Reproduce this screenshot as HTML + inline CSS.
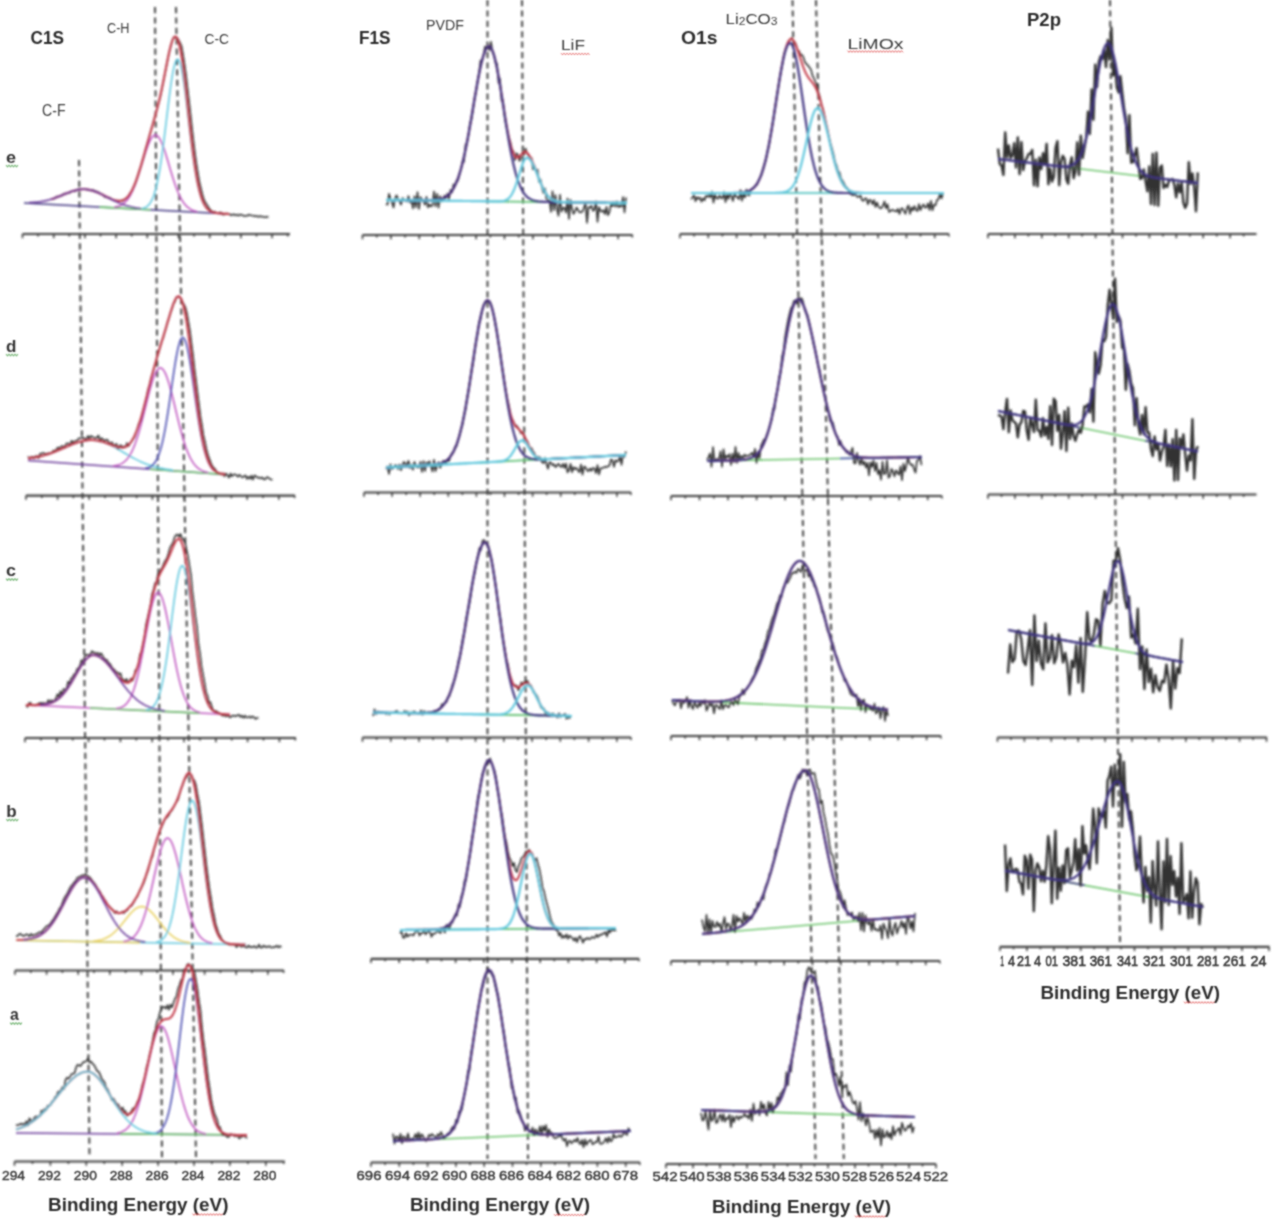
<!DOCTYPE html>
<html><head><meta charset="utf-8"><style>
html,body{margin:0;padding:0;background:#fff;}
body{width:1280px;height:1225px;overflow:hidden;font-family:"Liberation Sans",sans-serif;}
svg{display:block;}
</style></head><body>
<svg width="1280" height="1225" viewBox="0 0 1280 1225" font-family="Liberation Sans, sans-serif">
<rect width="1280" height="1225" fill="#fff"/>
<defs><filter id="bl" x="-5%" y="-5%" width="110%" height="110%"><feGaussianBlur stdDeviation="0.8"/></filter><filter id="bt" x="-5%" y="-5%" width="110%" height="110%"><feConvolveMatrix order="3" kernelMatrix="1 2 1 2 6 2 1 2 1" preserveAlpha="false"/></filter></defs>
<g filter="url(#bl)">
<line x1="79.0" y1="160.0" x2="89.5" y2="1158.0" stroke="#454545" stroke-width="2.0" stroke-dasharray="6.2 4.2"/>
<line x1="155.0" y1="7.0" x2="162.0" y2="1160.0" stroke="#454545" stroke-width="2.0" stroke-dasharray="6.2 4.2"/>
<line x1="176.0" y1="7.0" x2="196.0" y2="1158.0" stroke="#454545" stroke-width="2.0" stroke-dasharray="6.2 4.2"/>
<line x1="487.5" y1="0.0" x2="487.5" y2="1159.0" stroke="#454545" stroke-width="2.0" stroke-dasharray="6.2 4.2"/>
<line x1="522.0" y1="0.0" x2="528.0" y2="1159.0" stroke="#454545" stroke-width="2.0" stroke-dasharray="6.2 4.2"/>
<line x1="792.5" y1="0.0" x2="815.5" y2="1159.0" stroke="#454545" stroke-width="2.0" stroke-dasharray="6.2 4.2"/>
<line x1="816.0" y1="0.0" x2="843.8" y2="1159.0" stroke="#454545" stroke-width="2.0" stroke-dasharray="6.2 4.2"/>
<line x1="1110.0" y1="0.0" x2="1120.0" y2="942.0" stroke="#454545" stroke-width="2.0" stroke-dasharray="6.2 4.2"/>
<line x1="22.5" y1="234.0" x2="290.0" y2="234.0" stroke="#3e3e3e" stroke-width="2.2" />
<line x1="22.5" y1="234.0" x2="22.5" y2="238.2" stroke="#3e3e3e" stroke-width="1.6" />
<line x1="38.1" y1="234.0" x2="38.1" y2="236.5" stroke="#3e3e3e" stroke-width="1.6" />
<line x1="53.7" y1="234.0" x2="53.7" y2="238.2" stroke="#3e3e3e" stroke-width="1.6" />
<line x1="69.3" y1="234.0" x2="69.3" y2="236.5" stroke="#3e3e3e" stroke-width="1.6" />
<line x1="84.9" y1="234.0" x2="84.9" y2="238.2" stroke="#3e3e3e" stroke-width="1.6" />
<line x1="100.5" y1="234.0" x2="100.5" y2="236.5" stroke="#3e3e3e" stroke-width="1.6" />
<line x1="116.1" y1="234.0" x2="116.1" y2="238.2" stroke="#3e3e3e" stroke-width="1.6" />
<line x1="131.7" y1="234.0" x2="131.7" y2="236.5" stroke="#3e3e3e" stroke-width="1.6" />
<line x1="147.3" y1="234.0" x2="147.3" y2="238.2" stroke="#3e3e3e" stroke-width="1.6" />
<line x1="162.9" y1="234.0" x2="162.9" y2="236.5" stroke="#3e3e3e" stroke-width="1.6" />
<line x1="178.5" y1="234.0" x2="178.5" y2="238.2" stroke="#3e3e3e" stroke-width="1.6" />
<line x1="194.1" y1="234.0" x2="194.1" y2="236.5" stroke="#3e3e3e" stroke-width="1.6" />
<line x1="209.7" y1="234.0" x2="209.7" y2="238.2" stroke="#3e3e3e" stroke-width="1.6" />
<line x1="225.3" y1="234.0" x2="225.3" y2="236.5" stroke="#3e3e3e" stroke-width="1.6" />
<line x1="240.9" y1="234.0" x2="240.9" y2="238.2" stroke="#3e3e3e" stroke-width="1.6" />
<line x1="256.5" y1="234.0" x2="256.5" y2="236.5" stroke="#3e3e3e" stroke-width="1.6" />
<line x1="272.1" y1="234.0" x2="272.1" y2="238.2" stroke="#3e3e3e" stroke-width="1.6" />
<line x1="287.7" y1="234.0" x2="287.7" y2="236.5" stroke="#3e3e3e" stroke-width="1.6" />
<line x1="26.0" y1="495.6" x2="295.0" y2="495.6" stroke="#3e3e3e" stroke-width="2.2" />
<line x1="26.0" y1="495.6" x2="26.0" y2="499.8" stroke="#3e3e3e" stroke-width="1.6" />
<line x1="41.8" y1="495.6" x2="41.8" y2="498.1" stroke="#3e3e3e" stroke-width="1.6" />
<line x1="57.6" y1="495.6" x2="57.6" y2="499.8" stroke="#3e3e3e" stroke-width="1.6" />
<line x1="73.4" y1="495.6" x2="73.4" y2="498.1" stroke="#3e3e3e" stroke-width="1.6" />
<line x1="89.2" y1="495.6" x2="89.2" y2="499.8" stroke="#3e3e3e" stroke-width="1.6" />
<line x1="105.0" y1="495.6" x2="105.0" y2="498.1" stroke="#3e3e3e" stroke-width="1.6" />
<line x1="120.8" y1="495.6" x2="120.8" y2="499.8" stroke="#3e3e3e" stroke-width="1.6" />
<line x1="136.6" y1="495.6" x2="136.6" y2="498.1" stroke="#3e3e3e" stroke-width="1.6" />
<line x1="152.4" y1="495.6" x2="152.4" y2="499.8" stroke="#3e3e3e" stroke-width="1.6" />
<line x1="168.2" y1="495.6" x2="168.2" y2="498.1" stroke="#3e3e3e" stroke-width="1.6" />
<line x1="184.0" y1="495.6" x2="184.0" y2="499.8" stroke="#3e3e3e" stroke-width="1.6" />
<line x1="199.8" y1="495.6" x2="199.8" y2="498.1" stroke="#3e3e3e" stroke-width="1.6" />
<line x1="215.6" y1="495.6" x2="215.6" y2="499.8" stroke="#3e3e3e" stroke-width="1.6" />
<line x1="231.4" y1="495.6" x2="231.4" y2="498.1" stroke="#3e3e3e" stroke-width="1.6" />
<line x1="247.2" y1="495.6" x2="247.2" y2="499.8" stroke="#3e3e3e" stroke-width="1.6" />
<line x1="263.0" y1="495.6" x2="263.0" y2="498.1" stroke="#3e3e3e" stroke-width="1.6" />
<line x1="278.8" y1="495.6" x2="278.8" y2="499.8" stroke="#3e3e3e" stroke-width="1.6" />
<line x1="294.6" y1="495.6" x2="294.6" y2="498.1" stroke="#3e3e3e" stroke-width="1.6" />
<line x1="25.0" y1="738.0" x2="296.0" y2="738.0" stroke="#3e3e3e" stroke-width="2.2" />
<line x1="25.0" y1="738.0" x2="25.0" y2="742.2" stroke="#3e3e3e" stroke-width="1.6" />
<line x1="40.9" y1="738.0" x2="40.9" y2="740.5" stroke="#3e3e3e" stroke-width="1.6" />
<line x1="56.8" y1="738.0" x2="56.8" y2="742.2" stroke="#3e3e3e" stroke-width="1.6" />
<line x1="72.7" y1="738.0" x2="72.7" y2="740.5" stroke="#3e3e3e" stroke-width="1.6" />
<line x1="88.6" y1="738.0" x2="88.6" y2="742.2" stroke="#3e3e3e" stroke-width="1.6" />
<line x1="104.5" y1="738.0" x2="104.5" y2="740.5" stroke="#3e3e3e" stroke-width="1.6" />
<line x1="120.4" y1="738.0" x2="120.4" y2="742.2" stroke="#3e3e3e" stroke-width="1.6" />
<line x1="136.3" y1="738.0" x2="136.3" y2="740.5" stroke="#3e3e3e" stroke-width="1.6" />
<line x1="152.2" y1="738.0" x2="152.2" y2="742.2" stroke="#3e3e3e" stroke-width="1.6" />
<line x1="168.1" y1="738.0" x2="168.1" y2="740.5" stroke="#3e3e3e" stroke-width="1.6" />
<line x1="184.0" y1="738.0" x2="184.0" y2="742.2" stroke="#3e3e3e" stroke-width="1.6" />
<line x1="199.9" y1="738.0" x2="199.9" y2="740.5" stroke="#3e3e3e" stroke-width="1.6" />
<line x1="215.8" y1="738.0" x2="215.8" y2="742.2" stroke="#3e3e3e" stroke-width="1.6" />
<line x1="231.7" y1="738.0" x2="231.7" y2="740.5" stroke="#3e3e3e" stroke-width="1.6" />
<line x1="247.6" y1="738.0" x2="247.6" y2="742.2" stroke="#3e3e3e" stroke-width="1.6" />
<line x1="263.5" y1="738.0" x2="263.5" y2="740.5" stroke="#3e3e3e" stroke-width="1.6" />
<line x1="279.4" y1="738.0" x2="279.4" y2="742.2" stroke="#3e3e3e" stroke-width="1.6" />
<line x1="295.3" y1="738.0" x2="295.3" y2="740.5" stroke="#3e3e3e" stroke-width="1.6" />
<line x1="15.0" y1="970.5" x2="284.0" y2="970.5" stroke="#3e3e3e" stroke-width="2.2" />
<line x1="15.0" y1="970.5" x2="15.0" y2="974.7" stroke="#3e3e3e" stroke-width="1.6" />
<line x1="30.8" y1="970.5" x2="30.8" y2="973.0" stroke="#3e3e3e" stroke-width="1.6" />
<line x1="46.6" y1="970.5" x2="46.6" y2="974.7" stroke="#3e3e3e" stroke-width="1.6" />
<line x1="62.4" y1="970.5" x2="62.4" y2="973.0" stroke="#3e3e3e" stroke-width="1.6" />
<line x1="78.2" y1="970.5" x2="78.2" y2="974.7" stroke="#3e3e3e" stroke-width="1.6" />
<line x1="94.0" y1="970.5" x2="94.0" y2="973.0" stroke="#3e3e3e" stroke-width="1.6" />
<line x1="109.8" y1="970.5" x2="109.8" y2="974.7" stroke="#3e3e3e" stroke-width="1.6" />
<line x1="125.6" y1="970.5" x2="125.6" y2="973.0" stroke="#3e3e3e" stroke-width="1.6" />
<line x1="141.4" y1="970.5" x2="141.4" y2="974.7" stroke="#3e3e3e" stroke-width="1.6" />
<line x1="157.2" y1="970.5" x2="157.2" y2="973.0" stroke="#3e3e3e" stroke-width="1.6" />
<line x1="173.0" y1="970.5" x2="173.0" y2="974.7" stroke="#3e3e3e" stroke-width="1.6" />
<line x1="188.8" y1="970.5" x2="188.8" y2="973.0" stroke="#3e3e3e" stroke-width="1.6" />
<line x1="204.6" y1="970.5" x2="204.6" y2="974.7" stroke="#3e3e3e" stroke-width="1.6" />
<line x1="220.4" y1="970.5" x2="220.4" y2="973.0" stroke="#3e3e3e" stroke-width="1.6" />
<line x1="236.2" y1="970.5" x2="236.2" y2="974.7" stroke="#3e3e3e" stroke-width="1.6" />
<line x1="252.0" y1="970.5" x2="252.0" y2="973.0" stroke="#3e3e3e" stroke-width="1.6" />
<line x1="267.8" y1="970.5" x2="267.8" y2="974.7" stroke="#3e3e3e" stroke-width="1.6" />
<line x1="283.6" y1="970.5" x2="283.6" y2="973.0" stroke="#3e3e3e" stroke-width="1.6" />
<line x1="362.5" y1="235.0" x2="632.5" y2="235.0" stroke="#3e3e3e" stroke-width="2.2" />
<line x1="362.5" y1="235.0" x2="362.5" y2="239.2" stroke="#3e3e3e" stroke-width="1.6" />
<line x1="376.7" y1="235.0" x2="376.7" y2="237.5" stroke="#3e3e3e" stroke-width="1.6" />
<line x1="390.9" y1="235.0" x2="390.9" y2="239.2" stroke="#3e3e3e" stroke-width="1.6" />
<line x1="405.1" y1="235.0" x2="405.1" y2="237.5" stroke="#3e3e3e" stroke-width="1.6" />
<line x1="419.3" y1="235.0" x2="419.3" y2="239.2" stroke="#3e3e3e" stroke-width="1.6" />
<line x1="433.5" y1="235.0" x2="433.5" y2="237.5" stroke="#3e3e3e" stroke-width="1.6" />
<line x1="447.7" y1="235.0" x2="447.7" y2="239.2" stroke="#3e3e3e" stroke-width="1.6" />
<line x1="461.9" y1="235.0" x2="461.9" y2="237.5" stroke="#3e3e3e" stroke-width="1.6" />
<line x1="476.1" y1="235.0" x2="476.1" y2="239.2" stroke="#3e3e3e" stroke-width="1.6" />
<line x1="490.3" y1="235.0" x2="490.3" y2="237.5" stroke="#3e3e3e" stroke-width="1.6" />
<line x1="504.5" y1="235.0" x2="504.5" y2="239.2" stroke="#3e3e3e" stroke-width="1.6" />
<line x1="518.7" y1="235.0" x2="518.7" y2="237.5" stroke="#3e3e3e" stroke-width="1.6" />
<line x1="532.9" y1="235.0" x2="532.9" y2="239.2" stroke="#3e3e3e" stroke-width="1.6" />
<line x1="547.1" y1="235.0" x2="547.1" y2="237.5" stroke="#3e3e3e" stroke-width="1.6" />
<line x1="561.3" y1="235.0" x2="561.3" y2="239.2" stroke="#3e3e3e" stroke-width="1.6" />
<line x1="575.5" y1="235.0" x2="575.5" y2="237.5" stroke="#3e3e3e" stroke-width="1.6" />
<line x1="589.7" y1="235.0" x2="589.7" y2="239.2" stroke="#3e3e3e" stroke-width="1.6" />
<line x1="603.9" y1="235.0" x2="603.9" y2="237.5" stroke="#3e3e3e" stroke-width="1.6" />
<line x1="618.1" y1="235.0" x2="618.1" y2="239.2" stroke="#3e3e3e" stroke-width="1.6" />
<line x1="632.3" y1="235.0" x2="632.3" y2="237.5" stroke="#3e3e3e" stroke-width="1.6" />
<line x1="364.0" y1="492.5" x2="631.0" y2="492.5" stroke="#3e3e3e" stroke-width="2.2" />
<line x1="364.0" y1="492.5" x2="364.0" y2="496.7" stroke="#3e3e3e" stroke-width="1.6" />
<line x1="378.1" y1="492.5" x2="378.1" y2="495.0" stroke="#3e3e3e" stroke-width="1.6" />
<line x1="392.1" y1="492.5" x2="392.1" y2="496.7" stroke="#3e3e3e" stroke-width="1.6" />
<line x1="406.2" y1="492.5" x2="406.2" y2="495.0" stroke="#3e3e3e" stroke-width="1.6" />
<line x1="420.2" y1="492.5" x2="420.2" y2="496.7" stroke="#3e3e3e" stroke-width="1.6" />
<line x1="434.3" y1="492.5" x2="434.3" y2="495.0" stroke="#3e3e3e" stroke-width="1.6" />
<line x1="448.3" y1="492.5" x2="448.3" y2="496.7" stroke="#3e3e3e" stroke-width="1.6" />
<line x1="462.4" y1="492.5" x2="462.4" y2="495.0" stroke="#3e3e3e" stroke-width="1.6" />
<line x1="476.4" y1="492.5" x2="476.4" y2="496.7" stroke="#3e3e3e" stroke-width="1.6" />
<line x1="490.5" y1="492.5" x2="490.5" y2="495.0" stroke="#3e3e3e" stroke-width="1.6" />
<line x1="504.5" y1="492.5" x2="504.5" y2="496.7" stroke="#3e3e3e" stroke-width="1.6" />
<line x1="518.6" y1="492.5" x2="518.6" y2="495.0" stroke="#3e3e3e" stroke-width="1.6" />
<line x1="532.6" y1="492.5" x2="532.6" y2="496.7" stroke="#3e3e3e" stroke-width="1.6" />
<line x1="546.6" y1="492.5" x2="546.6" y2="495.0" stroke="#3e3e3e" stroke-width="1.6" />
<line x1="560.7" y1="492.5" x2="560.7" y2="496.7" stroke="#3e3e3e" stroke-width="1.6" />
<line x1="574.7" y1="492.5" x2="574.7" y2="495.0" stroke="#3e3e3e" stroke-width="1.6" />
<line x1="588.8" y1="492.5" x2="588.8" y2="496.7" stroke="#3e3e3e" stroke-width="1.6" />
<line x1="602.8" y1="492.5" x2="602.8" y2="495.0" stroke="#3e3e3e" stroke-width="1.6" />
<line x1="616.9" y1="492.5" x2="616.9" y2="496.7" stroke="#3e3e3e" stroke-width="1.6" />
<line x1="630.9" y1="492.5" x2="630.9" y2="495.0" stroke="#3e3e3e" stroke-width="1.6" />
<line x1="362.5" y1="737.5" x2="631.0" y2="737.5" stroke="#3e3e3e" stroke-width="2.2" />
<line x1="362.5" y1="737.5" x2="362.5" y2="741.7" stroke="#3e3e3e" stroke-width="1.6" />
<line x1="376.6" y1="737.5" x2="376.6" y2="740.0" stroke="#3e3e3e" stroke-width="1.6" />
<line x1="390.8" y1="737.5" x2="390.8" y2="741.7" stroke="#3e3e3e" stroke-width="1.6" />
<line x1="404.9" y1="737.5" x2="404.9" y2="740.0" stroke="#3e3e3e" stroke-width="1.6" />
<line x1="419.0" y1="737.5" x2="419.0" y2="741.7" stroke="#3e3e3e" stroke-width="1.6" />
<line x1="433.1" y1="737.5" x2="433.1" y2="740.0" stroke="#3e3e3e" stroke-width="1.6" />
<line x1="447.3" y1="737.5" x2="447.3" y2="741.7" stroke="#3e3e3e" stroke-width="1.6" />
<line x1="461.4" y1="737.5" x2="461.4" y2="740.0" stroke="#3e3e3e" stroke-width="1.6" />
<line x1="475.5" y1="737.5" x2="475.5" y2="741.7" stroke="#3e3e3e" stroke-width="1.6" />
<line x1="489.7" y1="737.5" x2="489.7" y2="740.0" stroke="#3e3e3e" stroke-width="1.6" />
<line x1="503.8" y1="737.5" x2="503.8" y2="741.7" stroke="#3e3e3e" stroke-width="1.6" />
<line x1="517.9" y1="737.5" x2="517.9" y2="740.0" stroke="#3e3e3e" stroke-width="1.6" />
<line x1="532.1" y1="737.5" x2="532.1" y2="741.7" stroke="#3e3e3e" stroke-width="1.6" />
<line x1="546.2" y1="737.5" x2="546.2" y2="740.0" stroke="#3e3e3e" stroke-width="1.6" />
<line x1="560.3" y1="737.5" x2="560.3" y2="741.7" stroke="#3e3e3e" stroke-width="1.6" />
<line x1="574.4" y1="737.5" x2="574.4" y2="740.0" stroke="#3e3e3e" stroke-width="1.6" />
<line x1="588.6" y1="737.5" x2="588.6" y2="741.7" stroke="#3e3e3e" stroke-width="1.6" />
<line x1="602.7" y1="737.5" x2="602.7" y2="740.0" stroke="#3e3e3e" stroke-width="1.6" />
<line x1="616.8" y1="737.5" x2="616.8" y2="741.7" stroke="#3e3e3e" stroke-width="1.6" />
<line x1="631.0" y1="737.5" x2="631.0" y2="740.0" stroke="#3e3e3e" stroke-width="1.6" />
<line x1="371.0" y1="958.8" x2="639.0" y2="958.8" stroke="#3e3e3e" stroke-width="2.2" />
<line x1="371.0" y1="958.8" x2="371.0" y2="963.0" stroke="#3e3e3e" stroke-width="1.6" />
<line x1="385.1" y1="958.8" x2="385.1" y2="961.3" stroke="#3e3e3e" stroke-width="1.6" />
<line x1="399.2" y1="958.8" x2="399.2" y2="963.0" stroke="#3e3e3e" stroke-width="1.6" />
<line x1="413.3" y1="958.8" x2="413.3" y2="961.3" stroke="#3e3e3e" stroke-width="1.6" />
<line x1="427.4" y1="958.8" x2="427.4" y2="963.0" stroke="#3e3e3e" stroke-width="1.6" />
<line x1="441.5" y1="958.8" x2="441.5" y2="961.3" stroke="#3e3e3e" stroke-width="1.6" />
<line x1="455.6" y1="958.8" x2="455.6" y2="963.0" stroke="#3e3e3e" stroke-width="1.6" />
<line x1="469.7" y1="958.8" x2="469.7" y2="961.3" stroke="#3e3e3e" stroke-width="1.6" />
<line x1="483.8" y1="958.8" x2="483.8" y2="963.0" stroke="#3e3e3e" stroke-width="1.6" />
<line x1="497.9" y1="958.8" x2="497.9" y2="961.3" stroke="#3e3e3e" stroke-width="1.6" />
<line x1="512.0" y1="958.8" x2="512.0" y2="963.0" stroke="#3e3e3e" stroke-width="1.6" />
<line x1="526.1" y1="958.8" x2="526.1" y2="961.3" stroke="#3e3e3e" stroke-width="1.6" />
<line x1="540.2" y1="958.8" x2="540.2" y2="963.0" stroke="#3e3e3e" stroke-width="1.6" />
<line x1="554.3" y1="958.8" x2="554.3" y2="961.3" stroke="#3e3e3e" stroke-width="1.6" />
<line x1="568.4" y1="958.8" x2="568.4" y2="963.0" stroke="#3e3e3e" stroke-width="1.6" />
<line x1="582.5" y1="958.8" x2="582.5" y2="961.3" stroke="#3e3e3e" stroke-width="1.6" />
<line x1="596.6" y1="958.8" x2="596.6" y2="963.0" stroke="#3e3e3e" stroke-width="1.6" />
<line x1="610.7" y1="958.8" x2="610.7" y2="961.3" stroke="#3e3e3e" stroke-width="1.6" />
<line x1="624.8" y1="958.8" x2="624.8" y2="963.0" stroke="#3e3e3e" stroke-width="1.6" />
<line x1="638.9" y1="958.8" x2="638.9" y2="961.3" stroke="#3e3e3e" stroke-width="1.6" />
<line x1="680.0" y1="234.0" x2="949.0" y2="234.0" stroke="#3e3e3e" stroke-width="2.2" />
<line x1="680.0" y1="234.0" x2="680.0" y2="238.2" stroke="#3e3e3e" stroke-width="1.6" />
<line x1="694.1" y1="234.0" x2="694.1" y2="236.5" stroke="#3e3e3e" stroke-width="1.6" />
<line x1="708.3" y1="234.0" x2="708.3" y2="238.2" stroke="#3e3e3e" stroke-width="1.6" />
<line x1="722.4" y1="234.0" x2="722.4" y2="236.5" stroke="#3e3e3e" stroke-width="1.6" />
<line x1="736.6" y1="234.0" x2="736.6" y2="238.2" stroke="#3e3e3e" stroke-width="1.6" />
<line x1="750.7" y1="234.0" x2="750.7" y2="236.5" stroke="#3e3e3e" stroke-width="1.6" />
<line x1="764.9" y1="234.0" x2="764.9" y2="238.2" stroke="#3e3e3e" stroke-width="1.6" />
<line x1="779.0" y1="234.0" x2="779.0" y2="236.5" stroke="#3e3e3e" stroke-width="1.6" />
<line x1="793.2" y1="234.0" x2="793.2" y2="238.2" stroke="#3e3e3e" stroke-width="1.6" />
<line x1="807.3" y1="234.0" x2="807.3" y2="236.5" stroke="#3e3e3e" stroke-width="1.6" />
<line x1="821.5" y1="234.0" x2="821.5" y2="238.2" stroke="#3e3e3e" stroke-width="1.6" />
<line x1="835.6" y1="234.0" x2="835.6" y2="236.5" stroke="#3e3e3e" stroke-width="1.6" />
<line x1="849.8" y1="234.0" x2="849.8" y2="238.2" stroke="#3e3e3e" stroke-width="1.6" />
<line x1="863.9" y1="234.0" x2="863.9" y2="236.5" stroke="#3e3e3e" stroke-width="1.6" />
<line x1="878.1" y1="234.0" x2="878.1" y2="238.2" stroke="#3e3e3e" stroke-width="1.6" />
<line x1="892.2" y1="234.0" x2="892.2" y2="236.5" stroke="#3e3e3e" stroke-width="1.6" />
<line x1="906.4" y1="234.0" x2="906.4" y2="238.2" stroke="#3e3e3e" stroke-width="1.6" />
<line x1="920.5" y1="234.0" x2="920.5" y2="236.5" stroke="#3e3e3e" stroke-width="1.6" />
<line x1="934.7" y1="234.0" x2="934.7" y2="238.2" stroke="#3e3e3e" stroke-width="1.6" />
<line x1="948.8" y1="234.0" x2="948.8" y2="236.5" stroke="#3e3e3e" stroke-width="1.6" />
<line x1="671.0" y1="496.0" x2="942.0" y2="496.0" stroke="#3e3e3e" stroke-width="2.2" />
<line x1="671.0" y1="496.0" x2="671.0" y2="500.2" stroke="#3e3e3e" stroke-width="1.6" />
<line x1="685.3" y1="496.0" x2="685.3" y2="498.5" stroke="#3e3e3e" stroke-width="1.6" />
<line x1="699.5" y1="496.0" x2="699.5" y2="500.2" stroke="#3e3e3e" stroke-width="1.6" />
<line x1="713.8" y1="496.0" x2="713.8" y2="498.5" stroke="#3e3e3e" stroke-width="1.6" />
<line x1="728.0" y1="496.0" x2="728.0" y2="500.2" stroke="#3e3e3e" stroke-width="1.6" />
<line x1="742.3" y1="496.0" x2="742.3" y2="498.5" stroke="#3e3e3e" stroke-width="1.6" />
<line x1="756.6" y1="496.0" x2="756.6" y2="500.2" stroke="#3e3e3e" stroke-width="1.6" />
<line x1="770.8" y1="496.0" x2="770.8" y2="498.5" stroke="#3e3e3e" stroke-width="1.6" />
<line x1="785.1" y1="496.0" x2="785.1" y2="500.2" stroke="#3e3e3e" stroke-width="1.6" />
<line x1="799.3" y1="496.0" x2="799.3" y2="498.5" stroke="#3e3e3e" stroke-width="1.6" />
<line x1="813.6" y1="496.0" x2="813.6" y2="500.2" stroke="#3e3e3e" stroke-width="1.6" />
<line x1="827.9" y1="496.0" x2="827.9" y2="498.5" stroke="#3e3e3e" stroke-width="1.6" />
<line x1="842.1" y1="496.0" x2="842.1" y2="500.2" stroke="#3e3e3e" stroke-width="1.6" />
<line x1="856.4" y1="496.0" x2="856.4" y2="498.5" stroke="#3e3e3e" stroke-width="1.6" />
<line x1="870.6" y1="496.0" x2="870.6" y2="500.2" stroke="#3e3e3e" stroke-width="1.6" />
<line x1="884.9" y1="496.0" x2="884.9" y2="498.5" stroke="#3e3e3e" stroke-width="1.6" />
<line x1="899.2" y1="496.0" x2="899.2" y2="500.2" stroke="#3e3e3e" stroke-width="1.6" />
<line x1="913.4" y1="496.0" x2="913.4" y2="498.5" stroke="#3e3e3e" stroke-width="1.6" />
<line x1="927.7" y1="496.0" x2="927.7" y2="500.2" stroke="#3e3e3e" stroke-width="1.6" />
<line x1="941.9" y1="496.0" x2="941.9" y2="498.5" stroke="#3e3e3e" stroke-width="1.6" />
<line x1="671.0" y1="736.0" x2="941.0" y2="736.0" stroke="#3e3e3e" stroke-width="2.2" />
<line x1="671.0" y1="736.0" x2="671.0" y2="740.2" stroke="#3e3e3e" stroke-width="1.6" />
<line x1="685.2" y1="736.0" x2="685.2" y2="738.5" stroke="#3e3e3e" stroke-width="1.6" />
<line x1="699.4" y1="736.0" x2="699.4" y2="740.2" stroke="#3e3e3e" stroke-width="1.6" />
<line x1="713.6" y1="736.0" x2="713.6" y2="738.5" stroke="#3e3e3e" stroke-width="1.6" />
<line x1="727.8" y1="736.0" x2="727.8" y2="740.2" stroke="#3e3e3e" stroke-width="1.6" />
<line x1="742.0" y1="736.0" x2="742.0" y2="738.5" stroke="#3e3e3e" stroke-width="1.6" />
<line x1="756.2" y1="736.0" x2="756.2" y2="740.2" stroke="#3e3e3e" stroke-width="1.6" />
<line x1="770.4" y1="736.0" x2="770.4" y2="738.5" stroke="#3e3e3e" stroke-width="1.6" />
<line x1="784.6" y1="736.0" x2="784.6" y2="740.2" stroke="#3e3e3e" stroke-width="1.6" />
<line x1="798.8" y1="736.0" x2="798.8" y2="738.5" stroke="#3e3e3e" stroke-width="1.6" />
<line x1="813.0" y1="736.0" x2="813.0" y2="740.2" stroke="#3e3e3e" stroke-width="1.6" />
<line x1="827.2" y1="736.0" x2="827.2" y2="738.5" stroke="#3e3e3e" stroke-width="1.6" />
<line x1="841.4" y1="736.0" x2="841.4" y2="740.2" stroke="#3e3e3e" stroke-width="1.6" />
<line x1="855.6" y1="736.0" x2="855.6" y2="738.5" stroke="#3e3e3e" stroke-width="1.6" />
<line x1="869.8" y1="736.0" x2="869.8" y2="740.2" stroke="#3e3e3e" stroke-width="1.6" />
<line x1="884.0" y1="736.0" x2="884.0" y2="738.5" stroke="#3e3e3e" stroke-width="1.6" />
<line x1="898.2" y1="736.0" x2="898.2" y2="740.2" stroke="#3e3e3e" stroke-width="1.6" />
<line x1="912.4" y1="736.0" x2="912.4" y2="738.5" stroke="#3e3e3e" stroke-width="1.6" />
<line x1="926.6" y1="736.0" x2="926.6" y2="740.2" stroke="#3e3e3e" stroke-width="1.6" />
<line x1="940.8" y1="736.0" x2="940.8" y2="738.5" stroke="#3e3e3e" stroke-width="1.6" />
<line x1="671.0" y1="961.0" x2="940.0" y2="961.0" stroke="#3e3e3e" stroke-width="2.2" />
<line x1="671.0" y1="961.0" x2="671.0" y2="965.2" stroke="#3e3e3e" stroke-width="1.6" />
<line x1="685.1" y1="961.0" x2="685.1" y2="963.5" stroke="#3e3e3e" stroke-width="1.6" />
<line x1="699.3" y1="961.0" x2="699.3" y2="965.2" stroke="#3e3e3e" stroke-width="1.6" />
<line x1="713.4" y1="961.0" x2="713.4" y2="963.5" stroke="#3e3e3e" stroke-width="1.6" />
<line x1="727.6" y1="961.0" x2="727.6" y2="965.2" stroke="#3e3e3e" stroke-width="1.6" />
<line x1="741.7" y1="961.0" x2="741.7" y2="963.5" stroke="#3e3e3e" stroke-width="1.6" />
<line x1="755.9" y1="961.0" x2="755.9" y2="965.2" stroke="#3e3e3e" stroke-width="1.6" />
<line x1="770.0" y1="961.0" x2="770.0" y2="963.5" stroke="#3e3e3e" stroke-width="1.6" />
<line x1="784.2" y1="961.0" x2="784.2" y2="965.2" stroke="#3e3e3e" stroke-width="1.6" />
<line x1="798.3" y1="961.0" x2="798.3" y2="963.5" stroke="#3e3e3e" stroke-width="1.6" />
<line x1="812.5" y1="961.0" x2="812.5" y2="965.2" stroke="#3e3e3e" stroke-width="1.6" />
<line x1="826.6" y1="961.0" x2="826.6" y2="963.5" stroke="#3e3e3e" stroke-width="1.6" />
<line x1="840.8" y1="961.0" x2="840.8" y2="965.2" stroke="#3e3e3e" stroke-width="1.6" />
<line x1="854.9" y1="961.0" x2="854.9" y2="963.5" stroke="#3e3e3e" stroke-width="1.6" />
<line x1="869.1" y1="961.0" x2="869.1" y2="965.2" stroke="#3e3e3e" stroke-width="1.6" />
<line x1="883.2" y1="961.0" x2="883.2" y2="963.5" stroke="#3e3e3e" stroke-width="1.6" />
<line x1="897.4" y1="961.0" x2="897.4" y2="965.2" stroke="#3e3e3e" stroke-width="1.6" />
<line x1="911.5" y1="961.0" x2="911.5" y2="963.5" stroke="#3e3e3e" stroke-width="1.6" />
<line x1="925.7" y1="961.0" x2="925.7" y2="965.2" stroke="#3e3e3e" stroke-width="1.6" />
<line x1="939.8" y1="961.0" x2="939.8" y2="963.5" stroke="#3e3e3e" stroke-width="1.6" />
<line x1="988.0" y1="234.0" x2="1256.5" y2="234.0" stroke="#3e3e3e" stroke-width="2.2" />
<line x1="988.0" y1="234.0" x2="988.0" y2="238.2" stroke="#3e3e3e" stroke-width="1.6" />
<line x1="1001.5" y1="234.0" x2="1001.5" y2="236.5" stroke="#3e3e3e" stroke-width="1.6" />
<line x1="1014.9" y1="234.0" x2="1014.9" y2="238.2" stroke="#3e3e3e" stroke-width="1.6" />
<line x1="1028.4" y1="234.0" x2="1028.4" y2="236.5" stroke="#3e3e3e" stroke-width="1.6" />
<line x1="1041.8" y1="234.0" x2="1041.8" y2="238.2" stroke="#3e3e3e" stroke-width="1.6" />
<line x1="1055.3" y1="234.0" x2="1055.3" y2="236.5" stroke="#3e3e3e" stroke-width="1.6" />
<line x1="1068.7" y1="234.0" x2="1068.7" y2="238.2" stroke="#3e3e3e" stroke-width="1.6" />
<line x1="1082.2" y1="234.0" x2="1082.2" y2="236.5" stroke="#3e3e3e" stroke-width="1.6" />
<line x1="1095.6" y1="234.0" x2="1095.6" y2="238.2" stroke="#3e3e3e" stroke-width="1.6" />
<line x1="1109.1" y1="234.0" x2="1109.1" y2="236.5" stroke="#3e3e3e" stroke-width="1.6" />
<line x1="1122.5" y1="234.0" x2="1122.5" y2="238.2" stroke="#3e3e3e" stroke-width="1.6" />
<line x1="1136.0" y1="234.0" x2="1136.0" y2="236.5" stroke="#3e3e3e" stroke-width="1.6" />
<line x1="1149.4" y1="234.0" x2="1149.4" y2="238.2" stroke="#3e3e3e" stroke-width="1.6" />
<line x1="1162.9" y1="234.0" x2="1162.9" y2="236.5" stroke="#3e3e3e" stroke-width="1.6" />
<line x1="1176.3" y1="234.0" x2="1176.3" y2="238.2" stroke="#3e3e3e" stroke-width="1.6" />
<line x1="1189.8" y1="234.0" x2="1189.8" y2="236.5" stroke="#3e3e3e" stroke-width="1.6" />
<line x1="1203.2" y1="234.0" x2="1203.2" y2="238.2" stroke="#3e3e3e" stroke-width="1.6" />
<line x1="1216.7" y1="234.0" x2="1216.7" y2="236.5" stroke="#3e3e3e" stroke-width="1.6" />
<line x1="1230.1" y1="234.0" x2="1230.1" y2="238.2" stroke="#3e3e3e" stroke-width="1.6" />
<line x1="1243.6" y1="234.0" x2="1243.6" y2="236.5" stroke="#3e3e3e" stroke-width="1.6" />
<line x1="988.0" y1="494.5" x2="1256.5" y2="494.5" stroke="#3e3e3e" stroke-width="2.2" />
<line x1="988.0" y1="494.5" x2="988.0" y2="498.7" stroke="#3e3e3e" stroke-width="1.6" />
<line x1="1001.5" y1="494.5" x2="1001.5" y2="497.0" stroke="#3e3e3e" stroke-width="1.6" />
<line x1="1014.9" y1="494.5" x2="1014.9" y2="498.7" stroke="#3e3e3e" stroke-width="1.6" />
<line x1="1028.4" y1="494.5" x2="1028.4" y2="497.0" stroke="#3e3e3e" stroke-width="1.6" />
<line x1="1041.8" y1="494.5" x2="1041.8" y2="498.7" stroke="#3e3e3e" stroke-width="1.6" />
<line x1="1055.3" y1="494.5" x2="1055.3" y2="497.0" stroke="#3e3e3e" stroke-width="1.6" />
<line x1="1068.7" y1="494.5" x2="1068.7" y2="498.7" stroke="#3e3e3e" stroke-width="1.6" />
<line x1="1082.2" y1="494.5" x2="1082.2" y2="497.0" stroke="#3e3e3e" stroke-width="1.6" />
<line x1="1095.6" y1="494.5" x2="1095.6" y2="498.7" stroke="#3e3e3e" stroke-width="1.6" />
<line x1="1109.1" y1="494.5" x2="1109.1" y2="497.0" stroke="#3e3e3e" stroke-width="1.6" />
<line x1="1122.5" y1="494.5" x2="1122.5" y2="498.7" stroke="#3e3e3e" stroke-width="1.6" />
<line x1="1136.0" y1="494.5" x2="1136.0" y2="497.0" stroke="#3e3e3e" stroke-width="1.6" />
<line x1="1149.4" y1="494.5" x2="1149.4" y2="498.7" stroke="#3e3e3e" stroke-width="1.6" />
<line x1="1162.9" y1="494.5" x2="1162.9" y2="497.0" stroke="#3e3e3e" stroke-width="1.6" />
<line x1="1176.3" y1="494.5" x2="1176.3" y2="498.7" stroke="#3e3e3e" stroke-width="1.6" />
<line x1="1189.8" y1="494.5" x2="1189.8" y2="497.0" stroke="#3e3e3e" stroke-width="1.6" />
<line x1="1203.2" y1="494.5" x2="1203.2" y2="498.7" stroke="#3e3e3e" stroke-width="1.6" />
<line x1="1216.7" y1="494.5" x2="1216.7" y2="497.0" stroke="#3e3e3e" stroke-width="1.6" />
<line x1="1230.1" y1="494.5" x2="1230.1" y2="498.7" stroke="#3e3e3e" stroke-width="1.6" />
<line x1="1243.6" y1="494.5" x2="1243.6" y2="497.0" stroke="#3e3e3e" stroke-width="1.6" />
<line x1="997.5" y1="737.5" x2="1267.0" y2="737.5" stroke="#3e3e3e" stroke-width="2.2" />
<line x1="997.5" y1="737.5" x2="997.5" y2="741.7" stroke="#3e3e3e" stroke-width="1.6" />
<line x1="1011.0" y1="737.5" x2="1011.0" y2="740.0" stroke="#3e3e3e" stroke-width="1.6" />
<line x1="1024.4" y1="737.5" x2="1024.4" y2="741.7" stroke="#3e3e3e" stroke-width="1.6" />
<line x1="1037.9" y1="737.5" x2="1037.9" y2="740.0" stroke="#3e3e3e" stroke-width="1.6" />
<line x1="1051.3" y1="737.5" x2="1051.3" y2="741.7" stroke="#3e3e3e" stroke-width="1.6" />
<line x1="1064.8" y1="737.5" x2="1064.8" y2="740.0" stroke="#3e3e3e" stroke-width="1.6" />
<line x1="1078.2" y1="737.5" x2="1078.2" y2="741.7" stroke="#3e3e3e" stroke-width="1.6" />
<line x1="1091.7" y1="737.5" x2="1091.7" y2="740.0" stroke="#3e3e3e" stroke-width="1.6" />
<line x1="1105.1" y1="737.5" x2="1105.1" y2="741.7" stroke="#3e3e3e" stroke-width="1.6" />
<line x1="1118.6" y1="737.5" x2="1118.6" y2="740.0" stroke="#3e3e3e" stroke-width="1.6" />
<line x1="1132.0" y1="737.5" x2="1132.0" y2="741.7" stroke="#3e3e3e" stroke-width="1.6" />
<line x1="1145.5" y1="737.5" x2="1145.5" y2="740.0" stroke="#3e3e3e" stroke-width="1.6" />
<line x1="1158.9" y1="737.5" x2="1158.9" y2="741.7" stroke="#3e3e3e" stroke-width="1.6" />
<line x1="1172.4" y1="737.5" x2="1172.4" y2="740.0" stroke="#3e3e3e" stroke-width="1.6" />
<line x1="1185.8" y1="737.5" x2="1185.8" y2="741.7" stroke="#3e3e3e" stroke-width="1.6" />
<line x1="1199.3" y1="737.5" x2="1199.3" y2="740.0" stroke="#3e3e3e" stroke-width="1.6" />
<line x1="1212.7" y1="737.5" x2="1212.7" y2="741.7" stroke="#3e3e3e" stroke-width="1.6" />
<line x1="1226.2" y1="737.5" x2="1226.2" y2="740.0" stroke="#3e3e3e" stroke-width="1.6" />
<line x1="1239.6" y1="737.5" x2="1239.6" y2="741.7" stroke="#3e3e3e" stroke-width="1.6" />
<line x1="1253.1" y1="737.5" x2="1253.1" y2="740.0" stroke="#3e3e3e" stroke-width="1.6" />
<line x1="1266.5" y1="737.5" x2="1266.5" y2="741.7" stroke="#3e3e3e" stroke-width="1.6" />
<line x1="1000.0" y1="946.8" x2="1269.5" y2="946.8" stroke="#3e3e3e" stroke-width="2.2" />
<line x1="1000.0" y1="946.8" x2="1000.0" y2="951.0" stroke="#3e3e3e" stroke-width="1.6" />
<line x1="1013.5" y1="946.8" x2="1013.5" y2="949.3" stroke="#3e3e3e" stroke-width="1.6" />
<line x1="1026.9" y1="946.8" x2="1026.9" y2="951.0" stroke="#3e3e3e" stroke-width="1.6" />
<line x1="1040.4" y1="946.8" x2="1040.4" y2="949.3" stroke="#3e3e3e" stroke-width="1.6" />
<line x1="1053.8" y1="946.8" x2="1053.8" y2="951.0" stroke="#3e3e3e" stroke-width="1.6" />
<line x1="1067.3" y1="946.8" x2="1067.3" y2="949.3" stroke="#3e3e3e" stroke-width="1.6" />
<line x1="1080.7" y1="946.8" x2="1080.7" y2="951.0" stroke="#3e3e3e" stroke-width="1.6" />
<line x1="1094.2" y1="946.8" x2="1094.2" y2="949.3" stroke="#3e3e3e" stroke-width="1.6" />
<line x1="1107.6" y1="946.8" x2="1107.6" y2="951.0" stroke="#3e3e3e" stroke-width="1.6" />
<line x1="1121.1" y1="946.8" x2="1121.1" y2="949.3" stroke="#3e3e3e" stroke-width="1.6" />
<line x1="1134.5" y1="946.8" x2="1134.5" y2="951.0" stroke="#3e3e3e" stroke-width="1.6" />
<line x1="1148.0" y1="946.8" x2="1148.0" y2="949.3" stroke="#3e3e3e" stroke-width="1.6" />
<line x1="1161.4" y1="946.8" x2="1161.4" y2="951.0" stroke="#3e3e3e" stroke-width="1.6" />
<line x1="1174.9" y1="946.8" x2="1174.9" y2="949.3" stroke="#3e3e3e" stroke-width="1.6" />
<line x1="1188.3" y1="946.8" x2="1188.3" y2="951.0" stroke="#3e3e3e" stroke-width="1.6" />
<line x1="1201.8" y1="946.8" x2="1201.8" y2="949.3" stroke="#3e3e3e" stroke-width="1.6" />
<line x1="1215.2" y1="946.8" x2="1215.2" y2="951.0" stroke="#3e3e3e" stroke-width="1.6" />
<line x1="1228.7" y1="946.8" x2="1228.7" y2="949.3" stroke="#3e3e3e" stroke-width="1.6" />
<line x1="1242.1" y1="946.8" x2="1242.1" y2="951.0" stroke="#3e3e3e" stroke-width="1.6" />
<line x1="1255.6" y1="946.8" x2="1255.6" y2="949.3" stroke="#3e3e3e" stroke-width="1.6" />
<line x1="1269.0" y1="946.8" x2="1269.0" y2="951.0" stroke="#3e3e3e" stroke-width="1.6" />
<line x1="14.5" y1="1161.5" x2="284.7" y2="1161.5" stroke="#3e3e3e" stroke-width="2.2" />
<line x1="14.5" y1="1161.5" x2="14.5" y2="1165.7" stroke="#3e3e3e" stroke-width="1.6" />
<line x1="32.5" y1="1161.5" x2="32.5" y2="1164.0" stroke="#3e3e3e" stroke-width="1.6" />
<line x1="50.4" y1="1161.5" x2="50.4" y2="1165.7" stroke="#3e3e3e" stroke-width="1.6" />
<line x1="68.4" y1="1161.5" x2="68.4" y2="1164.0" stroke="#3e3e3e" stroke-width="1.6" />
<line x1="86.3" y1="1161.5" x2="86.3" y2="1165.7" stroke="#3e3e3e" stroke-width="1.6" />
<line x1="104.3" y1="1161.5" x2="104.3" y2="1164.0" stroke="#3e3e3e" stroke-width="1.6" />
<line x1="122.2" y1="1161.5" x2="122.2" y2="1165.7" stroke="#3e3e3e" stroke-width="1.6" />
<line x1="140.2" y1="1161.5" x2="140.2" y2="1164.0" stroke="#3e3e3e" stroke-width="1.6" />
<line x1="158.1" y1="1161.5" x2="158.1" y2="1165.7" stroke="#3e3e3e" stroke-width="1.6" />
<line x1="176.0" y1="1161.5" x2="176.0" y2="1164.0" stroke="#3e3e3e" stroke-width="1.6" />
<line x1="194.0" y1="1161.5" x2="194.0" y2="1165.7" stroke="#3e3e3e" stroke-width="1.6" />
<line x1="211.9" y1="1161.5" x2="211.9" y2="1164.0" stroke="#3e3e3e" stroke-width="1.6" />
<line x1="229.9" y1="1161.5" x2="229.9" y2="1165.7" stroke="#3e3e3e" stroke-width="1.6" />
<line x1="247.8" y1="1161.5" x2="247.8" y2="1164.0" stroke="#3e3e3e" stroke-width="1.6" />
<line x1="265.8" y1="1161.5" x2="265.8" y2="1165.7" stroke="#3e3e3e" stroke-width="1.6" />
<line x1="283.7" y1="1161.5" x2="283.7" y2="1164.0" stroke="#3e3e3e" stroke-width="1.6" />
<line x1="371.0" y1="1162.5" x2="640.0" y2="1162.5" stroke="#3e3e3e" stroke-width="2.2" />
<line x1="371.0" y1="1162.5" x2="371.0" y2="1166.7" stroke="#3e3e3e" stroke-width="1.6" />
<line x1="385.1" y1="1162.5" x2="385.1" y2="1165.0" stroke="#3e3e3e" stroke-width="1.6" />
<line x1="399.3" y1="1162.5" x2="399.3" y2="1166.7" stroke="#3e3e3e" stroke-width="1.6" />
<line x1="413.4" y1="1162.5" x2="413.4" y2="1165.0" stroke="#3e3e3e" stroke-width="1.6" />
<line x1="427.6" y1="1162.5" x2="427.6" y2="1166.7" stroke="#3e3e3e" stroke-width="1.6" />
<line x1="441.7" y1="1162.5" x2="441.7" y2="1165.0" stroke="#3e3e3e" stroke-width="1.6" />
<line x1="455.9" y1="1162.5" x2="455.9" y2="1166.7" stroke="#3e3e3e" stroke-width="1.6" />
<line x1="470.0" y1="1162.5" x2="470.0" y2="1165.0" stroke="#3e3e3e" stroke-width="1.6" />
<line x1="484.2" y1="1162.5" x2="484.2" y2="1166.7" stroke="#3e3e3e" stroke-width="1.6" />
<line x1="498.3" y1="1162.5" x2="498.3" y2="1165.0" stroke="#3e3e3e" stroke-width="1.6" />
<line x1="512.5" y1="1162.5" x2="512.5" y2="1166.7" stroke="#3e3e3e" stroke-width="1.6" />
<line x1="526.6" y1="1162.5" x2="526.6" y2="1165.0" stroke="#3e3e3e" stroke-width="1.6" />
<line x1="540.8" y1="1162.5" x2="540.8" y2="1166.7" stroke="#3e3e3e" stroke-width="1.6" />
<line x1="554.9" y1="1162.5" x2="554.9" y2="1165.0" stroke="#3e3e3e" stroke-width="1.6" />
<line x1="569.1" y1="1162.5" x2="569.1" y2="1166.7" stroke="#3e3e3e" stroke-width="1.6" />
<line x1="583.2" y1="1162.5" x2="583.2" y2="1165.0" stroke="#3e3e3e" stroke-width="1.6" />
<line x1="597.4" y1="1162.5" x2="597.4" y2="1166.7" stroke="#3e3e3e" stroke-width="1.6" />
<line x1="611.5" y1="1162.5" x2="611.5" y2="1165.0" stroke="#3e3e3e" stroke-width="1.6" />
<line x1="625.7" y1="1162.5" x2="625.7" y2="1166.7" stroke="#3e3e3e" stroke-width="1.6" />
<line x1="639.8" y1="1162.5" x2="639.8" y2="1165.0" stroke="#3e3e3e" stroke-width="1.6" />
<line x1="666.0" y1="1164.0" x2="936.0" y2="1164.0" stroke="#3e3e3e" stroke-width="2.2" />
<line x1="666.0" y1="1164.0" x2="666.0" y2="1168.2" stroke="#3e3e3e" stroke-width="1.6" />
<line x1="679.5" y1="1164.0" x2="679.5" y2="1166.5" stroke="#3e3e3e" stroke-width="1.6" />
<line x1="693.0" y1="1164.0" x2="693.0" y2="1168.2" stroke="#3e3e3e" stroke-width="1.6" />
<line x1="706.5" y1="1164.0" x2="706.5" y2="1166.5" stroke="#3e3e3e" stroke-width="1.6" />
<line x1="720.0" y1="1164.0" x2="720.0" y2="1168.2" stroke="#3e3e3e" stroke-width="1.6" />
<line x1="733.5" y1="1164.0" x2="733.5" y2="1166.5" stroke="#3e3e3e" stroke-width="1.6" />
<line x1="747.0" y1="1164.0" x2="747.0" y2="1168.2" stroke="#3e3e3e" stroke-width="1.6" />
<line x1="760.5" y1="1164.0" x2="760.5" y2="1166.5" stroke="#3e3e3e" stroke-width="1.6" />
<line x1="774.0" y1="1164.0" x2="774.0" y2="1168.2" stroke="#3e3e3e" stroke-width="1.6" />
<line x1="787.5" y1="1164.0" x2="787.5" y2="1166.5" stroke="#3e3e3e" stroke-width="1.6" />
<line x1="801.0" y1="1164.0" x2="801.0" y2="1168.2" stroke="#3e3e3e" stroke-width="1.6" />
<line x1="814.5" y1="1164.0" x2="814.5" y2="1166.5" stroke="#3e3e3e" stroke-width="1.6" />
<line x1="828.0" y1="1164.0" x2="828.0" y2="1168.2" stroke="#3e3e3e" stroke-width="1.6" />
<line x1="841.5" y1="1164.0" x2="841.5" y2="1166.5" stroke="#3e3e3e" stroke-width="1.6" />
<line x1="855.0" y1="1164.0" x2="855.0" y2="1168.2" stroke="#3e3e3e" stroke-width="1.6" />
<line x1="868.5" y1="1164.0" x2="868.5" y2="1166.5" stroke="#3e3e3e" stroke-width="1.6" />
<line x1="882.0" y1="1164.0" x2="882.0" y2="1168.2" stroke="#3e3e3e" stroke-width="1.6" />
<line x1="895.5" y1="1164.0" x2="895.5" y2="1166.5" stroke="#3e3e3e" stroke-width="1.6" />
<line x1="909.0" y1="1164.0" x2="909.0" y2="1168.2" stroke="#3e3e3e" stroke-width="1.6" />
<line x1="922.5" y1="1164.0" x2="922.5" y2="1166.5" stroke="#3e3e3e" stroke-width="1.6" />
<line x1="936.0" y1="1164.0" x2="936.0" y2="1168.2" stroke="#3e3e3e" stroke-width="1.6" />
<path d="M24.0 203.0 L229.0 214.0" fill="none" stroke="#403480" stroke-width="1.6" stroke-linejoin="round" opacity="1.0" />
<path d="M100.0 207.1 L150.0 209.8" fill="none" stroke="#6cc46c" stroke-width="1.6" stroke-linejoin="round" opacity="1.0" />
<path d="M114.0 207.1 L115.0 207.0 L116.0 206.8 L117.0 206.6 L118.0 206.4 L119.0 206.1 L120.0 205.7 L121.0 205.2 L122.0 204.6 L123.0 204.0 L124.0 203.2 L125.0 202.4 L126.0 201.3 L127.0 200.2 L128.0 198.9 L129.0 197.4 L130.0 195.8 L131.0 193.9 L132.0 191.9 L133.0 189.8 L134.0 187.4 L135.0 184.9 L136.0 182.2 L137.0 179.3 L138.0 176.3 L139.0 173.2 L140.0 170.0 L141.0 166.8 L142.0 163.5 L143.0 160.2 L144.0 157.0 L145.0 153.8 L146.0 150.8 L147.0 147.9 L148.0 145.2 L149.0 142.8 L150.0 140.6 L151.0 138.8 L152.0 137.3 L153.0 136.2 L154.0 135.4 L155.0 135.1 L156.0 135.1 L157.0 135.6 L158.0 136.4 L159.0 137.7 L160.0 139.3 L161.0 141.2 L162.0 143.5 L163.0 146.0 L164.0 148.8 L165.0 151.8 L166.0 154.9 L167.0 158.2 L168.0 161.6 L169.0 165.0 L170.0 168.4 L171.0 171.7 L172.0 175.0 L173.0 178.2 L174.0 181.3 L175.0 184.3 L176.0 187.1 L177.0 189.7 L178.0 192.2 L179.0 194.5 L180.0 196.6 L181.0 198.5 L182.0 200.2 L183.0 201.8 L184.0 203.2 L185.0 204.5 L186.0 205.6 L187.0 206.6 L188.0 207.5 L189.0 208.2 L190.0 208.9 L191.0 209.5 L192.0 210.0 L193.0 210.4 L194.0 210.8 L195.0 211.1 L196.0 211.3 L197.0 211.6" fill="none" stroke="#c058c0" stroke-width="1.6" stroke-linejoin="round" opacity="1.0" />
<path d="M142.0 208.5 L143.0 208.3 L144.0 208.0 L145.0 207.6 L146.0 207.1 L147.0 206.4 L148.0 205.6 L149.0 204.5 L150.0 203.2 L151.0 201.6 L152.0 199.7 L153.0 197.5 L154.0 194.8 L155.0 191.6 L156.0 188.0 L157.0 183.8 L158.0 179.1 L159.0 173.9 L160.0 168.0 L161.0 161.7 L162.0 154.8 L163.0 147.5 L164.0 139.7 L165.0 131.7 L166.0 123.5 L167.0 115.1 L168.0 106.9 L169.0 98.8 L170.0 91.1 L171.0 83.9 L172.0 77.4 L173.0 71.7 L174.0 67.0 L175.0 63.3 L176.0 60.8 L177.0 59.4 L178.0 59.4 L179.0 60.5 L180.0 62.9 L181.0 66.5 L182.0 71.2 L183.0 76.8 L184.0 83.3 L185.0 90.4 L186.0 98.1 L187.0 106.2 L188.0 114.6 L189.0 123.0 L190.0 131.4 L191.0 139.6 L192.0 147.5 L193.0 155.0 L194.0 162.1 L195.0 168.7 L196.0 174.7 L197.0 180.2 L198.0 185.1 L199.0 189.5 L200.0 193.3 L201.0 196.7 L202.0 199.6 L203.0 202.0 L204.0 204.1 L205.0 205.9 L206.0 207.3 L207.0 208.5 L208.0 209.5 L209.0 210.3 L210.0 211.0 L211.0 211.5 L212.0 211.9 L213.0 212.3 L214.0 212.6" fill="none" stroke="#62c8de" stroke-width="1.6" stroke-linejoin="round" opacity="1.0" />
<path d="M51.0 198.7 L52.5 199.0 L54.0 198.8 L55.5 197.5 L57.0 196.5 L58.5 196.6 L60.0 196.3 L61.5 196.0 L63.0 194.2 L64.5 193.5 L66.0 193.9 L67.5 193.2 L69.0 193.1 L70.5 192.3 L72.0 191.2 L73.5 190.7 L75.0 191.5 L76.5 189.9 L78.0 189.3 L79.5 188.9 L81.0 189.4 L82.5 189.3 L84.0 189.1 L85.5 189.3 L87.0 189.6 L88.5 190.0 L90.0 190.5 L91.5 190.5 L93.0 189.9 L94.5 191.6 L96.0 191.1 L97.5 192.4 L99.0 192.4 L100.5 193.8 L102.0 194.2 L103.5 195.4 L105.0 197.1 L106.5 196.7 L108.0 197.9 L109.5 197.5 L111.0 198.7 L112.5 199.8 L114.0 199.9 L115.5 200.6 L117.0 200.8 L118.5 200.4 L120.0 201.2 L121.5 200.2 L123.0 201.1 L124.5 199.2 L126.0 198.7 L127.5 196.9 L129.0 195.6 L130.5 192.5 L132.0 190.7 L133.5 187.0 L135.0 184.1 L136.5 179.8 L138.0 175.2 L139.5 170.1 L141.0 165.9 L142.5 160.6 L144.0 155.9 L145.5 149.6 L147.0 144.7 L148.5 139.4 L150.0 134.0 L151.5 128.8 L153.0 123.7 L154.5 118.0 L156.0 112.4 L157.5 107.1 L159.0 101.5 L160.5 95.5 L162.0 88.3 L163.5 81.1 L165.0 73.3 L166.5 65.5 L168.0 57.8 L169.5 51.1 L171.0 45.6 L172.5 40.0 L174.0 36.9 L175.5 37.4 L177.0 37.5 L178.5 39.9 L180.0 42.9 L181.5 46.0 L183.0 54.7 L184.5 64.3 L186.0 75.0 L187.5 88.0 L189.0 101.2 L190.5 114.4 L192.0 128.3 L193.5 141.5 L195.0 153.9 L196.5 164.6 L198.0 173.8 L199.5 182.8 L201.0 188.7 L202.5 195.1 L204.0 199.9 L205.5 202.8 L207.0 204.9 L208.5 207.5 L210.0 209.6 L211.5 210.9 L213.0 212.3 L214.5 211.6 L216.0 212.6 L217.5 213.3 L219.0 213.1 L220.5 212.3 L222.0 213.9 L223.5 214.8 L225.0 214.3 L226.5 213.4 L228.0 213.7 L229.5 214.1 L231.0 215.3 L232.5 214.6 L234.0 214.4 L235.5 215.3 L237.0 214.6 L238.5 215.7 L240.0 214.5 L241.5 214.7 L243.0 215.5 L244.5 215.9 L246.0 215.7 L247.5 215.6 L249.0 214.7 L250.5 215.3 L252.0 215.5 L253.5 215.7 L255.0 216.3 L256.5 216.0 L258.0 216.7 L259.5 216.4 L261.0 216.4 L262.5 216.7 L264.0 217.0 L265.5 217.3 L267.0 216.8 L268.5 217.0" fill="none" stroke="#303030" stroke-width="1.6" stroke-linejoin="round" opacity="1.0" />
<path d="M51.0 199.3 L52.0 199.0 L53.0 198.7 L54.0 198.3 L55.0 198.0 L56.0 197.6 L57.0 197.2 L58.0 196.8 L59.0 196.4 L60.0 196.0 L61.0 195.6 L62.0 195.2 L63.0 194.8 L64.0 194.4 L65.0 194.0 L66.0 193.5 L67.0 193.1 L68.0 192.7 L69.0 192.4 L70.0 192.0 L71.0 191.6 L72.0 191.3 L73.0 191.0 L74.0 190.7 L75.0 190.4 L76.0 190.2 L77.0 189.9 L78.0 189.7 L79.0 189.6 L80.0 189.4 L81.0 189.3 L82.0 189.3 L83.0 189.2 L84.0 189.2 L85.0 189.3 L86.0 189.3 L87.0 189.5 L88.0 189.6 L89.0 189.8 L90.0 190.0 L91.0 190.2 L92.0 190.5 L93.0 190.8 L94.0 191.1 L95.0 191.5 L96.0 191.9 L97.0 192.3 L98.0 192.7 L99.0 193.1 L100.0 193.6 L101.0 194.1 L102.0 194.5 L103.0 195.0 L104.0 195.5 L105.0 196.0 L106.0 196.5 L107.0 197.0 L108.0 197.5 L109.0 198.0 L110.0 198.4 L111.0 198.9 L112.0 199.3 L113.0 199.6 L114.0 200.0 L115.0 200.3 L116.0 200.5 L117.0 200.7 L118.0 200.8 L119.0 200.9 L120.0 200.9 L121.0 200.7 L122.0 200.5 L123.0 200.2 L124.0 199.7 L125.0 199.1 L126.0 198.3 L127.0 197.4 L128.0 196.3 L129.0 195.1 L130.0 193.6 L131.0 192.0 L132.0 190.2 L133.0 188.1 L134.0 185.9 L135.0 183.5 L136.0 180.9 L137.0 178.1 L138.0 175.2 L139.0 172.1 L140.0 168.9 L141.0 165.5 L142.0 162.1 L143.0 158.6 L144.0 155.1 L145.0 151.5 L146.0 148.0 L147.0 144.4 L148.0 140.9 L149.0 137.4 L150.0 133.9 L151.0 130.5 L152.0 127.0 L153.0 123.6 L154.0 120.1 L155.0 116.6 L156.0 112.9 L157.0 109.2 L158.0 105.3 L159.0 101.2 L160.0 97.0 L161.0 92.5 L162.0 87.9 L163.0 83.0 L164.0 78.0 L165.0 72.9 L166.0 67.8 L167.0 62.7 L168.0 57.7 L169.0 53.0 L170.0 48.6 L171.0 44.7 L172.0 41.5 L173.0 38.9 L174.0 37.2 L175.0 36.5 L176.0 36.7 L177.0 37.9 L178.0 40.3 L179.0 43.7 L180.0 48.1 L181.0 53.6 L182.0 59.9 L183.0 67.1 L184.0 74.9 L185.0 83.3 L186.0 92.1 L187.0 101.1 L188.0 110.3 L189.0 119.4 L190.0 128.4 L191.0 137.1 L192.0 145.4 L193.0 153.3 L194.0 160.7 L195.0 167.6 L196.0 173.8 L197.0 179.5 L198.0 184.5 L199.0 189.0 L200.0 193.0 L201.0 196.4 L202.0 199.4 L203.0 201.9 L204.0 204.0 L205.0 205.8 L206.0 207.3 L207.0 208.5 L208.0 209.5 L209.0 210.3 L210.0 211.0 L211.0 211.5 L212.0 211.9 L213.0 212.3 L214.0 212.6 L215.0 212.8 L216.0 213.0 L217.0 213.1 L218.0 213.2 L219.0 213.3 L220.0 213.4 L221.0 213.5 L222.0 213.6 L223.0 213.6 L224.0 213.7 L225.0 213.8 L226.0 213.8 L227.0 213.9 L228.0 213.9 L229.0 214.0" fill="none" stroke="#c43a4a" stroke-width="2.0" stroke-linejoin="round" opacity="1.0" />
<path d="M29.0 202.6 L30.0 202.6 L31.0 202.5 L32.0 202.5 L33.0 202.4 L34.0 202.4 L35.0 202.3 L36.0 202.2 L37.0 202.1 L38.0 202.0 L39.0 201.9 L40.0 201.8 L41.0 201.6 L42.0 201.4 L43.0 201.3 L44.0 201.1 L45.0 200.9 L46.0 200.6 L47.0 200.4 L48.0 200.2 L49.0 199.9 L50.0 199.6 L51.0 199.3 L52.0 199.0 L53.0 198.7 L54.0 198.3 L55.0 198.0 L56.0 197.6 L57.0 197.2 L58.0 196.8 L59.0 196.4 L60.0 196.0 L61.0 195.6 L62.0 195.2 L63.0 194.8 L64.0 194.4 L65.0 194.0 L66.0 193.5 L67.0 193.1 L68.0 192.7 L69.0 192.4 L70.0 192.0 L71.0 191.6 L72.0 191.3 L73.0 191.0 L74.0 190.7 L75.0 190.4 L76.0 190.2 L77.0 189.9 L78.0 189.7 L79.0 189.6 L80.0 189.4 L81.0 189.3 L82.0 189.3 L83.0 189.2 L84.0 189.2 L85.0 189.3 L86.0 189.3 L87.0 189.5 L88.0 189.6 L89.0 189.8 L90.0 190.0 L91.0 190.2 L92.0 190.5 L93.0 190.8 L94.0 191.1 L95.0 191.5 L96.0 191.9 L97.0 192.3 L98.0 192.7 L99.0 193.1 L100.0 193.6 L101.0 194.1 L102.0 194.6 L103.0 195.1 L104.0 195.6 L105.0 196.1 L106.0 196.6 L107.0 197.1 L108.0 197.7 L109.0 198.2 L110.0 198.7 L111.0 199.2 L112.0 199.7 L113.0 200.2 L114.0 200.7 L115.0 201.2 L116.0 201.6 L117.0 202.1 L118.0 202.5 L119.0 202.9 L120.0 203.4 L121.0 203.7 L122.0 204.1 L123.0 204.5 L124.0 204.8 L125.0 205.2 L126.0 205.5 L127.0 205.8 L128.0 206.1 L129.0 206.3 L130.0 206.6 L131.0 206.8 L132.0 207.1 L133.0 207.3 L134.0 207.5 L135.0 207.7 L136.0 207.9 L137.0 208.0 L138.0 208.2 L139.0 208.3 L140.0 208.5 L141.0 208.6" fill="none" stroke="#6a3a9a" stroke-width="1.6" stroke-linejoin="round" opacity="1.0" />
<path d="M28.0 460.5 L225.0 474.5" fill="none" stroke="#6a3a9a" stroke-width="1.6" stroke-linejoin="round" opacity="1.0" />
<path d="M150.0 469.2 L225.0 474.5" fill="none" stroke="#6cc46c" stroke-width="1.6" stroke-linejoin="round" opacity="1.0" />
<path d="M28.0 458.3 L29.0 458.2 L30.0 458.1 L31.0 458.0 L32.0 457.8 L33.0 457.7 L34.0 457.5 L35.0 457.4 L36.0 457.2 L37.0 457.0 L38.0 456.8 L39.0 456.6 L40.0 456.4 L41.0 456.2 L42.0 455.9 L43.0 455.7 L44.0 455.4 L45.0 455.1 L46.0 454.8 L47.0 454.5 L48.0 454.2 L49.0 453.9 L50.0 453.5 L51.0 453.2 L52.0 452.8 L53.0 452.5 L54.0 452.1 L55.0 451.7 L56.0 451.3 L57.0 450.9 L58.0 450.5 L59.0 450.0 L60.0 449.6 L61.0 449.2 L62.0 448.8 L63.0 448.3 L64.0 447.9 L65.0 447.5 L66.0 447.0 L67.0 446.6 L68.0 446.2 L69.0 445.7 L70.0 445.3 L71.0 444.9 L72.0 444.5 L73.0 444.1 L74.0 443.8 L75.0 443.4 L76.0 443.0 L77.0 442.7 L78.0 442.4 L79.0 442.1 L80.0 441.8 L81.0 441.5 L82.0 441.3 L83.0 441.0 L84.0 440.8 L85.0 440.7 L86.0 440.5 L87.0 440.4 L88.0 440.3 L89.0 440.2 L90.0 440.1 L91.0 440.1 L92.0 440.1 L93.0 440.1 L94.0 440.2 L95.0 440.3 L96.0 440.4 L97.0 440.5 L98.0 440.7 L99.0 440.9 L100.0 441.1 L101.0 441.4 L102.0 441.7 L103.0 442.0 L104.0 442.3 L105.0 442.7 L106.0 443.1 L107.0 443.5 L108.0 443.9 L109.0 444.4 L110.0 444.9 L111.0 445.3 L112.0 445.8 L113.0 446.4 L114.0 446.9 L115.0 447.4 L116.0 448.0 L117.0 448.6 L118.0 449.1 L119.0 449.7 L120.0 450.3 L121.0 450.9 L122.0 451.5 L123.0 452.1 L124.0 452.7 L125.0 453.3 L126.0 453.9 L127.0 454.5 L128.0 455.0 L129.0 455.6 L130.0 456.2 L131.0 456.7 L132.0 457.3 L133.0 457.8 L134.0 458.4 L135.0 458.9 L136.0 459.4 L137.0 459.9 L138.0 460.4 L139.0 460.9 L140.0 461.4 L141.0 461.8 L142.0 462.2 L143.0 462.7 L144.0 463.1 L145.0 463.5 L146.0 463.9 L147.0 464.3 L148.0 464.6 L149.0 465.0 L150.0 465.3 L151.0 465.6 L152.0 465.9 L153.0 466.2 L154.0 466.5 L155.0 466.8 L156.0 467.1 L157.0 467.3 L158.0 467.5 L159.0 467.8 L160.0 468.0 L161.0 468.2 L162.0 468.4 L163.0 468.6 L164.0 468.8 L165.0 469.0 L166.0 469.2 L167.0 469.3 L168.0 469.5 L169.0 469.6 L170.0 469.8 L171.0 469.9 L172.0 470.1 L173.0 470.2" fill="none" stroke="#62c8de" stroke-width="1.6" stroke-linejoin="round" opacity="1.0" />
<path d="M113.0 465.9 L114.0 465.8 L115.0 465.7 L116.0 465.5 L117.0 465.3 L118.0 465.1 L119.0 464.7 L120.0 464.4 L121.0 463.9 L122.0 463.4 L123.0 462.8 L124.0 462.0 L125.0 461.2 L126.0 460.2 L127.0 459.1 L128.0 457.9 L129.0 456.4 L130.0 454.8 L131.0 453.1 L132.0 451.1 L133.0 449.0 L134.0 446.6 L135.0 444.1 L136.0 441.3 L137.0 438.3 L138.0 435.2 L139.0 431.9 L140.0 428.4 L141.0 424.7 L142.0 420.9 L143.0 417.0 L144.0 413.0 L145.0 409.0 L146.0 405.0 L147.0 400.9 L148.0 396.9 L149.0 393.1 L150.0 389.3 L151.0 385.8 L152.0 382.4 L153.0 379.4 L154.0 376.6 L155.0 374.2 L156.0 372.1 L157.0 370.4 L158.0 369.1 L159.0 368.3 L160.0 367.9 L161.0 368.0 L162.0 368.5 L163.0 369.5 L164.0 370.9 L165.0 372.7 L166.0 374.9 L167.0 377.5 L168.0 380.4 L169.0 383.6 L170.0 387.1 L171.0 390.8 L172.0 394.7 L173.0 398.7 L174.0 402.8 L175.0 407.0 L176.0 411.2 L177.0 415.4 L178.0 419.5 L179.0 423.6 L180.0 427.5 L181.0 431.3 L182.0 434.9 L183.0 438.4 L184.0 441.7 L185.0 444.8 L186.0 447.7 L187.0 450.4 L188.0 452.9 L189.0 455.2 L190.0 457.3 L191.0 459.2 L192.0 460.9 L193.0 462.5 L194.0 463.9 L195.0 465.1 L196.0 466.2 L197.0 467.2 L198.0 468.1 L199.0 468.9 L200.0 469.5 L201.0 470.1 L202.0 470.6 L203.0 471.1 L204.0 471.5 L205.0 471.8 L206.0 472.1 L207.0 472.4 L208.0 472.6" fill="none" stroke="#c058c0" stroke-width="1.6" stroke-linejoin="round" opacity="1.0" />
<path d="M145.0 468.2 L146.0 468.1 L147.0 467.9 L148.0 467.7 L149.0 467.3 L150.0 466.9 L151.0 466.3 L152.0 465.6 L153.0 464.7 L154.0 463.6 L155.0 462.3 L156.0 460.7 L157.0 458.8 L158.0 456.6 L159.0 454.1 L160.0 451.1 L161.0 447.7 L162.0 443.9 L163.0 439.7 L164.0 434.9 L165.0 429.8 L166.0 424.2 L167.0 418.2 L168.0 411.9 L169.0 405.3 L170.0 398.5 L171.0 391.5 L172.0 384.5 L173.0 377.6 L174.0 370.9 L175.0 364.5 L176.0 358.5 L177.0 353.1 L178.0 348.3 L179.0 344.4 L180.0 341.2 L181.0 339.0 L182.0 337.8 L183.0 337.5 L184.0 338.3 L185.0 340.1 L186.0 342.8 L187.0 346.4 L188.0 350.9 L189.0 356.1 L190.0 361.9 L191.0 368.2 L192.0 374.9 L193.0 381.8 L194.0 388.9 L195.0 396.0 L196.0 403.1 L197.0 410.0 L198.0 416.6 L199.0 423.0 L200.0 428.9 L201.0 434.5 L202.0 439.6 L203.0 444.3 L204.0 448.5 L205.0 452.3 L206.0 455.6 L207.0 458.6 L208.0 461.1 L209.0 463.4 L210.0 465.3 L211.0 466.9 L212.0 468.2 L213.0 469.4 L214.0 470.3 L215.0 471.1 L216.0 471.8 L217.0 472.3 L218.0 472.8 L219.0 473.1 L220.0 473.4" fill="none" stroke="#4a4cb0" stroke-width="1.6" stroke-linejoin="round" opacity="1.0" />
<path d="M28.0 456.4 L29.5 458.9 L31.0 457.1 L32.5 456.9 L34.0 458.4 L35.5 456.3 L37.0 456.0 L38.5 458.2 L40.0 453.9 L41.5 453.6 L43.0 452.9 L44.5 453.5 L46.0 454.1 L47.5 453.4 L49.0 453.2 L50.5 453.4 L52.0 452.4 L53.5 450.5 L55.0 451.2 L56.5 449.3 L58.0 447.4 L59.5 448.9 L61.0 446.6 L62.5 446.0 L64.0 448.1 L65.5 445.0 L67.0 443.4 L68.5 443.5 L70.0 445.5 L71.5 440.8 L73.0 442.8 L74.5 441.2 L76.0 440.8 L77.5 440.3 L79.0 438.3 L80.5 438.3 L82.0 438.3 L83.5 437.7 L85.0 439.1 L86.5 439.4 L88.0 435.9 L89.5 438.7 L91.0 435.9 L92.5 437.2 L94.0 437.5 L95.5 438.1 L97.0 437.5 L98.5 435.5 L100.0 441.6 L101.5 438.1 L103.0 439.3 L104.5 441.3 L106.0 439.8 L107.5 439.9 L109.0 443.2 L110.5 443.0 L112.0 442.3 L113.5 445.6 L115.0 444.9 L116.5 443.9 L118.0 448.7 L119.5 445.8 L121.0 445.2 L122.5 447.6 L124.0 446.3 L125.5 447.3 L127.0 443.0 L128.5 446.2 L130.0 443.3 L131.5 441.5 L133.0 439.0 L134.5 437.2 L136.0 432.8 L137.5 428.5 L139.0 423.2 L140.5 421.3 L142.0 415.1 L143.5 409.0 L145.0 403.3 L146.5 397.8 L148.0 389.7 L149.5 385.9 L151.0 378.2 L152.5 374.1 L154.0 368.3 L155.5 363.5 L157.0 356.9 L158.5 352.7 L160.0 347.3 L161.5 341.5 L163.0 338.5 L164.5 332.7 L166.0 328.0 L167.5 322.3 L169.0 317.9 L170.5 312.8 L172.0 308.8 L173.5 303.8 L175.0 301.5 L176.5 297.1 L178.0 296.7 L179.5 296.9 L181.0 298.6 L182.5 302.3 L184.0 304.6 L185.5 307.9 L187.0 313.7 L188.5 322.6 L190.0 331.3 L191.5 343.8 L193.0 355.4 L194.5 369.3 L196.0 380.7 L197.5 393.1 L199.0 404.9 L200.5 417.2 L202.0 425.6 L203.5 436.3 L205.0 441.8 L206.5 449.8 L208.0 454.9 L209.5 459.4 L211.0 463.3 L212.5 466.6 L214.0 468.1 L215.5 469.7 L217.0 472.8 L218.5 473.4 L220.0 473.2 L221.5 474.6 L223.0 473.1 L224.5 476.3 L226.0 473.5 L227.5 475.3 L229.0 477.6 L230.5 473.6 L232.0 476.3 L233.5 474.5 L235.0 474.4 L236.5 475.3 L238.0 476.7 L239.5 474.8 L241.0 476.3 L242.5 477.4 L244.0 476.3 L245.5 475.5 L247.0 478.9 L248.5 476.6 L250.0 478.8 L251.5 475.7 L253.0 479.6 L254.5 475.4 L256.0 476.4 L257.5 477.6 L259.0 477.5 L260.5 478.4 L262.0 477.4 L263.5 479.1 L265.0 479.5 L266.5 477.4 L268.0 477.4 L269.5 478.6 L271.0 479.7 L272.5 479.5" fill="none" stroke="#303030" stroke-width="1.6" stroke-linejoin="round" opacity="1.0" />
<path d="M28.0 458.3 L29.0 458.2 L30.0 458.1 L31.0 458.0 L32.0 457.8 L33.0 457.7 L34.0 457.5 L35.0 457.4 L36.0 457.2 L37.0 457.0 L38.0 456.8 L39.0 456.6 L40.0 456.4 L41.0 456.2 L42.0 455.9 L43.0 455.7 L44.0 455.4 L45.0 455.1 L46.0 454.8 L47.0 454.5 L48.0 454.2 L49.0 453.9 L50.0 453.5 L51.0 453.2 L52.0 452.8 L53.0 452.5 L54.0 452.1 L55.0 451.7 L56.0 451.3 L57.0 450.9 L58.0 450.5 L59.0 450.0 L60.0 449.6 L61.0 449.2 L62.0 448.8 L63.0 448.3 L64.0 447.9 L65.0 447.5 L66.0 447.0 L67.0 446.6 L68.0 446.2 L69.0 445.7 L70.0 445.3 L71.0 444.9 L72.0 444.5 L73.0 444.1 L74.0 443.8 L75.0 443.4 L76.0 443.0 L77.0 442.7 L78.0 442.4 L79.0 442.1 L80.0 441.8 L81.0 441.5 L82.0 441.3 L83.0 441.0 L84.0 440.8 L85.0 440.7 L86.0 440.5 L87.0 440.4 L88.0 440.3 L89.0 440.2 L90.0 440.1 L91.0 440.1 L92.0 440.1 L93.0 440.1 L94.0 440.2 L95.0 440.3 L96.0 440.4 L97.0 440.5 L98.0 440.7 L99.0 440.9 L100.0 441.1 L101.0 441.4 L102.0 441.6 L103.0 441.9 L104.0 442.3 L105.0 442.6 L106.0 443.0 L107.0 443.3 L108.0 443.7 L109.0 444.1 L110.0 444.5 L111.0 444.9 L112.0 445.3 L113.0 445.7 L114.0 446.1 L115.0 446.4 L116.0 446.8 L117.0 447.0 L118.0 447.3 L119.0 447.5 L120.0 447.6 L121.0 447.7 L122.0 447.7 L123.0 447.6 L124.0 447.4 L125.0 447.1 L126.0 446.6 L127.0 446.0 L128.0 445.3 L129.0 444.4 L130.0 443.3 L131.0 442.0 L132.0 440.5 L133.0 438.8 L134.0 436.9 L135.0 434.8 L136.0 432.5 L137.0 430.0 L138.0 427.2 L139.0 424.3 L140.0 421.1 L141.0 417.8 L142.0 414.3 L143.0 410.7 L144.0 406.9 L145.0 403.1 L146.0 399.1 L147.0 395.2 L148.0 391.2 L149.0 387.1 L150.0 383.2 L151.0 379.2 L152.0 375.3 L153.0 371.5 L154.0 367.8 L155.0 364.2 L156.0 360.7 L157.0 357.2 L158.0 353.9 L159.0 350.5 L160.0 347.3 L161.0 344.1 L162.0 340.8 L163.0 337.6 L164.0 334.3 L165.0 331.0 L166.0 327.7 L167.0 324.3 L168.0 320.9 L169.0 317.5 L170.0 314.2 L171.0 310.9 L172.0 307.8 L173.0 304.9 L174.0 302.3 L175.0 300.0 L176.0 298.2 L177.0 297.0 L178.0 296.3 L179.0 296.3 L180.0 297.1 L181.0 298.6 L182.0 301.0 L183.0 304.2 L184.0 308.2 L185.0 313.0 L186.0 318.6 L187.0 324.9 L188.0 331.8 L189.0 339.2 L190.0 347.0 L191.0 355.2 L192.0 363.5 L193.0 372.0 L194.0 380.4 L195.0 388.7 L196.0 396.8 L197.0 404.7 L198.0 412.1 L199.0 419.2 L200.0 425.7 L201.0 431.8 L202.0 437.4 L203.0 442.4 L204.0 447.0 L205.0 451.0 L206.0 454.6 L207.0 457.7 L208.0 460.5 L209.0 462.8 L210.0 464.8 L211.0 466.5 L212.0 468.0 L213.0 469.2 L214.0 470.2 L215.0 471.0 L216.0 471.7 L217.0 472.2 L218.0 472.7 L219.0 473.1 L220.0 473.4 L221.0 473.6 L222.0 473.9 L223.0 474.0 L224.0 474.2 L225.0 474.3" fill="none" stroke="#c43a4a" stroke-width="2.0" stroke-linejoin="round" opacity="1.0" />
<path d="M26.0 705.0 L230.0 714.5" fill="none" stroke="#c058c0" stroke-width="1.6" stroke-linejoin="round" opacity="1.0" />
<path d="M90.0 708.0 L200.0 713.1" fill="none" stroke="#6cc46c" stroke-width="1.6" stroke-linejoin="round" opacity="1.0" />
<path d="M116.0 708.6 L117.0 708.5 L118.0 708.3 L119.0 708.1 L120.0 707.8 L121.0 707.4 L122.0 707.0 L123.0 706.5 L124.0 705.8 L125.0 705.1 L126.0 704.1 L127.0 703.0 L128.0 701.8 L129.0 700.3 L130.0 698.6 L131.0 696.6 L132.0 694.4 L133.0 691.9 L134.0 689.1 L135.0 685.9 L136.0 682.5 L137.0 678.8 L138.0 674.8 L139.0 670.4 L140.0 665.8 L141.0 660.9 L142.0 655.8 L143.0 650.6 L144.0 645.2 L145.0 639.7 L146.0 634.2 L147.0 628.8 L148.0 623.5 L149.0 618.4 L150.0 613.6 L151.0 609.1 L152.0 605.0 L153.0 601.4 L154.0 598.4 L155.0 595.9 L156.0 594.1 L157.0 593.0 L158.0 592.6 L159.0 592.8 L160.0 593.8 L161.0 595.4 L162.0 597.7 L163.0 600.6 L164.0 604.1 L165.0 608.0 L166.0 612.5 L167.0 617.3 L168.0 622.3 L169.0 627.7 L170.0 633.2 L171.0 638.7 L172.0 644.3 L173.0 649.8 L174.0 655.2 L175.0 660.5 L176.0 665.5 L177.0 670.3 L178.0 674.9 L179.0 679.1 L180.0 683.1 L181.0 686.7 L182.0 690.1 L183.0 693.1 L184.0 695.8 L185.0 698.2 L186.0 700.4 L187.0 702.3 L188.0 704.0 L189.0 705.4 L190.0 706.7 L191.0 707.8 L192.0 708.7 L193.0 709.5 L194.0 710.1 L195.0 710.7 L196.0 711.2 L197.0 711.6 L198.0 711.9 L199.0 712.2 L200.0 712.4" fill="none" stroke="#c058c0" stroke-width="1.6" stroke-linejoin="round" opacity="1.0" />
<path d="M146.0 710.0 L147.0 709.8 L148.0 709.5 L149.0 709.2 L150.0 708.8 L151.0 708.3 L152.0 707.6 L153.0 706.7 L154.0 705.6 L155.0 704.3 L156.0 702.6 L157.0 700.7 L158.0 698.4 L159.0 695.6 L160.0 692.5 L161.0 688.8 L162.0 684.6 L163.0 679.9 L164.0 674.7 L165.0 668.9 L166.0 662.6 L167.0 655.8 L168.0 648.6 L169.0 641.1 L170.0 633.2 L171.0 625.3 L172.0 617.2 L173.0 609.3 L174.0 601.6 L175.0 594.3 L176.0 587.6 L177.0 581.5 L178.0 576.3 L179.0 572.0 L180.0 568.7 L181.0 566.6 L182.0 565.7 L183.0 566.0 L184.0 567.5 L185.0 570.2 L186.0 573.9 L187.0 578.7 L188.0 584.4 L189.0 590.8 L190.0 597.9 L191.0 605.5 L192.0 613.4 L193.0 621.4 L194.0 629.6 L195.0 637.6 L196.0 645.4 L197.0 652.9 L198.0 660.1 L199.0 666.8 L200.0 672.9 L201.0 678.6 L202.0 683.7 L203.0 688.3 L204.0 692.3 L205.0 695.9 L206.0 699.0 L207.0 701.6 L208.0 703.9 L209.0 705.8 L210.0 707.4 L211.0 708.7 L212.0 709.8 L213.0 710.7 L214.0 711.4 L215.0 712.0 L216.0 712.5 L217.0 712.9 L218.0 713.2" fill="none" stroke="#62c8de" stroke-width="1.6" stroke-linejoin="round" opacity="1.0" />
<path d="M26.0 704.8 L27.5 707.0 L29.0 703.0 L30.5 702.7 L32.0 705.6 L33.5 705.1 L35.0 704.8 L36.5 704.9 L38.0 703.8 L39.5 703.2 L41.0 702.9 L42.5 703.4 L44.0 702.7 L45.5 704.3 L47.0 702.8 L48.5 700.0 L50.0 702.9 L51.5 700.1 L53.0 701.6 L54.5 700.6 L56.0 698.3 L57.5 694.2 L59.0 697.2 L60.5 691.3 L62.0 695.5 L63.5 689.1 L65.0 689.4 L66.5 689.6 L68.0 681.8 L69.5 683.7 L71.0 678.5 L72.5 677.6 L74.0 674.2 L75.5 673.9 L77.0 669.2 L78.5 668.2 L80.0 665.6 L81.5 660.0 L83.0 663.1 L84.5 657.2 L86.0 654.6 L87.5 654.7 L89.0 655.2 L90.5 654.0 L92.0 651.1 L93.5 652.8 L95.0 652.6 L96.5 654.2 L98.0 652.7 L99.5 655.6 L101.0 653.3 L102.5 655.6 L104.0 658.5 L105.5 659.5 L107.0 660.1 L108.5 663.0 L110.0 663.8 L111.5 666.8 L113.0 668.9 L114.5 669.8 L116.0 672.4 L117.5 672.2 L119.0 674.3 L120.5 673.3 L122.0 679.8 L123.5 679.4 L125.0 681.9 L126.5 678.9 L128.0 682.4 L129.5 681.1 L131.0 678.5 L132.5 680.7 L134.0 677.0 L135.5 670.0 L137.0 669.1 L138.5 664.6 L140.0 654.2 L141.5 652.1 L143.0 644.4 L144.5 637.3 L146.0 624.6 L147.5 618.5 L149.0 611.9 L150.5 605.5 L152.0 594.6 L153.5 590.1 L155.0 583.3 L156.5 581.9 L158.0 574.2 L159.5 573.3 L161.0 569.4 L162.5 567.3 L164.0 563.1 L165.5 560.4 L167.0 558.3 L168.5 553.5 L170.0 547.6 L171.5 545.3 L173.0 542.9 L174.5 537.7 L176.0 534.9 L177.5 534.5 L179.0 536.9 L180.5 533.9 L182.0 538.4 L183.5 540.1 L185.0 542.5 L186.5 549.6 L188.0 556.7 L189.5 566.4 L191.0 575.5 L192.5 592.7 L194.0 604.0 L195.5 616.9 L197.0 627.4 L198.5 644.5 L200.0 653.4 L201.5 666.4 L203.0 674.6 L204.5 682.6 L206.0 692.2 L207.5 695.7 L209.0 702.6 L210.5 702.4 L212.0 707.4 L213.5 711.2 L215.0 710.8 L216.5 711.3 L218.0 712.3 L219.5 713.4 L221.0 714.4 L222.5 715.7 L224.0 714.9 L225.5 716.3 L227.0 716.2 L228.5 715.4 L230.0 717.5 L231.5 716.3 L233.0 715.5 L234.5 715.9 L236.0 716.1 L237.5 715.2 L239.0 714.8 L240.5 717.0 L242.0 715.7 L243.5 717.8 L245.0 715.7 L246.5 717.5 L248.0 717.2 L249.5 716.5 L251.0 717.8 L252.5 716.3 L254.0 717.3 L255.5 718.9 L257.0 718.0 L258.5 717.9" fill="none" stroke="#303030" stroke-width="1.6" stroke-linejoin="round" opacity="1.0" />
<path d="M26.0 705.0 L27.0 705.0 L28.0 705.0 L29.0 705.1 L30.0 705.1 L31.0 705.1 L32.0 705.1 L33.0 705.1 L34.0 705.2 L35.0 705.2 L36.0 705.2 L37.0 705.1 L38.0 705.1 L39.0 705.1 L40.0 705.0 L41.0 705.0 L42.0 704.9 L43.0 704.8 L44.0 704.7 L45.0 704.5 L46.0 704.3 L47.0 704.1 L48.0 703.9 L49.0 703.6 L50.0 703.3 L51.0 703.0 L52.0 702.6 L53.0 702.1 L54.0 701.6 L55.0 701.1 L56.0 700.5 L57.0 699.8 L58.0 699.1 L59.0 698.3 L60.0 697.4 L61.0 696.5 L62.0 695.4 L63.0 694.3 L64.0 693.2 L65.0 691.9 L66.0 690.6 L67.0 689.3 L68.0 687.8 L69.0 686.3 L70.0 684.8 L71.0 683.2 L72.0 681.5 L73.0 679.8 L74.0 678.1 L75.0 676.4 L76.0 674.6 L77.0 672.9 L78.0 671.2 L79.0 669.5 L80.0 667.8 L81.0 666.2 L82.0 664.7 L83.0 663.2 L84.0 661.9 L85.0 660.6 L86.0 659.4 L87.0 658.4 L88.0 657.5 L89.0 656.7 L90.0 656.1 L91.0 655.6 L92.0 655.3 L93.0 655.2 L94.0 655.2 L95.0 655.3 L96.0 655.5 L97.0 655.8 L98.0 656.2 L99.0 656.7 L100.0 657.2 L101.0 657.9 L102.0 658.6 L103.0 659.4 L104.0 660.3 L105.0 661.2 L106.0 662.2 L107.0 663.3 L108.0 664.4 L109.0 665.5 L110.0 666.7 L111.0 667.9 L112.0 669.2 L113.0 670.4 L114.0 671.7 L115.0 672.9 L116.0 674.2 L117.0 675.4 L118.0 676.5 L119.0 677.7 L120.0 678.7 L121.0 679.7 L122.0 680.6 L123.0 681.3 L124.0 682.0 L125.0 682.4 L126.0 682.7 L127.0 682.8 L128.0 682.7 L129.0 682.3 L130.0 681.7 L131.0 680.8 L132.0 679.5 L133.0 678.0 L134.0 676.1 L135.0 673.9 L136.0 671.3 L137.0 668.4 L138.0 665.1 L139.0 661.4 L140.0 657.5 L141.0 653.2 L142.0 648.7 L143.0 643.9 L144.0 638.9 L145.0 633.8 L146.0 628.7 L147.0 623.5 L148.0 618.3 L149.0 613.2 L150.0 608.2 L151.0 603.5 L152.0 598.9 L153.0 594.7 L154.0 590.8 L155.0 587.2 L156.0 583.9 L157.0 581.0 L158.0 578.3 L159.0 576.0 L160.0 573.8 L161.0 571.9 L162.0 570.1 L163.0 568.3 L164.0 566.6 L165.0 564.8 L166.0 563.0 L167.0 561.0 L168.0 558.9 L169.0 556.7 L170.0 554.4 L171.0 551.9 L172.0 549.5 L173.0 547.0 L174.0 544.7 L175.0 542.7 L176.0 541.0 L177.0 539.7 L178.0 539.0 L179.0 538.9 L180.0 539.6 L181.0 541.1 L182.0 543.5 L183.0 546.7 L184.0 550.9 L185.0 556.0 L186.0 561.8 L187.0 568.5 L188.0 575.8 L189.0 583.6 L190.0 591.9 L191.0 600.5 L192.0 609.3 L193.0 618.1 L194.0 626.9 L195.0 635.4 L196.0 643.7 L197.0 651.6 L198.0 659.0 L199.0 665.9 L200.0 672.3 L201.0 678.1 L202.0 683.3 L203.0 688.0 L204.0 692.1 L205.0 695.7 L206.0 698.9 L207.0 701.5 L208.0 703.8 L209.0 705.8 L210.0 707.4 L211.0 708.7 L212.0 709.8 L213.0 710.7 L214.0 711.4 L215.0 712.0 L216.0 712.5 L217.0 712.9 L218.0 713.2 L219.0 713.4 L220.0 713.6 L221.0 713.8 L222.0 713.9 L223.0 714.0 L224.0 714.1 L225.0 714.2 L226.0 714.3 L227.0 714.3 L228.0 714.4 L229.0 714.4 L230.0 714.5" fill="none" stroke="#c43a4a" stroke-width="2.0" stroke-linejoin="round" opacity="1.0" />
<path d="M40.0 705.0 L41.0 705.0 L42.0 704.9 L43.0 704.8 L44.0 704.7 L45.0 704.5 L46.0 704.3 L47.0 704.1 L48.0 703.9 L49.0 703.6 L50.0 703.3 L51.0 703.0 L52.0 702.6 L53.0 702.1 L54.0 701.6 L55.0 701.1 L56.0 700.5 L57.0 699.8 L58.0 699.1 L59.0 698.3 L60.0 697.4 L61.0 696.5 L62.0 695.4 L63.0 694.3 L64.0 693.2 L65.0 691.9 L66.0 690.6 L67.0 689.3 L68.0 687.8 L69.0 686.3 L70.0 684.8 L71.0 683.2 L72.0 681.5 L73.0 679.8 L74.0 678.1 L75.0 676.4 L76.0 674.6 L77.0 672.9 L78.0 671.2 L79.0 669.5 L80.0 667.8 L81.0 666.2 L82.0 664.7 L83.0 663.2 L84.0 661.9 L85.0 660.6 L86.0 659.4 L87.0 658.4 L88.0 657.5 L89.0 656.7 L90.0 656.1 L91.0 655.6 L92.0 655.3 L93.0 655.2 L94.0 655.2 L95.0 655.3 L96.0 655.5 L97.0 655.8 L98.0 656.2 L99.0 656.7 L100.0 657.2 L101.0 657.9 L102.0 658.6 L103.0 659.4 L104.0 660.3 L105.0 661.2 L106.0 662.2 L107.0 663.3 L108.0 664.4 L109.0 665.6 L110.0 666.8 L111.0 668.1 L112.0 669.4 L113.0 670.7 L114.0 672.0 L115.0 673.4 L116.0 674.8 L117.0 676.2 L118.0 677.5 L119.0 678.9 L120.0 680.3 L121.0 681.7 L122.0 683.0 L123.0 684.4 L124.0 685.7 L125.0 687.0 L126.0 688.2 L127.0 689.5 L128.0 690.7 L129.0 691.8 L130.0 693.0 L131.0 694.0 L132.0 695.1 L133.0 696.1 L134.0 697.1 L135.0 698.0 L136.0 698.9 L137.0 699.8 L138.0 700.6 L139.0 701.3 L140.0 702.1 L141.0 702.8 L142.0 703.4 L143.0 704.0 L144.0 704.6 L145.0 705.1 L146.0 705.7 L147.0 706.1 L148.0 706.6 L149.0 707.0 L150.0 707.4 L151.0 707.8 L152.0 708.1 L153.0 708.4 L154.0 708.7 L155.0 709.0 L156.0 709.2 L157.0 709.5 L158.0 709.7 L159.0 709.9 L160.0 710.1 L161.0 710.2 L162.0 710.4 L163.0 710.6 L164.0 710.7 L165.0 710.8" fill="none" stroke="#6a3a9a" stroke-width="1.6" stroke-linejoin="round" opacity="1.0" />
<path d="M16.0 940.3 L246.0 944.5" fill="none" stroke="#62c8de" stroke-width="1.6" stroke-linejoin="round" opacity="1.0" />
<path d="M16.0 940.3 L140.0 942.6" fill="none" stroke="#e8d060" stroke-width="1.6" stroke-linejoin="round" opacity="1.0" />
<path d="M93.4 941.1 L94.4 941.0 L95.4 940.9 L96.4 940.7 L97.4 940.6 L98.4 940.4 L99.4 940.2 L100.4 940.0 L101.4 939.7 L102.4 939.4 L103.4 939.1 L104.4 938.7 L105.4 938.3 L106.4 937.8 L107.4 937.3 L108.4 936.8 L109.4 936.1 L110.4 935.5 L111.4 934.8 L112.4 934.0 L113.4 933.2 L114.4 932.3 L115.4 931.3 L116.4 930.3 L117.4 929.3 L118.4 928.2 L119.4 927.1 L120.4 925.9 L121.4 924.7 L122.4 923.5 L123.4 922.2 L124.4 921.0 L125.4 919.7 L126.4 918.4 L127.4 917.2 L128.4 916.0 L129.4 914.8 L130.4 913.6 L131.4 912.5 L132.4 911.5 L133.4 910.6 L134.4 909.7 L135.4 908.9 L136.4 908.3 L137.4 907.7 L138.4 907.2 L139.4 906.9 L140.4 906.7 L141.4 906.6 L142.4 906.6 L143.4 906.8 L144.4 907.1 L145.4 907.5 L146.4 908.0 L147.4 908.6 L148.4 909.3 L149.4 910.2 L150.4 911.1 L151.4 912.1 L152.4 913.1 L153.4 914.3 L154.4 915.5 L155.4 916.7 L156.4 918.0 L157.4 919.3 L158.4 920.5 L159.4 921.9 L160.4 923.1 L161.4 924.4 L162.4 925.7 L163.4 926.9 L164.4 928.1 L165.4 929.3 L166.4 930.4 L167.4 931.5 L168.4 932.5 L169.4 933.5 L170.4 934.4 L171.4 935.2 L172.4 936.0 L173.4 936.8 L174.4 937.5 L175.4 938.1 L176.4 938.7 L177.4 939.2 L178.4 939.7 L179.4 940.2 L180.4 940.6 L181.4 940.9 L182.4 941.3 L183.4 941.6 L184.4 941.8 L185.4 942.0 L186.4 942.3 L187.4 942.4 L188.4 942.6 L189.4 942.8 L190.4 942.9" fill="none" stroke="#e8d060" stroke-width="1.6" stroke-linejoin="round" opacity="1.0" />
<path d="M123.4 941.5 L124.4 941.4 L125.4 941.2 L126.4 940.9 L127.4 940.6 L128.4 940.3 L129.4 939.8 L130.4 939.3 L131.4 938.7 L132.4 938.0 L133.4 937.1 L134.4 936.1 L135.4 935.0 L136.4 933.7 L137.4 932.3 L138.4 930.6 L139.4 928.7 L140.4 926.7 L141.4 924.4 L142.4 921.8 L143.4 919.1 L144.4 916.0 L145.4 912.8 L146.4 909.3 L147.4 905.6 L148.4 901.7 L149.4 897.6 L150.4 893.4 L151.4 889.0 L152.4 884.5 L153.4 880.0 L154.4 875.5 L155.4 871.0 L156.4 866.6 L157.4 862.4 L158.4 858.3 L159.4 854.5 L160.4 850.9 L161.4 847.8 L162.4 845.0 L163.4 842.6 L164.4 840.7 L165.4 839.3 L166.4 838.4 L167.4 838.1 L168.4 838.3 L169.4 839.0 L170.4 840.2 L171.4 841.9 L172.4 844.1 L173.4 846.8 L174.4 849.9 L175.4 853.3 L176.4 857.0 L177.4 861.1 L178.4 865.3 L179.4 869.7 L180.4 874.2 L181.4 878.7 L182.4 883.3 L183.4 887.8 L184.4 892.3 L185.4 896.6 L186.4 900.8 L187.4 904.8 L188.4 908.6 L189.4 912.2 L190.4 915.6 L191.4 918.7 L192.4 921.7 L193.4 924.3 L194.4 926.8 L195.4 929.0 L196.4 930.9 L197.4 932.7 L198.4 934.3 L199.4 935.7 L200.4 936.9 L201.4 938.0 L202.4 938.9 L203.4 939.7 L204.4 940.4 L205.4 941.0 L206.4 941.5 L207.4 941.9 L208.4 942.3 L209.4 942.6 L210.4 942.9 L211.4 943.1 L212.4 943.3" fill="none" stroke="#c058c0" stroke-width="1.6" stroke-linejoin="round" opacity="1.0" />
<path d="M156.4 942.1 L157.4 941.9 L158.4 941.6 L159.4 941.2 L160.4 940.7 L161.4 940.1 L162.4 939.3 L163.4 938.3 L164.4 937.1 L165.4 935.7 L166.4 933.9 L167.4 931.8 L168.4 929.3 L169.4 926.4 L170.4 923.1 L171.4 919.2 L172.4 914.9 L173.4 910.0 L174.4 904.6 L175.4 898.7 L176.4 892.3 L177.4 885.4 L178.4 878.2 L179.4 870.6 L180.4 862.9 L181.4 855.0 L182.4 847.2 L183.4 839.5 L184.4 832.2 L185.4 825.3 L186.4 819.0 L187.4 813.4 L188.4 808.7 L189.4 805.0 L190.4 802.4 L191.4 800.9 L192.4 800.5 L193.4 801.4 L194.4 803.4 L195.4 806.5 L196.4 810.6 L197.4 815.7 L198.4 821.6 L199.4 828.2 L200.4 835.4 L201.4 842.9 L202.4 850.7 L203.4 858.6 L204.4 866.4 L205.4 874.2 L206.4 881.6 L207.4 888.7 L208.4 895.5 L209.4 901.7 L210.4 907.5 L211.4 912.7 L212.4 917.4 L213.4 921.6 L214.4 925.3 L215.4 928.5 L216.4 931.2 L217.4 933.6 L218.4 935.6 L219.4 937.3 L220.4 938.7 L221.4 939.8 L222.4 940.8 L223.4 941.5 L224.4 942.1 L225.4 942.6 L226.4 943.0 L227.4 943.3 L228.4 943.5" fill="none" stroke="#62c8de" stroke-width="1.6" stroke-linejoin="round" opacity="1.0" />
<path d="M16.0 936.1 L17.5 936.0 L19.0 934.2 L20.5 933.8 L22.0 935.3 L23.5 936.0 L25.0 935.3 L26.5 934.2 L28.0 934.9 L29.5 936.3 L31.0 933.9 L32.5 935.6 L34.0 934.9 L35.5 934.4 L37.0 934.2 L38.5 932.5 L40.0 932.2 L41.5 932.8 L43.0 930.0 L44.5 928.7 L46.0 926.6 L47.5 925.8 L49.0 925.1 L50.5 923.7 L52.0 921.2 L53.5 919.1 L55.0 916.8 L56.5 914.1 L58.0 912.1 L59.5 908.5 L61.0 906.7 L62.5 902.9 L64.0 898.9 L65.5 896.2 L67.0 894.2 L68.5 891.2 L70.0 887.9 L71.5 885.7 L73.0 884.1 L74.5 882.1 L76.0 880.5 L77.5 877.4 L79.0 877.0 L80.5 876.4 L82.0 875.2 L83.5 875.9 L85.0 874.3 L86.5 875.2 L88.0 876.3 L89.5 877.1 L91.0 878.9 L92.5 881.0 L94.0 882.8 L95.5 884.8 L97.0 887.3 L98.5 890.1 L100.0 891.7 L101.5 895.4 L103.0 896.9 L104.5 899.9 L106.0 901.5 L107.5 904.6 L109.0 906.1 L110.5 908.0 L112.0 909.1 L113.5 911.0 L115.0 913.2 L116.5 911.2 L118.0 913.4 L119.5 913.3 L121.0 912.7 L122.5 911.6 L124.0 913.1 L125.5 911.1 L127.0 910.6 L128.5 908.1 L130.0 906.2 L131.5 905.9 L133.0 903.6 L134.5 900.6 L136.0 898.2 L137.5 896.3 L139.0 892.3 L140.5 889.1 L142.0 886.3 L143.5 883.4 L145.0 879.3 L146.5 874.4 L148.0 870.7 L149.5 864.8 L151.0 859.5 L152.5 856.5 L154.0 849.2 L155.5 845.0 L157.0 840.0 L158.5 835.0 L160.0 830.8 L161.5 827.3 L163.0 823.8 L164.5 820.0 L166.0 818.0 L167.5 816.9 L169.0 814.5 L170.5 811.7 L172.0 810.1 L173.5 807.1 L175.0 804.3 L176.5 801.8 L178.0 799.8 L179.5 794.0 L181.0 788.6 L182.5 785.6 L184.0 780.9 L185.5 778.4 L187.0 776.2 L188.5 773.8 L190.0 774.6 L191.5 775.1 L193.0 779.1 L194.5 780.8 L196.0 785.5 L197.5 795.0 L199.0 802.2 L200.5 814.2 L202.0 826.2 L203.5 839.5 L205.0 852.6 L206.5 866.3 L208.0 877.8 L209.5 889.3 L211.0 898.2 L212.5 908.6 L214.0 915.1 L215.5 923.7 L217.0 928.2 L218.5 933.3 L220.0 935.6 L221.5 938.9 L223.0 940.8 L224.5 942.6 L226.0 943.3 L227.5 943.7 L229.0 944.5 L230.5 944.6 L232.0 944.7 L233.5 944.6 L235.0 944.5 L236.5 947.2 L238.0 945.3 L239.5 945.0 L241.0 946.7 L242.5 946.2 L244.0 946.0 L245.5 947.0 L247.0 947.6 L248.5 945.5 L250.0 947.3 L251.5 946.7 L253.0 947.2 L254.5 946.0 L256.0 947.7 L257.5 947.4 L259.0 944.7 L260.5 947.5 L262.0 947.6 L263.5 945.6 L265.0 946.9 L266.5 946.6 L268.0 946.9 L269.5 946.1 L271.0 947.4 L272.5 947.5 L274.0 946.9 L275.5 946.9 L277.0 945.7 L278.5 947.5 L280.0 946.1 L281.5 947.2" fill="none" stroke="#303030" stroke-width="1.6" stroke-linejoin="round" opacity="1.0" />
<path d="M16.4 940.1 L17.4 940.1 L18.4 940.1 L19.4 940.0 L20.4 940.0 L21.4 939.9 L22.4 939.9 L23.4 939.8 L24.4 939.7 L25.4 939.6 L26.4 939.5 L27.4 939.4 L28.4 939.2 L29.4 939.1 L30.4 938.9 L31.4 938.7 L32.4 938.4 L33.4 938.1 L34.4 937.8 L35.4 937.5 L36.4 937.1 L37.4 936.6 L38.4 936.2 L39.4 935.6 L40.4 935.0 L41.4 934.4 L42.4 933.7 L43.4 933.0 L44.4 932.2 L45.4 931.3 L46.4 930.3 L47.4 929.3 L48.4 928.2 L49.4 927.1 L50.4 925.8 L51.4 924.5 L52.4 923.2 L53.4 921.7 L54.4 920.2 L55.4 918.6 L56.4 917.0 L57.4 915.3 L58.4 913.6 L59.4 911.8 L60.4 910.0 L61.4 908.1 L62.4 906.2 L63.4 904.3 L64.4 902.4 L65.4 900.4 L66.4 898.5 L67.4 896.6 L68.4 894.8 L69.4 893.0 L70.4 891.2 L71.4 889.5 L72.4 887.9 L73.4 886.3 L74.4 884.9 L75.4 883.5 L76.4 882.3 L77.4 881.2 L78.4 880.2 L79.4 879.4 L80.4 878.7 L81.4 878.1 L82.4 877.7 L83.4 877.5 L84.4 877.4 L85.4 877.5 L86.4 877.7 L87.4 878.1 L88.4 878.6 L89.4 879.3 L90.4 880.1 L91.4 881.0 L92.4 882.1 L93.4 883.2 L94.4 884.5 L95.4 885.9 L96.4 887.3 L97.4 888.8 L98.4 890.3 L99.4 891.9 L100.4 893.5 L101.4 895.1 L102.4 896.7 L103.4 898.3 L104.4 899.9 L105.4 901.4 L106.4 902.9 L107.4 904.3 L108.4 905.6 L109.4 906.8 L110.4 908.0 L111.4 909.0 L112.4 909.9 L113.4 910.7 L114.4 911.4 L115.4 912.0 L116.4 912.4 L117.4 912.7 L118.4 912.9 L119.4 913.0 L120.4 912.9 L121.4 912.7 L122.4 912.4 L123.4 911.9 L124.4 911.4 L125.4 910.7 L126.4 910.0 L127.4 909.1 L128.4 908.2 L129.4 907.1 L130.4 906.0 L131.4 904.8 L132.4 903.5 L133.4 902.1 L134.4 900.6 L135.4 899.0 L136.4 897.3 L137.4 895.5 L138.4 893.6 L139.4 891.6 L140.4 889.5 L141.4 887.3 L142.4 884.9 L143.4 882.4 L144.4 879.7 L145.4 877.0 L146.4 874.1 L147.4 871.0 L148.4 867.9 L149.4 864.7 L150.4 861.3 L151.4 857.9 L152.4 854.5 L153.4 851.1 L154.4 847.6 L155.4 844.2 L156.4 840.9 L157.4 837.7 L158.4 834.6 L159.4 831.7 L160.4 828.9 L161.4 826.4 L162.4 824.0 L163.4 821.9 L164.4 819.9 L165.4 818.2 L166.4 816.6 L167.4 815.2 L168.4 813.9 L169.4 812.6 L170.4 811.4 L171.4 810.1 L172.4 808.7 L173.4 807.2 L174.4 805.5 L175.4 803.6 L176.4 801.5 L177.4 799.2 L178.4 796.6 L179.4 793.9 L180.4 791.0 L181.4 788.0 L182.4 785.0 L183.4 782.2 L184.4 779.5 L185.4 777.1 L186.4 775.2 L187.4 773.8 L188.4 773.1 L189.4 773.1 L190.4 773.9 L191.4 775.6 L192.4 778.2 L193.4 781.8 L194.4 786.3 L195.4 791.6 L196.4 797.8 L197.4 804.7 L198.4 812.2 L199.4 820.1 L200.4 828.5 L201.4 837.1 L202.4 845.8 L203.4 854.5 L204.4 863.1 L205.4 871.4 L206.4 879.3 L207.4 886.9 L208.4 893.9 L209.4 900.5 L210.4 906.5 L211.4 911.9 L212.4 916.8 L213.4 921.1 L214.4 924.9 L215.4 928.2 L216.4 931.0 L217.4 933.4 L218.4 935.5 L219.4 937.2 L220.4 938.6 L221.4 939.8 L222.4 940.7 L223.4 941.5 L224.4 942.1 L225.4 942.6 L226.4 943.0 L227.4 943.3 L228.4 943.5 L229.4 943.7 L230.4 943.9 L231.4 944.0 L232.4 944.1 L233.4 944.1 L234.4 944.2 L235.4 944.2 L236.4 944.3 L237.4 944.3 L238.4 944.3 L239.4 944.4 L240.4 944.4 L241.4 944.4 L242.4 944.4 L243.4 944.4 L244.4 944.5 L245.4 944.5" fill="none" stroke="#c43a4a" stroke-width="2.0" stroke-linejoin="round" opacity="1.0" />
<path d="M23.4 939.8 L24.4 939.7 L25.4 939.6 L26.4 939.5 L27.4 939.4 L28.4 939.2 L29.4 939.1 L30.4 938.9 L31.4 938.7 L32.4 938.4 L33.4 938.1 L34.4 937.8 L35.4 937.5 L36.4 937.1 L37.4 936.6 L38.4 936.2 L39.4 935.6 L40.4 935.0 L41.4 934.4 L42.4 933.7 L43.4 933.0 L44.4 932.2 L45.4 931.3 L46.4 930.3 L47.4 929.3 L48.4 928.2 L49.4 927.1 L50.4 925.8 L51.4 924.5 L52.4 923.2 L53.4 921.7 L54.4 920.2 L55.4 918.6 L56.4 917.0 L57.4 915.3 L58.4 913.6 L59.4 911.8 L60.4 910.0 L61.4 908.1 L62.4 906.2 L63.4 904.3 L64.4 902.4 L65.4 900.4 L66.4 898.5 L67.4 896.6 L68.4 894.8 L69.4 893.0 L70.4 891.2 L71.4 889.5 L72.4 887.9 L73.4 886.3 L74.4 884.9 L75.4 883.5 L76.4 882.3 L77.4 881.2 L78.4 880.3 L79.4 879.4 L80.4 878.7 L81.4 878.2 L82.4 877.8 L83.4 877.6 L84.4 877.5 L85.4 877.6 L86.4 877.9 L87.4 878.3 L88.4 878.9 L89.4 879.6 L90.4 880.5 L91.4 881.5 L92.4 882.6 L93.4 883.9 L94.4 885.2 L95.4 886.7 L96.4 888.3 L97.4 890.0 L98.4 891.7 L99.4 893.5 L100.4 895.4 L101.4 897.3 L102.4 899.2 L103.4 901.1 L104.4 903.1 L105.4 905.0 L106.4 907.0 L107.4 908.9 L108.4 910.8 L109.4 912.7 L110.4 914.5 L111.4 916.3 L112.4 918.0 L113.4 919.7 L114.4 921.3 L115.4 922.9 L116.4 924.3 L117.4 925.7 L118.4 927.1 L119.4 928.3 L120.4 929.5 L121.4 930.7 L122.4 931.7 L123.4 932.7 L124.4 933.6 L125.4 934.5 L126.4 935.3 L127.4 936.0 L128.4 936.7 L129.4 937.3 L130.4 937.8 L131.4 938.4 L132.4 938.8 L133.4 939.3 L134.4 939.6 L135.4 940.0 L136.4 940.3 L137.4 940.6 L138.4 940.9 L139.4 941.1 L140.4 941.3 L141.4 941.5 L142.4 941.6 L143.4 941.8 L144.4 941.9 L145.4 942.0" fill="none" stroke="#6a3a9a" stroke-width="1.6" stroke-linejoin="round" opacity="1.0" />
<path d="M16.0 1133.0 L247.0 1135.0" fill="none" stroke="#6a3a9a" stroke-width="1.6" stroke-linejoin="round" opacity="1.0" />
<path d="M120.0 1133.9 L230.0 1134.8" fill="none" stroke="#6cc46c" stroke-width="1.6" stroke-linejoin="round" opacity="1.0" />
<path d="M117.0 1133.1 L118.0 1133.0 L119.0 1132.8 L120.0 1132.5 L121.0 1132.2 L122.0 1131.8 L123.0 1131.3 L124.0 1130.8 L125.0 1130.2 L126.0 1129.4 L127.0 1128.5 L128.0 1127.5 L129.0 1126.4 L130.0 1125.0 L131.0 1123.5 L132.0 1121.8 L133.0 1119.9 L134.0 1117.8 L135.0 1115.4 L136.0 1112.8 L137.0 1110.0 L138.0 1106.9 L139.0 1103.5 L140.0 1099.9 L141.0 1096.1 L142.0 1092.1 L143.0 1087.9 L144.0 1083.6 L145.0 1079.1 L146.0 1074.5 L147.0 1069.8 L148.0 1065.1 L149.0 1060.5 L150.0 1056.0 L151.0 1051.6 L152.0 1047.4 L153.0 1043.4 L154.0 1039.7 L155.0 1036.4 L156.0 1033.5 L157.0 1031.1 L158.0 1029.1 L159.0 1027.6 L160.0 1026.7 L161.0 1026.3 L162.0 1026.4 L163.0 1027.1 L164.0 1028.3 L165.0 1030.1 L166.0 1032.3 L167.0 1035.0 L168.0 1038.2 L169.0 1041.7 L170.0 1045.5 L171.0 1049.6 L172.0 1053.9 L173.0 1058.4 L174.0 1063.0 L175.0 1067.7 L176.0 1072.4 L177.0 1077.0 L178.0 1081.6 L179.0 1086.1 L180.0 1090.4 L181.0 1094.5 L182.0 1098.4 L183.0 1102.1 L184.0 1105.6 L185.0 1108.8 L186.0 1111.8 L187.0 1114.6 L188.0 1117.1 L189.0 1119.3 L190.0 1121.4 L191.0 1123.2 L192.0 1124.8 L193.0 1126.3 L194.0 1127.5 L195.0 1128.6 L196.0 1129.6 L197.0 1130.4 L198.0 1131.1 L199.0 1131.7 L200.0 1132.2 L201.0 1132.7 L202.0 1133.0 L203.0 1133.3 L204.0 1133.6 L205.0 1133.8 L206.0 1134.0" fill="none" stroke="#c058c0" stroke-width="1.6" stroke-linejoin="round" opacity="1.0" />
<path d="M154.0 1133.6 L155.0 1133.3 L156.0 1133.1 L157.0 1132.7 L158.0 1132.2 L159.0 1131.7 L160.0 1130.9 L161.0 1130.0 L162.0 1128.8 L163.0 1127.4 L164.0 1125.7 L165.0 1123.7 L166.0 1121.3 L167.0 1118.4 L168.0 1115.1 L169.0 1111.3 L170.0 1106.9 L171.0 1102.0 L172.0 1096.5 L173.0 1090.4 L174.0 1083.8 L175.0 1076.7 L176.0 1069.1 L177.0 1061.1 L178.0 1052.8 L179.0 1044.3 L180.0 1035.7 L181.0 1027.2 L182.0 1018.9 L183.0 1011.0 L184.0 1003.7 L185.0 997.1 L186.0 991.3 L187.0 986.5 L188.0 982.8 L189.0 980.2 L190.0 979.0 L191.0 979.0 L192.0 980.3 L193.0 982.8 L194.0 986.5 L195.0 991.3 L196.0 997.2 L197.0 1003.8 L198.0 1011.2 L199.0 1019.1 L200.0 1027.4 L201.0 1035.9 L202.0 1044.5 L203.0 1053.0 L204.0 1061.3 L205.0 1069.3 L206.0 1076.9 L207.0 1084.1 L208.0 1090.7 L209.0 1096.8 L210.0 1102.3 L211.0 1107.3 L212.0 1111.6 L213.0 1115.5 L214.0 1118.8 L215.0 1121.7 L216.0 1124.1 L217.0 1126.2 L218.0 1127.9 L219.0 1129.3 L220.0 1130.5 L221.0 1131.4 L222.0 1132.2 L223.0 1132.8 L224.0 1133.3 L225.0 1133.7 L226.0 1134.0 L227.0 1134.2" fill="none" stroke="#4a4cb0" stroke-width="1.6" stroke-linejoin="round" opacity="1.0" />
<path d="M16.0 1125.6 L17.5 1125.1 L19.0 1124.8 L20.5 1123.7 L22.0 1124.5 L23.5 1123.7 L25.0 1124.9 L26.5 1121.2 L28.0 1125.4 L29.5 1118.2 L31.0 1120.8 L32.5 1121.1 L34.0 1118.5 L35.5 1116.6 L37.0 1116.5 L38.5 1116.5 L40.0 1116.1 L41.5 1110.5 L43.0 1111.8 L44.5 1109.0 L46.0 1110.1 L47.5 1106.1 L49.0 1105.5 L50.5 1105.3 L52.0 1101.5 L53.5 1100.6 L55.0 1097.2 L56.5 1096.2 L58.0 1091.9 L59.5 1091.8 L61.0 1090.0 L62.5 1087.1 L64.0 1089.0 L65.5 1080.0 L67.0 1077.6 L68.5 1078.7 L70.0 1077.0 L71.5 1074.0 L73.0 1073.7 L74.5 1073.4 L76.0 1067.7 L77.5 1064.8 L79.0 1065.3 L80.5 1066.1 L82.0 1063.8 L83.5 1061.9 L85.0 1061.8 L86.5 1061.1 L88.0 1058.2 L89.5 1062.4 L91.0 1061.5 L92.5 1063.7 L94.0 1064.8 L95.5 1067.6 L97.0 1070.9 L98.5 1071.4 L100.0 1074.4 L101.5 1078.4 L103.0 1080.7 L104.5 1082.1 L106.0 1087.6 L107.5 1089.0 L109.0 1092.5 L110.5 1096.2 L112.0 1100.3 L113.5 1098.6 L115.0 1101.3 L116.5 1104.0 L118.0 1104.2 L119.5 1107.2 L121.0 1110.6 L122.5 1107.4 L124.0 1111.4 L125.5 1111.1 L127.0 1115.9 L128.5 1113.7 L130.0 1113.3 L131.5 1111.2 L133.0 1108.3 L134.5 1107.9 L136.0 1105.6 L137.5 1101.7 L139.0 1100.4 L140.5 1094.2 L142.0 1086.3 L143.5 1081.4 L145.0 1076.3 L146.5 1067.6 L148.0 1062.5 L149.5 1055.3 L151.0 1049.2 L152.5 1041.6 L154.0 1033.4 L155.5 1030.0 L157.0 1021.5 L158.5 1018.6 L160.0 1012.0 L161.5 1008.9 L163.0 1006.9 L164.5 1006.9 L166.0 1008.7 L167.5 1005.1 L169.0 1009.8 L170.5 1004.6 L172.0 1007.4 L173.5 1003.1 L175.0 998.7 L176.5 996.4 L178.0 989.1 L179.5 985.2 L181.0 980.3 L182.5 978.6 L184.0 969.2 L185.5 970.3 L187.0 965.0 L188.5 963.9 L190.0 965.1 L191.5 969.4 L193.0 969.7 L194.5 972.2 L196.0 980.7 L197.5 989.4 L199.0 1001.6 L200.5 1010.5 L202.0 1027.7 L203.5 1040.8 L205.0 1051.1 L206.5 1064.4 L208.0 1077.6 L209.5 1087.3 L211.0 1098.4 L212.5 1106.3 L214.0 1112.2 L215.5 1116.2 L217.0 1119.3 L218.5 1126.5 L220.0 1126.9 L221.5 1132.7 L223.0 1135.2 L224.5 1133.8 L226.0 1135.9 L227.5 1137.1 L229.0 1136.8 L230.5 1134.1 L232.0 1134.5 L233.5 1135.4 L235.0 1136.4 L236.5 1135.1 L238.0 1136.8 L239.5 1138.6 L241.0 1136.0 L242.5 1136.7 L244.0 1135.2 L245.5 1136.6 L247.0 1138.3" fill="none" stroke="#303030" stroke-width="1.6" stroke-linejoin="round" opacity="1.0" />
<path d="M16.0 1129.4 L17.0 1129.1 L18.0 1128.8 L19.0 1128.5 L20.0 1128.1 L21.0 1127.7 L22.0 1127.3 L23.0 1126.9 L24.0 1126.5 L25.0 1126.0 L26.0 1125.5 L27.0 1125.0 L28.0 1124.4 L29.0 1123.9 L30.0 1123.2 L31.0 1122.6 L32.0 1121.9 L33.0 1121.2 L34.0 1120.5 L35.0 1119.8 L36.0 1119.0 L37.0 1118.1 L38.0 1117.3 L39.0 1116.4 L40.0 1115.5 L41.0 1114.6 L42.0 1113.6 L43.0 1112.6 L44.0 1111.6 L45.0 1110.5 L46.0 1109.4 L47.0 1108.3 L48.0 1107.2 L49.0 1106.1 L50.0 1104.9 L51.0 1103.7 L52.0 1102.5 L53.0 1101.3 L54.0 1100.1 L55.0 1098.9 L56.0 1097.6 L57.0 1096.4 L58.0 1095.1 L59.0 1093.9 L60.0 1092.6 L61.0 1091.4 L62.0 1090.2 L63.0 1089.0 L64.0 1087.8 L65.0 1086.6 L66.0 1085.5 L67.0 1084.4 L68.0 1083.3 L69.0 1082.2 L70.0 1081.2 L71.0 1080.2 L72.0 1079.2 L73.0 1078.3 L74.0 1077.5 L75.0 1076.7 L76.0 1075.9 L77.0 1075.2 L78.0 1074.6 L79.0 1074.0 L80.0 1073.5 L81.0 1073.0 L82.0 1072.6 L83.0 1072.3 L84.0 1072.0 L85.0 1071.8 L86.0 1071.7 L87.0 1071.6 L88.0 1071.6 L89.0 1071.8 L90.0 1072.0 L91.0 1072.4 L92.0 1072.8 L93.0 1073.4 L94.0 1074.1 L95.0 1074.9 L96.0 1075.8 L97.0 1076.8 L98.0 1077.8 L99.0 1079.0 L100.0 1080.2 L101.0 1081.5 L102.0 1082.9 L103.0 1084.3 L104.0 1085.8 L105.0 1087.3 L106.0 1088.9 L107.0 1090.4 L108.0 1092.0 L109.0 1093.6 L110.0 1095.3 L111.0 1096.9 L112.0 1098.5 L113.0 1100.0 L114.0 1101.6 L115.0 1103.1 L116.0 1104.5 L117.0 1105.9 L118.0 1107.2 L119.0 1108.5 L120.0 1109.6 L121.0 1110.7 L122.0 1111.7 L123.0 1112.5 L124.0 1113.2 L125.0 1113.7 L126.0 1114.1 L127.0 1114.4 L128.0 1114.4 L129.0 1114.2 L130.0 1113.8 L131.0 1113.2 L132.0 1112.3 L133.0 1111.1 L134.0 1109.7 L135.0 1108.1 L136.0 1106.1 L137.0 1103.8 L138.0 1101.3 L139.0 1098.5 L140.0 1095.4 L141.0 1092.0 L142.0 1088.4 L143.0 1084.5 L144.0 1080.5 L145.0 1076.3 L146.0 1072.0 L147.0 1067.5 L148.0 1063.1 L149.0 1058.6 L150.0 1054.2 L151.0 1049.9 L152.0 1045.8 L153.0 1041.9 L154.0 1038.2 L155.0 1034.8 L156.0 1031.7 L157.0 1028.9 L158.0 1026.6 L159.0 1024.5 L160.0 1022.9 L161.0 1021.6 L162.0 1020.7 L163.0 1020.0 L164.0 1019.5 L165.0 1019.3 L166.0 1019.1 L167.0 1019.0 L168.0 1018.8 L169.0 1018.5 L170.0 1018.0 L171.0 1017.2 L172.0 1016.0 L173.0 1014.4 L174.0 1012.4 L175.0 1010.0 L176.0 1007.0 L177.0 1003.7 L178.0 999.9 L179.0 995.9 L180.0 991.6 L181.0 987.2 L182.0 982.9 L183.0 978.7 L184.0 974.8 L185.0 971.4 L186.0 968.6 L187.0 966.6 L188.0 965.3 L189.0 965.1 L190.0 965.8 L191.0 967.7 L192.0 970.6 L193.0 974.5 L194.0 979.5 L195.0 985.4 L196.0 992.2 L197.0 999.7 L198.0 1007.7 L199.0 1016.2 L200.0 1025.0 L201.0 1034.0 L202.0 1042.9 L203.0 1051.7 L204.0 1060.3 L205.0 1068.5 L206.0 1076.3 L207.0 1083.6 L208.0 1090.3 L209.0 1096.5 L210.0 1102.1 L211.0 1107.1 L212.0 1111.5 L213.0 1115.4 L214.0 1118.7 L215.0 1121.6 L216.0 1124.1 L217.0 1126.1 L218.0 1127.9 L219.0 1129.3 L220.0 1130.5 L221.0 1131.4 L222.0 1132.2 L223.0 1132.8 L224.0 1133.3 L225.0 1133.7 L226.0 1134.0 L227.0 1134.2 L228.0 1134.4 L229.0 1134.5 L230.0 1134.6 L231.0 1134.7 L232.0 1134.7 L233.0 1134.8 L234.0 1134.8 L235.0 1134.8 L236.0 1134.9 L237.0 1134.9 L238.0 1134.9 L239.0 1134.9 L240.0 1134.9 L241.0 1134.9 L242.0 1134.9 L243.0 1135.0 L244.0 1135.0 L245.0 1135.0 L246.0 1135.0 L247.0 1135.0" fill="none" stroke="#c43a4a" stroke-width="2.0" stroke-linejoin="round" opacity="1.0" />
<path d="M16.0 1129.4 L17.0 1129.1 L18.0 1128.8 L19.0 1128.5 L20.0 1128.1 L21.0 1127.7 L22.0 1127.3 L23.0 1126.9 L24.0 1126.5 L25.0 1126.0 L26.0 1125.5 L27.0 1125.0 L28.0 1124.4 L29.0 1123.9 L30.0 1123.2 L31.0 1122.6 L32.0 1121.9 L33.0 1121.2 L34.0 1120.5 L35.0 1119.8 L36.0 1119.0 L37.0 1118.1 L38.0 1117.3 L39.0 1116.4 L40.0 1115.5 L41.0 1114.6 L42.0 1113.6 L43.0 1112.6 L44.0 1111.6 L45.0 1110.5 L46.0 1109.4 L47.0 1108.3 L48.0 1107.2 L49.0 1106.1 L50.0 1104.9 L51.0 1103.7 L52.0 1102.5 L53.0 1101.3 L54.0 1100.1 L55.0 1098.9 L56.0 1097.6 L57.0 1096.4 L58.0 1095.1 L59.0 1093.9 L60.0 1092.6 L61.0 1091.4 L62.0 1090.2 L63.0 1089.0 L64.0 1087.8 L65.0 1086.6 L66.0 1085.5 L67.0 1084.4 L68.0 1083.3 L69.0 1082.2 L70.0 1081.2 L71.0 1080.2 L72.0 1079.2 L73.0 1078.3 L74.0 1077.5 L75.0 1076.7 L76.0 1075.9 L77.0 1075.2 L78.0 1074.6 L79.0 1074.0 L80.0 1073.5 L81.0 1073.0 L82.0 1072.6 L83.0 1072.3 L84.0 1072.0 L85.0 1071.8 L86.0 1071.7 L87.0 1071.6 L88.0 1071.6 L89.0 1071.8 L90.0 1072.0 L91.0 1072.4 L92.0 1072.8 L93.0 1073.4 L94.0 1074.1 L95.0 1074.9 L96.0 1075.8 L97.0 1076.8 L98.0 1077.8 L99.0 1079.0 L100.0 1080.2 L101.0 1081.5 L102.0 1082.9 L103.0 1084.3 L104.0 1085.8 L105.0 1087.4 L106.0 1088.9 L107.0 1090.5 L108.0 1092.1 L109.0 1093.7 L110.0 1095.4 L111.0 1097.0 L112.0 1098.7 L113.0 1100.3 L114.0 1101.9 L115.0 1103.5 L116.0 1105.1 L117.0 1106.6 L118.0 1108.1 L119.0 1109.6 L120.0 1111.1 L121.0 1112.4 L122.0 1113.8 L123.0 1115.1 L124.0 1116.3 L125.0 1117.5 L126.0 1118.7 L127.0 1119.8 L128.0 1120.8 L129.0 1121.8 L130.0 1122.7 L131.0 1123.6 L132.0 1124.5 L133.0 1125.2 L134.0 1126.0 L135.0 1126.7 L136.0 1127.3 L137.0 1127.9 L138.0 1128.5 L139.0 1129.0 L140.0 1129.5 L141.0 1129.9 L142.0 1130.3 L143.0 1130.7 L144.0 1131.1 L145.0 1131.4 L146.0 1131.7 L147.0 1131.9 L148.0 1132.2 L149.0 1132.4 L150.0 1132.6 L151.0 1132.8 L152.0 1133.0 L153.0 1133.1 L154.0 1133.2 L155.0 1133.4 L156.0 1133.5 L157.0 1133.6" fill="none" stroke="#62c8de" stroke-width="1.6" stroke-linejoin="round" opacity="1.0" />
<path d="M386.0 200.0 L627.0 203.0" fill="none" stroke="#62c8de" stroke-width="1.6" stroke-linejoin="round" opacity="1.0" />
<path d="M480.0 201.2 L575.0 202.4" fill="none" stroke="#6cc46c" stroke-width="1.6" stroke-linejoin="round" opacity="1.0" />
<path d="M386.0 203.9 L387.5 204.7 L389.0 193.9 L390.5 198.8 L392.0 202.6 L393.5 207.5 L395.0 198.5 L396.5 195.3 L398.0 198.9 L399.5 200.7 L401.0 204.7 L402.5 198.0 L404.0 199.7 L405.5 199.5 L407.0 201.6 L408.5 196.1 L410.0 202.5 L411.5 200.7 L413.0 208.4 L414.5 196.2 L416.0 207.3 L417.5 192.0 L419.0 209.0 L420.5 197.1 L422.0 199.6 L423.5 200.9 L425.0 204.8 L426.5 196.8 L428.0 207.4 L429.5 204.5 L431.0 206.4 L432.5 205.4 L434.0 191.6 L435.5 206.3 L437.0 193.7 L438.5 207.6 L440.0 196.0 L441.5 201.7 L443.0 199.2 L444.5 195.5 L446.0 198.3 L447.5 193.5 L449.0 199.1 L450.5 189.9 L452.0 192.5 L453.5 184.4 L455.0 184.9 L456.5 180.9 L458.0 180.6 L459.5 174.3 L461.0 169.1 L462.5 161.4 L464.0 161.8 L465.5 144.8 L467.0 142.8 L468.5 135.2 L470.0 122.9 L471.5 119.4 L473.0 109.8 L474.5 98.5 L476.0 92.3 L477.5 81.6 L479.0 72.8 L480.5 60.5 L482.0 61.4 L483.5 55.0 L485.0 46.5 L486.5 48.9 L488.0 46.9 L489.5 50.3 L491.0 41.9 L492.5 52.2 L494.0 55.3 L495.5 62.8 L497.0 63.4 L498.5 82.9 L500.0 78.7 L501.5 100.5 L503.0 100.3 L504.5 115.9 L506.0 125.0 L507.5 131.0 L509.0 138.3 L510.5 142.6 L512.0 149.7 L513.5 151.3 L515.0 160.1 L516.5 153.2 L518.0 155.1 L519.5 161.0 L521.0 155.3 L522.5 152.4 L524.0 155.0 L525.5 148.5 L527.0 153.1 L528.5 155.8 L530.0 157.3 L531.5 157.9 L533.0 169.4 L534.5 166.0 L536.0 171.6 L537.5 169.5 L539.0 182.0 L540.5 179.5 L542.0 187.7 L543.5 193.0 L545.0 188.4 L546.5 199.1 L548.0 199.9 L549.5 200.3 L551.0 212.0 L552.5 191.3 L554.0 210.1 L555.5 195.0 L557.0 209.2 L558.5 215.8 L560.0 194.8 L561.5 211.7 L563.0 207.7 L564.5 207.7 L566.0 212.6 L567.5 198.6 L569.0 218.9 L570.5 199.9 L572.0 208.8 L573.5 213.9 L575.0 211.6 L576.5 207.5 L578.0 209.8 L579.5 212.4 L581.0 212.3 L582.5 211.5 L584.0 207.5 L585.5 202.8 L587.0 222.8 L588.5 207.1 L590.0 207.8 L591.5 205.6 L593.0 210.9 L594.5 209.4 L596.0 201.4 L597.5 221.9 L599.0 207.0 L600.5 210.9 L602.0 211.7 L603.5 210.0 L605.0 214.2 L606.5 206.9 L608.0 215.3 L609.5 211.8 L611.0 203.6 L612.5 206.3 L614.0 202.1 L615.5 206.7 L617.0 201.4 L618.5 207.2 L620.0 205.2 L621.5 206.8 L623.0 197.0 L624.5 212.5 L626.0 197.3" fill="none" stroke="#303030" stroke-width="1.6" stroke-linejoin="round" opacity="1.0" />
<path d="M386.0 200.0 L387.0 200.0 L388.0 200.0 L389.0 200.0 L390.0 200.0 L391.0 200.1 L392.0 200.1 L393.0 200.1 L394.0 200.1 L395.0 200.1 L396.0 200.1 L397.0 200.1 L398.0 200.1 L399.0 200.2 L400.0 200.2 L401.0 200.2 L402.0 200.2 L403.0 200.2 L404.0 200.2 L405.0 200.2 L406.0 200.2 L407.0 200.3 L408.0 200.3 L409.0 200.3 L410.0 200.3 L411.0 200.3 L412.0 200.3 L413.0 200.3 L414.0 200.3 L415.0 200.4 L416.0 200.4 L417.0 200.4 L418.0 200.4 L419.0 200.4 L420.0 200.4 L421.0 200.4 L422.0 200.4 L423.0 200.4 L424.0 200.4 L425.0 200.4 L426.0 200.4 L427.0 200.4 L428.0 200.4 L429.0 200.4 L430.0 200.4 L431.0 200.4 L432.0 200.3 L433.0 200.3 L434.0 200.2 L435.0 200.2 L436.0 200.1 L437.0 199.9 L438.0 199.8 L439.0 199.6 L440.0 199.4 L441.0 199.1 L442.0 198.8 L443.0 198.5 L444.0 198.0 L445.0 197.5 L446.0 196.9 L447.0 196.2 L448.0 195.4 L449.0 194.5 L450.0 193.4 L451.0 192.2 L452.0 190.8 L453.0 189.3 L454.0 187.5 L455.0 185.6 L456.0 183.4 L457.0 180.9 L458.0 178.3 L459.0 175.4 L460.0 172.2 L461.0 168.7 L462.0 165.0 L463.0 160.9 L464.0 156.6 L465.0 152.1 L466.0 147.3 L467.0 142.2 L468.0 136.9 L469.0 131.5 L470.0 125.8 L471.0 120.1 L472.0 114.2 L473.0 108.3 L474.0 102.3 L475.0 96.4 L476.0 90.6 L477.0 85.0 L478.0 79.5 L479.0 74.3 L480.0 69.4 L481.0 64.8 L482.0 60.7 L483.0 57.0 L484.0 53.8 L485.0 51.1 L486.0 49.0 L487.0 47.5 L488.0 46.6 L489.0 46.3 L490.0 46.7 L491.0 47.8 L492.0 49.6 L493.0 52.1 L494.0 55.3 L495.0 59.1 L496.0 63.4 L497.0 68.2 L498.0 73.5 L499.0 79.1 L500.0 85.0 L501.0 91.2 L502.0 97.4 L503.0 103.7 L504.0 110.0 L505.0 116.2 L506.0 122.1 L507.0 127.8 L508.0 133.2 L509.0 138.2 L510.0 142.6 L511.0 146.6 L512.0 149.9 L513.0 152.7 L514.0 154.8 L515.0 156.3 L516.0 157.1 L517.0 157.5 L518.0 157.3 L519.0 156.7 L520.0 155.9 L521.0 154.9 L522.0 153.9 L523.0 153.0 L524.0 152.3 L525.0 152.0 L526.0 152.1 L527.0 152.8 L528.0 153.8 L529.0 155.1 L530.0 156.7 L531.0 158.5 L532.0 160.6 L533.0 162.9 L534.0 165.4 L535.0 167.9 L536.0 170.6 L537.0 173.3 L538.0 176.0 L539.0 178.6 L540.0 181.2 L541.0 183.6 L542.0 185.9 L543.0 188.0 L544.0 190.0 L545.0 191.8 L546.0 193.4 L547.0 194.8 L548.0 196.0 L549.0 197.1 L550.0 198.0 L551.0 198.8 L552.0 199.5 L553.0 200.0 L554.0 200.5 L555.0 200.8 L556.0 201.1 L557.0 201.4 L558.0 201.6 L559.0 201.7 L560.0 201.8 L561.0 201.9 L562.0 202.0 L563.0 202.1 L564.0 202.1 L565.0 202.2 L566.0 202.2 L567.0 202.2 L568.0 202.2 L569.0 202.3 L570.0 202.3 L571.0 202.3 L572.0 202.3 L573.0 202.3 L574.0 202.3 L575.0 202.4 L576.0 202.4 L577.0 202.4 L578.0 202.4 L579.0 202.4 L580.0 202.4 L581.0 202.4 L582.0 202.4 L583.0 202.5 L584.0 202.5 L585.0 202.5 L586.0 202.5 L587.0 202.5 L588.0 202.5 L589.0 202.5 L590.0 202.5 L591.0 202.6 L592.0 202.6 L593.0 202.6 L594.0 202.6 L595.0 202.6 L596.0 202.6 L597.0 202.6 L598.0 202.6 L599.0 202.7 L600.0 202.7 L601.0 202.7 L602.0 202.7 L603.0 202.7 L604.0 202.7 L605.0 202.7 L606.0 202.7 L607.0 202.8 L608.0 202.8 L609.0 202.8 L610.0 202.8 L611.0 202.8 L612.0 202.8 L613.0 202.8 L614.0 202.8 L615.0 202.9 L616.0 202.9 L617.0 202.9 L618.0 202.9 L619.0 202.9 L620.0 202.9 L621.0 202.9 L622.0 202.9 L623.0 203.0 L624.0 203.0 L625.0 203.0 L626.0 203.0 L627.0 203.0" fill="none" stroke="#c43a4a" stroke-width="2.0" stroke-linejoin="round" opacity="1.0" />
<path d="M386.0 200.0 L387.0 200.0 L388.0 200.0 L389.0 200.0 L390.0 200.0 L391.0 200.1 L392.0 200.1 L393.0 200.1 L394.0 200.1 L395.0 200.1 L396.0 200.1 L397.0 200.1 L398.0 200.1 L399.0 200.2 L400.0 200.2 L401.0 200.2 L402.0 200.2 L403.0 200.2 L404.0 200.2 L405.0 200.2 L406.0 200.2 L407.0 200.3 L408.0 200.3 L409.0 200.3 L410.0 200.3 L411.0 200.3 L412.0 200.3 L413.0 200.3 L414.0 200.3 L415.0 200.4 L416.0 200.4 L417.0 200.4 L418.0 200.4 L419.0 200.4 L420.0 200.4 L421.0 200.4 L422.0 200.4 L423.0 200.4 L424.0 200.4 L425.0 200.4 L426.0 200.4 L427.0 200.4 L428.0 200.4 L429.0 200.4 L430.0 200.4 L431.0 200.4 L432.0 200.3 L433.0 200.3 L434.0 200.2 L435.0 200.2 L436.0 200.1 L437.0 199.9 L438.0 199.8 L439.0 199.6 L440.0 199.4 L441.0 199.1 L442.0 198.8 L443.0 198.5 L444.0 198.0 L445.0 197.5 L446.0 196.9 L447.0 196.2 L448.0 195.4 L449.0 194.5 L450.0 193.4 L451.0 192.2 L452.0 190.8 L453.0 189.3 L454.0 187.5 L455.0 185.6 L456.0 183.4 L457.0 180.9 L458.0 178.3 L459.0 175.4 L460.0 172.2 L461.0 168.7 L462.0 165.0 L463.0 160.9 L464.0 156.6 L465.0 152.1 L466.0 147.3 L467.0 142.2 L468.0 136.9 L469.0 131.5 L470.0 125.8 L471.0 120.1 L472.0 114.2 L473.0 108.3 L474.0 102.3 L475.0 96.4 L476.0 90.6 L477.0 85.0 L478.0 79.5 L479.0 74.3 L480.0 69.4 L481.0 64.8 L482.0 60.7 L483.0 57.0 L484.0 53.8 L485.0 51.1 L486.0 49.0 L487.0 47.5 L488.0 46.6 L489.0 46.3 L490.0 46.7 L491.0 47.8 L492.0 49.6 L493.0 52.1 L494.0 55.3 L495.0 59.1 L496.0 63.4 L497.0 68.3 L498.0 73.6 L499.0 79.2 L500.0 85.2 L501.0 91.4 L502.0 97.7 L503.0 104.2 L504.0 110.7 L505.0 117.2 L506.0 123.5 L507.0 129.8 L508.0 135.8 L509.0 141.7 L510.0 147.2 L511.0 152.5 L512.0 157.5 L513.0 162.2 L514.0 166.5 L515.0 170.5 L516.0 174.2 L517.0 177.6 L518.0 180.7 L519.0 183.4 L520.0 185.9 L521.0 188.1 L522.0 190.1 L523.0 191.8 L524.0 193.3 L525.0 194.6 L526.0 195.8 L527.0 196.8 L528.0 197.6 L529.0 198.3 L530.0 198.9 L531.0 199.5 L532.0 199.9 L533.0 200.3 L534.0 200.6 L535.0 200.8 L536.0 201.1 L537.0 201.2 L538.0 201.4 L539.0 201.5 L540.0 201.6 L541.0 201.7 L542.0 201.7 L543.0 201.8 L544.0 201.9 L545.0 201.9 L546.0 201.9 L547.0 202.0 L548.0 202.0 L549.0 202.0 L550.0 202.0 L551.0 202.0 L552.0 202.1 L553.0 202.1 L554.0 202.1 L555.0 202.1 L556.0 202.1 L557.0 202.1 L558.0 202.1 L559.0 202.2 L560.0 202.2 L561.0 202.2 L562.0 202.2 L563.0 202.2 L564.0 202.2 L565.0 202.2 L566.0 202.2 L567.0 202.3 L568.0 202.3 L569.0 202.3 L570.0 202.3 L571.0 202.3 L572.0 202.3 L573.0 202.3 L574.0 202.3 L575.0 202.4 L576.0 202.4 L577.0 202.4 L578.0 202.4 L579.0 202.4 L580.0 202.4 L581.0 202.4 L582.0 202.4 L583.0 202.5 L584.0 202.5 L585.0 202.5 L586.0 202.5 L587.0 202.5 L588.0 202.5 L589.0 202.5 L590.0 202.5 L591.0 202.6 L592.0 202.6 L593.0 202.6 L594.0 202.6 L595.0 202.6 L596.0 202.6 L597.0 202.6 L598.0 202.6 L599.0 202.7 L600.0 202.7 L601.0 202.7 L602.0 202.7 L603.0 202.7 L604.0 202.7 L605.0 202.7 L606.0 202.7 L607.0 202.8 L608.0 202.8 L609.0 202.8 L610.0 202.8 L611.0 202.8 L612.0 202.8 L613.0 202.8 L614.0 202.8 L615.0 202.9 L616.0 202.9 L617.0 202.9 L618.0 202.9 L619.0 202.9 L620.0 202.9 L621.0 202.9 L622.0 202.9 L623.0 203.0 L624.0 203.0 L625.0 203.0 L626.0 203.0 L627.0 203.0" fill="none" stroke="#403480" stroke-width="2.2" stroke-linejoin="round" opacity="1.0" />
<path d="M386.0 200.0 L387.0 200.0 L388.0 200.0 L389.0 200.0 L390.0 200.0 L391.0 200.1 L392.0 200.1 L393.0 200.1 L394.0 200.1 L395.0 200.1 L396.0 200.1 L397.0 200.1 L398.0 200.1 L399.0 200.2 L400.0 200.2 L401.0 200.2 L402.0 200.2 L403.0 200.2 L404.0 200.2 L405.0 200.2 L406.0 200.2 L407.0 200.3 L408.0 200.3 L409.0 200.3 L410.0 200.3 L411.0 200.3 L412.0 200.3 L413.0 200.3 L414.0 200.3 L415.0 200.4 L416.0 200.4 L417.0 200.4 L418.0 200.4 L419.0 200.4 L420.0 200.4 L421.0 200.4 L422.0 200.4 L423.0 200.5 L424.0 200.5 L425.0 200.5 L426.0 200.5 L427.0 200.5 L428.0 200.5 L429.0 200.5 L430.0 200.5 L431.0 200.6 L432.0 200.6 L433.0 200.6 L434.0 200.6 L435.0 200.6 L436.0 200.6 L437.0 200.6 L438.0 200.6 L439.0 200.7 L440.0 200.7 L441.0 200.7 L442.0 200.7 L443.0 200.7 L444.0 200.7 L445.0 200.7 L446.0 200.7 L447.0 200.8 L448.0 200.8 L449.0 200.8 L450.0 200.8 L451.0 200.8 L452.0 200.8 L453.0 200.8 L454.0 200.8 L455.0 200.9 L456.0 200.9 L457.0 200.9 L458.0 200.9 L459.0 200.9 L460.0 200.9 L461.0 200.9 L462.0 200.9 L463.0 201.0 L464.0 201.0 L465.0 201.0 L466.0 201.0 L467.0 201.0 L468.0 201.0 L469.0 201.0 L470.0 201.0 L471.0 201.1 L472.0 201.1 L473.0 201.1 L474.0 201.1 L475.0 201.1 L476.0 201.1 L477.0 201.1 L478.0 201.1 L479.0 201.2 L480.0 201.2 L481.0 201.2 L482.0 201.2 L483.0 201.2 L484.0 201.2 L485.0 201.2 L486.0 201.2 L487.0 201.3 L488.0 201.3 L489.0 201.3 L490.0 201.3 L491.0 201.3 L492.0 201.3 L493.0 201.3 L494.0 201.3 L495.0 201.3 L496.0 201.3 L497.0 201.3 L498.0 201.3 L499.0 201.3 L500.0 201.3 L501.0 201.2 L502.0 201.1 L503.0 201.0 L504.0 200.8 L505.0 200.5 L506.0 200.1 L507.0 199.6 L508.0 198.9 L509.0 198.0 L510.0 196.9 L511.0 195.6 L512.0 194.0 L513.0 192.1 L514.0 189.8 L515.0 187.3 L516.0 184.5 L517.0 181.5 L518.0 178.3 L519.0 175.0 L520.0 171.7 L521.0 168.5 L522.0 165.5 L523.0 162.9 L524.0 160.7 L525.0 159.1 L526.0 158.1 L527.0 157.8 L528.0 158.0 L529.0 158.6 L530.0 159.6 L531.0 160.9 L532.0 162.5 L533.0 164.5 L534.0 166.6 L535.0 168.9 L536.0 171.4 L537.0 173.9 L538.0 176.5 L539.0 179.0 L540.0 181.5 L541.0 183.8 L542.0 186.1 L543.0 188.2 L544.0 190.1 L545.0 191.9 L546.0 193.4 L547.0 194.8 L548.0 196.1 L549.0 197.1 L550.0 198.0 L551.0 198.8 L552.0 199.5 L553.0 200.0 L554.0 200.5 L555.0 200.8 L556.0 201.1 L557.0 201.4 L558.0 201.6 L559.0 201.7 L560.0 201.9 L561.0 201.9 L562.0 202.0 L563.0 202.1 L564.0 202.1 L565.0 202.2 L566.0 202.2 L567.0 202.2 L568.0 202.2 L569.0 202.3 L570.0 202.3 L571.0 202.3 L572.0 202.3 L573.0 202.3 L574.0 202.3 L575.0 202.4 L576.0 202.4 L577.0 202.4 L578.0 202.4 L579.0 202.4 L580.0 202.4 L581.0 202.4 L582.0 202.4 L583.0 202.5 L584.0 202.5 L585.0 202.5 L586.0 202.5 L587.0 202.5 L588.0 202.5 L589.0 202.5 L590.0 202.5 L591.0 202.6 L592.0 202.6 L593.0 202.6 L594.0 202.6 L595.0 202.6 L596.0 202.6 L597.0 202.6 L598.0 202.6 L599.0 202.7 L600.0 202.7 L601.0 202.7 L602.0 202.7 L603.0 202.7 L604.0 202.7 L605.0 202.7 L606.0 202.7 L607.0 202.8 L608.0 202.8 L609.0 202.8 L610.0 202.8 L611.0 202.8 L612.0 202.8 L613.0 202.8 L614.0 202.8 L615.0 202.9 L616.0 202.9 L617.0 202.9 L618.0 202.9 L619.0 202.9 L620.0 202.9 L621.0 202.9 L622.0 202.9 L623.0 203.0 L624.0 203.0 L625.0 203.0 L626.0 203.0 L627.0 203.0" fill="none" stroke="#62c8de" stroke-width="2.2" stroke-linejoin="round" opacity="1.0" />
<path d="M386.0 467.5 L626.0 455.0" fill="none" stroke="#62c8de" stroke-width="1.6" stroke-linejoin="round" opacity="1.0" />
<path d="M480.0 462.6 L560.0 458.4" fill="none" stroke="#6cc46c" stroke-width="1.6" stroke-linejoin="round" opacity="1.0" />
<path d="M386.0 469.1 L387.5 466.4 L389.0 473.9 L390.5 464.4 L392.0 468.9 L393.5 467.8 L395.0 465.2 L396.5 465.5 L398.0 469.1 L399.5 464.5 L401.0 470.2 L402.5 464.6 L404.0 461.8 L405.5 464.3 L407.0 464.6 L408.5 460.8 L410.0 468.2 L411.5 464.5 L413.0 469.7 L414.5 461.9 L416.0 466.9 L417.5 467.3 L419.0 467.5 L420.5 461.8 L422.0 472.0 L423.5 461.0 L425.0 471.0 L426.5 462.2 L428.0 465.2 L429.5 461.2 L431.0 466.2 L432.5 471.5 L434.0 459.9 L435.5 471.1 L437.0 465.8 L438.5 462.2 L440.0 467.8 L441.5 465.6 L443.0 460.9 L444.5 461.2 L446.0 463.3 L447.5 459.4 L449.0 461.2 L450.5 455.9 L452.0 453.0 L453.5 452.0 L455.0 446.8 L456.5 446.3 L458.0 440.6 L459.5 434.7 L461.0 428.7 L462.5 424.6 L464.0 414.9 L465.5 410.1 L467.0 397.6 L468.5 391.0 L470.0 380.2 L471.5 370.4 L473.0 364.1 L474.5 352.2 L476.0 341.0 L477.5 334.4 L479.0 322.0 L480.5 319.9 L482.0 311.3 L483.5 305.5 L485.0 302.4 L486.5 301.0 L488.0 300.7 L489.5 301.1 L491.0 304.2 L492.5 310.0 L494.0 315.9 L495.5 325.4 L497.0 332.6 L498.5 343.0 L500.0 350.4 L501.5 363.4 L503.0 372.5 L504.5 382.6 L506.0 392.1 L507.5 400.1 L509.0 406.0 L510.5 415.7 L512.0 419.1 L513.5 421.6 L515.0 426.2 L516.5 425.4 L518.0 427.6 L519.5 430.0 L521.0 433.3 L522.5 432.4 L524.0 434.1 L525.5 439.5 L527.0 440.6 L528.5 444.4 L530.0 448.6 L531.5 448.0 L533.0 451.6 L534.5 453.2 L536.0 459.7 L537.5 456.5 L539.0 457.4 L540.5 457.6 L542.0 462.2 L543.5 463.2 L545.0 457.7 L546.5 464.0 L548.0 468.8 L549.5 462.1 L551.0 462.6 L552.5 465.3 L554.0 464.2 L555.5 467.1 L557.0 465.4 L558.5 463.8 L560.0 466.0 L561.5 467.1 L563.0 463.7 L564.5 467.9 L566.0 463.5 L567.5 472.4 L569.0 470.2 L570.5 463.9 L572.0 472.2 L573.5 467.1 L575.0 469.3 L576.5 467.8 L578.0 470.4 L579.5 472.1 L581.0 464.6 L582.5 474.7 L584.0 466.6 L585.5 467.2 L587.0 470.3 L588.5 471.2 L590.0 468.5 L591.5 470.8 L593.0 467.9 L594.5 468.4 L596.0 473.1 L597.5 465.1 L599.0 474.4 L600.5 468.4 L602.0 468.2 L603.5 467.6 L605.0 466.8 L606.5 467.1 L608.0 466.2 L609.5 465.5 L611.0 459.3 L612.5 460.4 L614.0 466.9 L615.5 460.2 L617.0 461.6 L618.5 460.7 L620.0 456.5 L621.5 464.8 L623.0 455.0 L624.5 456.7 L626.0 451.6" fill="none" stroke="#303030" stroke-width="1.6" stroke-linejoin="round" opacity="1.0" />
<path d="M386.0 467.5 L387.0 467.4 L388.0 467.4 L389.0 467.3 L390.0 467.3 L391.0 467.2 L392.0 467.2 L393.0 467.1 L394.0 467.1 L395.0 467.0 L396.0 467.0 L397.0 466.9 L398.0 466.9 L399.0 466.8 L400.0 466.8 L401.0 466.7 L402.0 466.7 L403.0 466.6 L404.0 466.6 L405.0 466.5 L406.0 466.5 L407.0 466.4 L408.0 466.4 L409.0 466.3 L410.0 466.2 L411.0 466.2 L412.0 466.1 L413.0 466.1 L414.0 466.0 L415.0 466.0 L416.0 465.9 L417.0 465.9 L418.0 465.8 L419.0 465.8 L420.0 465.7 L421.0 465.7 L422.0 465.6 L423.0 465.6 L424.0 465.5 L425.0 465.4 L426.0 465.4 L427.0 465.3 L428.0 465.3 L429.0 465.2 L430.0 465.1 L431.0 465.0 L432.0 464.9 L433.0 464.8 L434.0 464.7 L435.0 464.6 L436.0 464.4 L437.0 464.3 L438.0 464.1 L439.0 463.9 L440.0 463.6 L441.0 463.3 L442.0 463.0 L443.0 462.5 L444.0 462.1 L445.0 461.5 L446.0 460.8 L447.0 460.1 L448.0 459.2 L449.0 458.2 L450.0 457.0 L451.0 455.7 L452.0 454.2 L453.0 452.5 L454.0 450.6 L455.0 448.4 L456.0 446.0 L457.0 443.3 L458.0 440.3 L459.0 437.1 L460.0 433.5 L461.0 429.6 L462.0 425.4 L463.0 420.8 L464.0 416.0 L465.0 410.8 L466.0 405.3 L467.0 399.6 L468.0 393.6 L469.0 387.5 L470.0 381.1 L471.0 374.6 L472.0 368.0 L473.0 361.4 L474.0 354.9 L475.0 348.4 L476.0 342.1 L477.0 336.0 L478.0 330.1 L479.0 324.7 L480.0 319.6 L481.0 315.1 L482.0 311.0 L483.0 307.6 L484.0 304.7 L485.0 302.6 L486.0 301.1 L487.0 300.3 L488.0 300.3 L489.0 301.1 L490.0 302.6 L491.0 305.0 L492.0 308.1 L493.0 312.0 L494.0 316.4 L495.0 321.5 L496.0 327.0 L497.0 333.0 L498.0 339.3 L499.0 345.9 L500.0 352.7 L501.0 359.5 L502.0 366.4 L503.0 373.1 L504.0 379.7 L505.0 386.1 L506.0 392.1 L507.0 397.8 L508.0 403.0 L509.0 407.7 L510.0 411.9 L511.0 415.6 L512.0 418.7 L513.0 421.3 L514.0 423.4 L515.0 425.1 L516.0 426.5 L517.0 427.6 L518.0 428.5 L519.0 429.4 L520.0 430.4 L521.0 431.4 L522.0 432.6 L523.0 434.1 L524.0 435.7 L525.0 437.5 L526.0 439.5 L527.0 441.6 L528.0 443.8 L529.0 445.9 L530.0 448.0 L531.0 449.9 L532.0 451.7 L533.0 453.2 L534.0 454.5 L535.0 455.7 L536.0 456.6 L537.0 457.3 L538.0 457.9 L539.0 458.3 L540.0 458.6 L541.0 458.8 L542.0 459.0 L543.0 459.0 L544.0 459.1 L545.0 459.1 L546.0 459.1 L547.0 459.1 L548.0 459.0 L549.0 459.0 L550.0 458.9 L551.0 458.9 L552.0 458.8 L553.0 458.8 L554.0 458.7 L555.0 458.7 L556.0 458.6 L557.0 458.6 L558.0 458.5 L559.0 458.5 L560.0 458.4 L561.0 458.4 L562.0 458.3 L563.0 458.3 L564.0 458.2 L565.0 458.2 L566.0 458.1 L567.0 458.1 L568.0 458.0 L569.0 458.0 L570.0 457.9 L571.0 457.9 L572.0 457.8 L573.0 457.8 L574.0 457.7 L575.0 457.7 L576.0 457.6 L577.0 457.6 L578.0 457.5 L579.0 457.4 L580.0 457.4 L581.0 457.3 L582.0 457.3 L583.0 457.2 L584.0 457.2 L585.0 457.1 L586.0 457.1 L587.0 457.0 L588.0 457.0 L589.0 456.9 L590.0 456.9 L591.0 456.8 L592.0 456.8 L593.0 456.7 L594.0 456.7 L595.0 456.6 L596.0 456.6 L597.0 456.5 L598.0 456.5 L599.0 456.4 L600.0 456.4 L601.0 456.3 L602.0 456.2 L603.0 456.2 L604.0 456.1 L605.0 456.1 L606.0 456.0 L607.0 456.0 L608.0 455.9 L609.0 455.9 L610.0 455.8 L611.0 455.8 L612.0 455.7 L613.0 455.7 L614.0 455.6 L615.0 455.6 L616.0 455.5 L617.0 455.5 L618.0 455.4 L619.0 455.4 L620.0 455.3 L621.0 455.3 L622.0 455.2 L623.0 455.2 L624.0 455.1 L625.0 455.1 L626.0 455.0" fill="none" stroke="#c43a4a" stroke-width="2.0" stroke-linejoin="round" opacity="1.0" />
<path d="M386.0 467.5 L387.0 467.4 L388.0 467.4 L389.0 467.3 L390.0 467.3 L391.0 467.2 L392.0 467.2 L393.0 467.1 L394.0 467.1 L395.0 467.0 L396.0 467.0 L397.0 466.9 L398.0 466.9 L399.0 466.8 L400.0 466.8 L401.0 466.7 L402.0 466.7 L403.0 466.6 L404.0 466.6 L405.0 466.5 L406.0 466.5 L407.0 466.4 L408.0 466.4 L409.0 466.3 L410.0 466.2 L411.0 466.2 L412.0 466.1 L413.0 466.1 L414.0 466.0 L415.0 466.0 L416.0 465.9 L417.0 465.9 L418.0 465.8 L419.0 465.8 L420.0 465.7 L421.0 465.7 L422.0 465.6 L423.0 465.6 L424.0 465.5 L425.0 465.4 L426.0 465.4 L427.0 465.3 L428.0 465.3 L429.0 465.2 L430.0 465.1 L431.0 465.0 L432.0 464.9 L433.0 464.8 L434.0 464.7 L435.0 464.6 L436.0 464.4 L437.0 464.3 L438.0 464.1 L439.0 463.9 L440.0 463.6 L441.0 463.3 L442.0 463.0 L443.0 462.5 L444.0 462.1 L445.0 461.5 L446.0 460.8 L447.0 460.1 L448.0 459.2 L449.0 458.2 L450.0 457.0 L451.0 455.7 L452.0 454.2 L453.0 452.5 L454.0 450.6 L455.0 448.4 L456.0 446.0 L457.0 443.3 L458.0 440.3 L459.0 437.1 L460.0 433.5 L461.0 429.6 L462.0 425.4 L463.0 420.8 L464.0 416.0 L465.0 410.8 L466.0 405.3 L467.0 399.6 L468.0 393.6 L469.0 387.5 L470.0 381.1 L471.0 374.6 L472.0 368.0 L473.0 361.4 L474.0 354.9 L475.0 348.4 L476.0 342.1 L477.0 336.0 L478.0 330.1 L479.0 324.7 L480.0 319.6 L481.0 315.1 L482.0 311.0 L483.0 307.6 L484.0 304.7 L485.0 302.6 L486.0 301.1 L487.0 300.3 L488.0 300.3 L489.0 301.1 L490.0 302.6 L491.0 305.0 L492.0 308.1 L493.0 312.0 L494.0 316.4 L495.0 321.5 L496.0 327.0 L497.0 333.0 L498.0 339.4 L499.0 346.0 L500.0 352.8 L501.0 359.7 L502.0 366.7 L503.0 373.6 L504.0 380.5 L505.0 387.1 L506.0 393.6 L507.0 399.8 L508.0 405.7 L509.0 411.3 L510.0 416.5 L511.0 421.4 L512.0 425.9 L513.0 430.0 L514.0 433.8 L515.0 437.2 L516.0 440.3 L517.0 443.1 L518.0 445.5 L519.0 447.7 L520.0 449.6 L521.0 451.2 L522.0 452.6 L523.0 453.9 L524.0 454.9 L525.0 455.8 L526.0 456.5 L527.0 457.1 L528.0 457.6 L529.0 458.1 L530.0 458.4 L531.0 458.7 L532.0 458.9 L533.0 459.0 L534.0 459.1 L535.0 459.2 L536.0 459.3 L537.0 459.3 L538.0 459.3 L539.0 459.3 L540.0 459.3 L541.0 459.3 L542.0 459.3 L543.0 459.3 L544.0 459.2 L545.0 459.2 L546.0 459.1 L547.0 459.1 L548.0 459.0 L549.0 459.0 L550.0 459.0 L551.0 458.9 L552.0 458.9 L553.0 458.8 L554.0 458.7 L555.0 458.7 L556.0 458.6 L557.0 458.6 L558.0 458.5 L559.0 458.5 L560.0 458.4 L561.0 458.4 L562.0 458.3 L563.0 458.3 L564.0 458.2 L565.0 458.2 L566.0 458.1 L567.0 458.1 L568.0 458.0 L569.0 458.0 L570.0 457.9 L571.0 457.9 L572.0 457.8 L573.0 457.8 L574.0 457.7 L575.0 457.7 L576.0 457.6 L577.0 457.6 L578.0 457.5 L579.0 457.4 L580.0 457.4 L581.0 457.3 L582.0 457.3 L583.0 457.2 L584.0 457.2 L585.0 457.1 L586.0 457.1 L587.0 457.0 L588.0 457.0 L589.0 456.9 L590.0 456.9 L591.0 456.8 L592.0 456.8 L593.0 456.7 L594.0 456.7 L595.0 456.6 L596.0 456.6 L597.0 456.5 L598.0 456.5 L599.0 456.4 L600.0 456.4 L601.0 456.3 L602.0 456.2 L603.0 456.2 L604.0 456.1 L605.0 456.1 L606.0 456.0 L607.0 456.0 L608.0 455.9 L609.0 455.9 L610.0 455.8 L611.0 455.8 L612.0 455.7 L613.0 455.7 L614.0 455.6 L615.0 455.6 L616.0 455.5 L617.0 455.5 L618.0 455.4 L619.0 455.4 L620.0 455.3 L621.0 455.3 L622.0 455.2 L623.0 455.2 L624.0 455.1 L625.0 455.1 L626.0 455.0" fill="none" stroke="#403480" stroke-width="2.2" stroke-linejoin="round" opacity="1.0" />
<path d="M386.0 467.5 L387.0 467.4 L388.0 467.4 L389.0 467.3 L390.0 467.3 L391.0 467.2 L392.0 467.2 L393.0 467.1 L394.0 467.1 L395.0 467.0 L396.0 467.0 L397.0 466.9 L398.0 466.9 L399.0 466.8 L400.0 466.8 L401.0 466.7 L402.0 466.7 L403.0 466.6 L404.0 466.6 L405.0 466.5 L406.0 466.5 L407.0 466.4 L408.0 466.4 L409.0 466.3 L410.0 466.2 L411.0 466.2 L412.0 466.1 L413.0 466.1 L414.0 466.0 L415.0 466.0 L416.0 465.9 L417.0 465.9 L418.0 465.8 L419.0 465.8 L420.0 465.7 L421.0 465.7 L422.0 465.6 L423.0 465.6 L424.0 465.5 L425.0 465.5 L426.0 465.4 L427.0 465.4 L428.0 465.3 L429.0 465.3 L430.0 465.2 L431.0 465.2 L432.0 465.1 L433.0 465.1 L434.0 465.0 L435.0 464.9 L436.0 464.9 L437.0 464.8 L438.0 464.8 L439.0 464.7 L440.0 464.7 L441.0 464.6 L442.0 464.6 L443.0 464.5 L444.0 464.5 L445.0 464.4 L446.0 464.4 L447.0 464.3 L448.0 464.3 L449.0 464.2 L450.0 464.2 L451.0 464.1 L452.0 464.1 L453.0 464.0 L454.0 464.0 L455.0 463.9 L456.0 463.9 L457.0 463.8 L458.0 463.8 L459.0 463.7 L460.0 463.6 L461.0 463.6 L462.0 463.5 L463.0 463.5 L464.0 463.4 L465.0 463.4 L466.0 463.3 L467.0 463.3 L468.0 463.2 L469.0 463.2 L470.0 463.1 L471.0 463.1 L472.0 463.0 L473.0 463.0 L474.0 462.9 L475.0 462.9 L476.0 462.8 L477.0 462.8 L478.0 462.7 L479.0 462.7 L480.0 462.6 L481.0 462.6 L482.0 462.5 L483.0 462.4 L484.0 462.4 L485.0 462.3 L486.0 462.3 L487.0 462.2 L488.0 462.2 L489.0 462.1 L490.0 462.1 L491.0 462.0 L492.0 462.0 L493.0 461.9 L494.0 461.9 L495.0 461.8 L496.0 461.8 L497.0 461.7 L498.0 461.6 L499.0 461.5 L500.0 461.4 L501.0 461.3 L502.0 461.1 L503.0 460.9 L504.0 460.6 L505.0 460.3 L506.0 459.8 L507.0 459.2 L508.0 458.4 L509.0 457.5 L510.0 456.4 L511.0 455.2 L512.0 453.7 L513.0 452.1 L514.0 450.4 L515.0 448.7 L516.0 446.9 L517.0 445.2 L518.0 443.6 L519.0 442.3 L520.0 441.3 L521.0 440.7 L522.0 440.4 L523.0 440.6 L524.0 441.1 L525.0 442.0 L526.0 443.2 L527.0 444.7 L528.0 446.3 L529.0 447.9 L530.0 449.6 L531.0 451.2 L532.0 452.7 L533.0 454.0 L534.0 455.2 L535.0 456.2 L536.0 457.0 L537.0 457.6 L538.0 458.1 L539.0 458.5 L540.0 458.7 L541.0 458.9 L542.0 459.0 L543.0 459.1 L544.0 459.1 L545.0 459.1 L546.0 459.1 L547.0 459.1 L548.0 459.0 L549.0 459.0 L550.0 459.0 L551.0 458.9 L552.0 458.9 L553.0 458.8 L554.0 458.7 L555.0 458.7 L556.0 458.6 L557.0 458.6 L558.0 458.5 L559.0 458.5 L560.0 458.4 L561.0 458.4 L562.0 458.3 L563.0 458.3 L564.0 458.2 L565.0 458.2 L566.0 458.1 L567.0 458.1 L568.0 458.0 L569.0 458.0 L570.0 457.9 L571.0 457.9 L572.0 457.8 L573.0 457.8 L574.0 457.7 L575.0 457.7 L576.0 457.6 L577.0 457.6 L578.0 457.5 L579.0 457.4 L580.0 457.4 L581.0 457.3 L582.0 457.3 L583.0 457.2 L584.0 457.2 L585.0 457.1 L586.0 457.1 L587.0 457.0 L588.0 457.0 L589.0 456.9 L590.0 456.9 L591.0 456.8 L592.0 456.8 L593.0 456.7 L594.0 456.7 L595.0 456.6 L596.0 456.6 L597.0 456.5 L598.0 456.5 L599.0 456.4 L600.0 456.4 L601.0 456.3 L602.0 456.2 L603.0 456.2 L604.0 456.1 L605.0 456.1 L606.0 456.0 L607.0 456.0 L608.0 455.9 L609.0 455.9 L610.0 455.8 L611.0 455.8 L612.0 455.7 L613.0 455.7 L614.0 455.6 L615.0 455.6 L616.0 455.5 L617.0 455.5 L618.0 455.4 L619.0 455.4 L620.0 455.3 L621.0 455.3 L622.0 455.2 L623.0 455.2 L624.0 455.1 L625.0 455.1 L626.0 455.0" fill="none" stroke="#62c8de" stroke-width="2.2" stroke-linejoin="round" opacity="1.0" />
<path d="M373.0 712.5 L572.0 716.0" fill="none" stroke="#62c8de" stroke-width="1.6" stroke-linejoin="round" opacity="1.0" />
<path d="M480.0 714.4 L572.0 716.0" fill="none" stroke="#6cc46c" stroke-width="1.6" stroke-linejoin="round" opacity="1.0" />
<path d="M373.0 716.0 L374.5 709.4 L376.0 714.3 L377.5 711.4 L379.0 711.7 L380.5 712.1 L382.0 712.0 L383.5 712.8 L385.0 713.3 L386.5 714.1 L388.0 712.5 L389.5 714.6 L391.0 712.8 L392.5 713.0 L394.0 712.4 L395.5 711.5 L397.0 710.9 L398.5 713.6 L400.0 712.4 L401.5 713.7 L403.0 713.2 L404.5 710.9 L406.0 712.7 L407.5 711.4 L409.0 715.3 L410.5 712.0 L412.0 713.7 L413.5 711.4 L415.0 711.8 L416.5 712.8 L418.0 713.1 L419.5 713.9 L421.0 710.4 L422.5 714.7 L424.0 711.0 L425.5 712.9 L427.0 712.3 L428.5 712.2 L430.0 713.4 L431.5 713.3 L433.0 712.0 L434.5 710.5 L436.0 711.9 L437.5 710.3 L439.0 710.4 L440.5 707.9 L442.0 704.1 L443.5 704.7 L445.0 702.3 L446.5 702.2 L448.0 696.8 L449.5 696.1 L451.0 690.3 L452.5 684.4 L454.0 682.0 L455.5 676.3 L457.0 670.0 L458.5 660.4 L460.0 657.3 L461.5 646.2 L463.0 636.9 L464.5 631.1 L466.0 618.8 L467.5 612.1 L469.0 606.2 L470.5 597.4 L472.0 586.3 L473.5 577.8 L475.0 572.3 L476.5 561.9 L478.0 554.9 L479.5 547.7 L481.0 549.8 L482.5 540.8 L484.0 540.0 L485.5 542.5 L487.0 544.3 L488.5 546.3 L490.0 555.3 L491.5 559.0 L493.0 569.2 L494.5 578.3 L496.0 587.1 L497.5 599.8 L499.0 613.5 L500.5 618.3 L502.0 633.3 L503.5 642.3 L505.0 650.5 L506.5 660.2 L508.0 664.5 L509.5 674.0 L511.0 678.5 L512.5 684.2 L514.0 685.8 L515.5 685.3 L517.0 685.9 L518.5 690.4 L520.0 686.3 L521.5 682.2 L523.0 685.0 L524.5 681.8 L526.0 682.9 L527.5 680.8 L529.0 684.7 L530.5 685.0 L532.0 688.2 L533.5 692.5 L535.0 693.5 L536.5 695.1 L538.0 698.0 L539.5 702.9 L541.0 707.4 L542.5 708.7 L544.0 708.6 L545.5 713.8 L547.0 712.4 L548.5 712.7 L550.0 715.3 L551.5 714.2 L553.0 713.5 L554.5 715.2 L556.0 715.8 L557.5 717.6 L559.0 713.2 L560.5 717.1 L562.0 715.2 L563.5 715.9 L565.0 713.8 L566.5 718.7 L568.0 716.8 L569.5 718.1 L571.0 715.8" fill="none" stroke="#303030" stroke-width="1.6" stroke-linejoin="round" opacity="1.0" />
<path d="M373.0 712.5 L374.0 712.5 L375.0 712.5 L376.0 712.6 L377.0 712.6 L378.0 712.6 L379.0 712.6 L380.0 712.6 L381.0 712.6 L382.0 712.7 L383.0 712.7 L384.0 712.7 L385.0 712.7 L386.0 712.7 L387.0 712.7 L388.0 712.8 L389.0 712.8 L390.0 712.8 L391.0 712.8 L392.0 712.8 L393.0 712.9 L394.0 712.9 L395.0 712.9 L396.0 712.9 L397.0 712.9 L398.0 712.9 L399.0 713.0 L400.0 713.0 L401.0 713.0 L402.0 713.0 L403.0 713.0 L404.0 713.0 L405.0 713.1 L406.0 713.1 L407.0 713.1 L408.0 713.1 L409.0 713.1 L410.0 713.1 L411.0 713.2 L412.0 713.2 L413.0 713.2 L414.0 713.2 L415.0 713.2 L416.0 713.2 L417.0 713.2 L418.0 713.2 L419.0 713.2 L420.0 713.2 L421.0 713.2 L422.0 713.2 L423.0 713.2 L424.0 713.1 L425.0 713.1 L426.0 713.0 L427.0 712.9 L428.0 712.8 L429.0 712.7 L430.0 712.6 L431.0 712.4 L432.0 712.2 L433.0 712.0 L434.0 711.7 L435.0 711.3 L436.0 710.9 L437.0 710.4 L438.0 709.9 L439.0 709.2 L440.0 708.5 L441.0 707.7 L442.0 706.7 L443.0 705.6 L444.0 704.4 L445.0 703.0 L446.0 701.4 L447.0 699.7 L448.0 697.7 L449.0 695.6 L450.0 693.2 L451.0 690.6 L452.0 687.8 L453.0 684.7 L454.0 681.3 L455.0 677.7 L456.0 673.8 L457.0 669.7 L458.0 665.3 L459.0 660.6 L460.0 655.7 L461.0 650.6 L462.0 645.2 L463.0 639.6 L464.0 633.9 L465.0 628.0 L466.0 622.0 L467.0 616.0 L468.0 609.8 L469.0 603.7 L470.0 597.7 L471.0 591.7 L472.0 585.8 L473.0 580.2 L474.0 574.8 L475.0 569.6 L476.0 564.8 L477.0 560.4 L478.0 556.3 L479.0 552.8 L480.0 549.7 L481.0 547.1 L482.0 545.1 L483.0 543.6 L484.0 542.7 L485.0 542.5 L486.0 542.9 L487.0 544.3 L488.0 546.4 L489.0 549.4 L490.0 553.2 L491.0 557.7 L492.0 562.8 L493.0 568.5 L494.0 574.7 L495.0 581.3 L496.0 588.3 L497.0 595.5 L498.0 602.8 L499.0 610.2 L500.0 617.6 L501.0 624.8 L502.0 631.9 L503.0 638.8 L504.0 645.3 L505.0 651.5 L506.0 657.3 L507.0 662.6 L508.0 667.4 L509.0 671.7 L510.0 675.5 L511.0 678.7 L512.0 681.4 L513.0 683.5 L514.0 685.1 L515.0 686.2 L516.0 686.9 L517.0 687.2 L518.0 687.2 L519.0 686.9 L520.0 686.3 L521.0 685.7 L522.0 685.0 L523.0 684.3 L524.0 683.8 L525.0 683.4 L526.0 683.2 L527.0 683.3 L528.0 683.7 L529.0 684.4 L530.0 685.4 L531.0 686.7 L532.0 688.2 L533.0 689.9 L534.0 691.8 L535.0 693.9 L536.0 695.9 L537.0 698.0 L538.0 700.1 L539.0 702.1 L540.0 703.9 L541.0 705.7 L542.0 707.2 L543.0 708.6 L544.0 709.9 L545.0 711.0 L546.0 711.9 L547.0 712.7 L548.0 713.3 L549.0 713.9 L550.0 714.3 L551.0 714.6 L552.0 714.9 L553.0 715.1 L554.0 715.3 L555.0 715.4 L556.0 715.5 L557.0 715.6 L558.0 715.7 L559.0 715.7 L560.0 715.7 L561.0 715.8 L562.0 715.8 L563.0 715.8 L564.0 715.9 L565.0 715.9 L566.0 715.9 L567.0 715.9 L568.0 715.9 L569.0 715.9 L570.0 716.0 L571.0 716.0 L572.0 716.0" fill="none" stroke="#c43a4a" stroke-width="2.0" stroke-linejoin="round" opacity="1.0" />
<path d="M373.0 712.5 L374.0 712.5 L375.0 712.5 L376.0 712.6 L377.0 712.6 L378.0 712.6 L379.0 712.6 L380.0 712.6 L381.0 712.6 L382.0 712.7 L383.0 712.7 L384.0 712.7 L385.0 712.7 L386.0 712.7 L387.0 712.7 L388.0 712.8 L389.0 712.8 L390.0 712.8 L391.0 712.8 L392.0 712.8 L393.0 712.9 L394.0 712.9 L395.0 712.9 L396.0 712.9 L397.0 712.9 L398.0 712.9 L399.0 713.0 L400.0 713.0 L401.0 713.0 L402.0 713.0 L403.0 713.0 L404.0 713.0 L405.0 713.1 L406.0 713.1 L407.0 713.1 L408.0 713.1 L409.0 713.1 L410.0 713.1 L411.0 713.2 L412.0 713.2 L413.0 713.2 L414.0 713.2 L415.0 713.2 L416.0 713.2 L417.0 713.2 L418.0 713.2 L419.0 713.2 L420.0 713.2 L421.0 713.2 L422.0 713.2 L423.0 713.2 L424.0 713.1 L425.0 713.1 L426.0 713.0 L427.0 712.9 L428.0 712.8 L429.0 712.7 L430.0 712.6 L431.0 712.4 L432.0 712.2 L433.0 712.0 L434.0 711.7 L435.0 711.3 L436.0 710.9 L437.0 710.4 L438.0 709.9 L439.0 709.2 L440.0 708.5 L441.0 707.7 L442.0 706.7 L443.0 705.6 L444.0 704.4 L445.0 703.0 L446.0 701.4 L447.0 699.7 L448.0 697.7 L449.0 695.6 L450.0 693.2 L451.0 690.6 L452.0 687.8 L453.0 684.7 L454.0 681.3 L455.0 677.7 L456.0 673.8 L457.0 669.7 L458.0 665.3 L459.0 660.6 L460.0 655.7 L461.0 650.6 L462.0 645.2 L463.0 639.6 L464.0 633.9 L465.0 628.0 L466.0 622.0 L467.0 616.0 L468.0 609.8 L469.0 603.7 L470.0 597.7 L471.0 591.7 L472.0 585.8 L473.0 580.2 L474.0 574.8 L475.0 569.6 L476.0 564.8 L477.0 560.4 L478.0 556.3 L479.0 552.8 L480.0 549.7 L481.0 547.1 L482.0 545.1 L483.0 543.6 L484.0 542.7 L485.0 542.5 L486.0 542.9 L487.0 544.3 L488.0 546.4 L489.0 549.4 L490.0 553.2 L491.0 557.7 L492.0 562.8 L493.0 568.5 L494.0 574.7 L495.0 581.4 L496.0 588.3 L497.0 595.6 L498.0 602.9 L499.0 610.4 L500.0 617.8 L501.0 625.2 L502.0 632.5 L503.0 639.5 L504.0 646.3 L505.0 652.8 L506.0 659.0 L507.0 664.8 L508.0 670.3 L509.0 675.3 L510.0 680.0 L511.0 684.3 L512.0 688.2 L513.0 691.7 L514.0 694.9 L515.0 697.7 L516.0 700.2 L517.0 702.4 L518.0 704.4 L519.0 706.1 L520.0 707.5 L521.0 708.8 L522.0 709.9 L523.0 710.8 L524.0 711.6 L525.0 712.3 L526.0 712.8 L527.0 713.3 L528.0 713.7 L529.0 714.0 L530.0 714.3 L531.0 714.5 L532.0 714.7 L533.0 714.8 L534.0 715.0 L535.0 715.1 L536.0 715.1 L537.0 715.2 L538.0 715.3 L539.0 715.3 L540.0 715.4 L541.0 715.4 L542.0 715.4 L543.0 715.5 L544.0 715.5 L545.0 715.5 L546.0 715.5 L547.0 715.6 L548.0 715.6 L549.0 715.6 L550.0 715.6 L551.0 715.6 L552.0 715.6 L553.0 715.7 L554.0 715.7 L555.0 715.7 L556.0 715.7 L557.0 715.7 L558.0 715.8 L559.0 715.8 L560.0 715.8 L561.0 715.8 L562.0 715.8 L563.0 715.8 L564.0 715.9 L565.0 715.9 L566.0 715.9 L567.0 715.9 L568.0 715.9 L569.0 715.9 L570.0 716.0 L571.0 716.0 L572.0 716.0" fill="none" stroke="#403480" stroke-width="2.2" stroke-linejoin="round" opacity="1.0" />
<path d="M373.0 712.5 L374.0 712.5 L375.0 712.5 L376.0 712.6 L377.0 712.6 L378.0 712.6 L379.0 712.6 L380.0 712.6 L381.0 712.6 L382.0 712.7 L383.0 712.7 L384.0 712.7 L385.0 712.7 L386.0 712.7 L387.0 712.7 L388.0 712.8 L389.0 712.8 L390.0 712.8 L391.0 712.8 L392.0 712.8 L393.0 712.9 L394.0 712.9 L395.0 712.9 L396.0 712.9 L397.0 712.9 L398.0 712.9 L399.0 713.0 L400.0 713.0 L401.0 713.0 L402.0 713.0 L403.0 713.0 L404.0 713.0 L405.0 713.1 L406.0 713.1 L407.0 713.1 L408.0 713.1 L409.0 713.1 L410.0 713.2 L411.0 713.2 L412.0 713.2 L413.0 713.2 L414.0 713.2 L415.0 713.2 L416.0 713.3 L417.0 713.3 L418.0 713.3 L419.0 713.3 L420.0 713.3 L421.0 713.3 L422.0 713.4 L423.0 713.4 L424.0 713.4 L425.0 713.4 L426.0 713.4 L427.0 713.4 L428.0 713.5 L429.0 713.5 L430.0 713.5 L431.0 713.5 L432.0 713.5 L433.0 713.6 L434.0 713.6 L435.0 713.6 L436.0 713.6 L437.0 713.6 L438.0 713.6 L439.0 713.7 L440.0 713.7 L441.0 713.7 L442.0 713.7 L443.0 713.7 L444.0 713.7 L445.0 713.8 L446.0 713.8 L447.0 713.8 L448.0 713.8 L449.0 713.8 L450.0 713.9 L451.0 713.9 L452.0 713.9 L453.0 713.9 L454.0 713.9 L455.0 713.9 L456.0 714.0 L457.0 714.0 L458.0 714.0 L459.0 714.0 L460.0 714.0 L461.0 714.0 L462.0 714.1 L463.0 714.1 L464.0 714.1 L465.0 714.1 L466.0 714.1 L467.0 714.2 L468.0 714.2 L469.0 714.2 L470.0 714.2 L471.0 714.2 L472.0 714.2 L473.0 714.3 L474.0 714.3 L475.0 714.3 L476.0 714.3 L477.0 714.3 L478.0 714.3 L479.0 714.4 L480.0 714.4 L481.0 714.4 L482.0 714.4 L483.0 714.4 L484.0 714.5 L485.0 714.5 L486.0 714.5 L487.0 714.5 L488.0 714.5 L489.0 714.5 L490.0 714.6 L491.0 714.6 L492.0 714.6 L493.0 714.6 L494.0 714.6 L495.0 714.6 L496.0 714.6 L497.0 714.6 L498.0 714.6 L499.0 714.5 L500.0 714.5 L501.0 714.4 L502.0 714.2 L503.0 714.0 L504.0 713.8 L505.0 713.5 L506.0 713.1 L507.0 712.6 L508.0 712.0 L509.0 711.3 L510.0 710.4 L511.0 709.3 L512.0 708.1 L513.0 706.8 L514.0 705.2 L515.0 703.6 L516.0 701.8 L517.0 699.8 L518.0 697.9 L519.0 695.9 L520.0 693.9 L521.0 692.0 L522.0 690.2 L523.0 688.7 L524.0 687.3 L525.0 686.3 L526.0 685.6 L527.0 685.3 L528.0 685.3 L529.0 685.7 L530.0 686.4 L531.0 687.5 L532.0 688.8 L533.0 690.4 L534.0 692.2 L535.0 694.1 L536.0 696.2 L537.0 698.2 L538.0 700.2 L539.0 702.2 L540.0 704.0 L541.0 705.7 L542.0 707.3 L543.0 708.7 L544.0 709.9 L545.0 711.0 L546.0 711.9 L547.0 712.7 L548.0 713.3 L549.0 713.9 L550.0 714.3 L551.0 714.6 L552.0 714.9 L553.0 715.1 L554.0 715.3 L555.0 715.4 L556.0 715.5 L557.0 715.6 L558.0 715.7 L559.0 715.7 L560.0 715.7 L561.0 715.8 L562.0 715.8 L563.0 715.8 L564.0 715.9 L565.0 715.9 L566.0 715.9 L567.0 715.9 L568.0 715.9 L569.0 715.9 L570.0 716.0 L571.0 716.0 L572.0 716.0" fill="none" stroke="#62c8de" stroke-width="2.2" stroke-linejoin="round" opacity="1.0" />
<path d="M400.0 930.0 L616.0 928.0" fill="none" stroke="#62c8de" stroke-width="1.6" stroke-linejoin="round" opacity="1.0" />
<path d="M420.0 929.8 L600.0 928.1" fill="none" stroke="#6cc46c" stroke-width="1.6" stroke-linejoin="round" opacity="1.0" />
<path d="M400.0 933.2 L401.5 930.9 L403.0 937.7 L404.5 937.8 L406.0 933.0 L407.5 936.6 L409.0 935.1 L410.5 934.7 L412.0 934.8 L413.5 935.4 L415.0 932.3 L416.5 930.9 L418.0 931.0 L419.5 935.6 L421.0 933.3 L422.5 933.2 L424.0 929.2 L425.5 934.4 L427.0 932.4 L428.5 931.3 L430.0 932.1 L431.5 936.8 L433.0 933.5 L434.5 933.8 L436.0 932.5 L437.5 931.3 L439.0 931.7 L440.5 933.1 L442.0 928.8 L443.5 930.8 L445.0 932.6 L446.5 924.8 L448.0 927.3 L449.5 929.4 L451.0 923.4 L452.5 922.5 L454.0 917.4 L455.5 914.2 L457.0 915.7 L458.5 904.3 L460.0 906.8 L461.5 895.5 L463.0 892.6 L464.5 880.9 L466.0 880.7 L467.5 868.6 L469.0 860.5 L470.5 850.9 L472.0 837.5 L473.5 831.7 L475.0 820.3 L476.5 809.6 L478.0 796.2 L479.5 793.2 L481.0 782.0 L482.5 773.4 L484.0 770.2 L485.5 766.9 L487.0 760.6 L488.5 763.3 L490.0 758.3 L491.5 762.3 L493.0 767.6 L494.5 770.6 L496.0 777.4 L497.5 790.1 L499.0 797.3 L500.5 809.2 L502.0 814.9 L503.5 826.6 L505.0 836.7 L506.5 842.9 L508.0 852.0 L509.5 858.2 L511.0 860.6 L512.5 866.2 L514.0 862.8 L515.5 870.3 L517.0 872.1 L518.5 866.2 L520.0 863.3 L521.5 858.2 L523.0 857.0 L524.5 855.0 L526.0 851.3 L527.5 852.1 L529.0 849.6 L530.5 852.7 L532.0 853.0 L533.5 857.9 L535.0 860.0 L536.5 858.2 L538.0 864.5 L539.5 869.8 L541.0 877.9 L542.5 887.7 L544.0 891.4 L545.5 898.8 L547.0 904.1 L548.5 909.6 L550.0 916.6 L551.5 921.8 L553.0 923.9 L554.5 926.3 L556.0 930.1 L557.5 929.7 L559.0 935.6 L560.5 933.0 L562.0 938.0 L563.5 935.6 L565.0 937.7 L566.5 934.3 L568.0 938.8 L569.5 935.6 L571.0 936.9 L572.5 938.1 L574.0 940.7 L575.5 937.8 L577.0 942.1 L578.5 938.1 L580.0 936.1 L581.5 938.8 L583.0 942.7 L584.5 938.9 L586.0 939.4 L587.5 937.8 L589.0 939.2 L590.5 938.7 L592.0 936.9 L593.5 937.9 L595.0 937.7 L596.5 934.7 L598.0 937.1 L599.5 934.7 L601.0 935.1 L602.5 933.5 L604.0 933.6 L605.5 932.1 L607.0 936.5 L608.5 930.0 L610.0 932.6 L611.5 928.2 L613.0 930.7 L614.5 929.3 L616.0 931.0" fill="none" stroke="#303030" stroke-width="1.6" stroke-linejoin="round" opacity="1.0" />
<path d="M400.0 930.0 L401.0 930.0 L402.0 930.0 L403.0 930.0 L404.0 930.0 L405.0 930.0 L406.0 929.9 L407.0 929.9 L408.0 929.9 L409.0 929.9 L410.0 929.9 L411.0 929.9 L412.0 929.9 L413.0 929.9 L414.0 929.9 L415.0 929.9 L416.0 929.9 L417.0 929.8 L418.0 929.8 L419.0 929.8 L420.0 929.8 L421.0 929.8 L422.0 929.8 L423.0 929.8 L424.0 929.8 L425.0 929.7 L426.0 929.7 L427.0 929.7 L428.0 929.7 L429.0 929.7 L430.0 929.6 L431.0 929.6 L432.0 929.6 L433.0 929.5 L434.0 929.5 L435.0 929.4 L436.0 929.3 L437.0 929.2 L438.0 929.1 L439.0 929.0 L440.0 928.8 L441.0 928.6 L442.0 928.4 L443.0 928.1 L444.0 927.7 L445.0 927.3 L446.0 926.8 L447.0 926.2 L448.0 925.5 L449.0 924.7 L450.0 923.8 L451.0 922.7 L452.0 921.5 L453.0 920.0 L454.0 918.4 L455.0 916.5 L456.0 914.5 L457.0 912.1 L458.0 909.5 L459.0 906.6 L460.0 903.4 L461.0 899.8 L462.0 896.0 L463.0 891.8 L464.0 887.3 L465.0 882.4 L466.0 877.2 L467.0 871.7 L468.0 865.9 L469.0 859.9 L470.0 853.6 L471.0 847.1 L472.0 840.4 L473.0 833.6 L474.0 826.8 L475.0 820.0 L476.0 813.2 L477.0 806.6 L478.0 800.1 L479.0 793.9 L480.0 788.1 L481.0 782.7 L482.0 777.7 L483.0 773.2 L484.0 769.4 L485.0 766.1 L486.0 763.5 L487.0 761.7 L488.0 760.6 L489.0 760.2 L490.0 760.6 L491.0 761.9 L492.0 764.0 L493.0 766.9 L494.0 770.5 L495.0 774.9 L496.0 779.9 L497.0 785.5 L498.0 791.5 L499.0 797.9 L500.0 804.7 L501.0 811.6 L502.0 818.6 L503.0 825.7 L504.0 832.7 L505.0 839.5 L506.0 846.0 L507.0 852.2 L508.0 857.9 L509.0 863.1 L510.0 867.8 L511.0 871.7 L512.0 875.0 L513.0 877.5 L514.0 879.2 L515.0 880.1 L516.0 880.2 L517.0 879.6 L518.0 878.3 L519.0 876.3 L520.0 873.9 L521.0 871.0 L522.0 867.8 L523.0 864.6 L524.0 861.4 L525.0 858.4 L526.0 855.7 L527.0 853.6 L528.0 852.2 L529.0 851.4 L530.0 851.5 L531.0 852.4 L532.0 854.1 L533.0 856.6 L534.0 859.8 L535.0 863.7 L536.0 868.1 L537.0 872.8 L538.0 877.8 L539.0 882.9 L540.0 888.0 L541.0 893.0 L542.0 897.7 L543.0 902.2 L544.0 906.2 L545.0 909.9 L546.0 913.2 L547.0 916.0 L548.0 918.5 L549.0 920.5 L550.0 922.2 L551.0 923.7 L552.0 924.8 L553.0 925.7 L554.0 926.4 L555.0 927.0 L556.0 927.4 L557.0 927.7 L558.0 927.9 L559.0 928.1 L560.0 928.2 L561.0 928.3 L562.0 928.4 L563.0 928.4 L564.0 928.4 L565.0 928.4 L566.0 928.4 L567.0 928.4 L568.0 928.4 L569.0 928.4 L570.0 928.4 L571.0 928.4 L572.0 928.4 L573.0 928.4 L574.0 928.4 L575.0 928.4 L576.0 928.4 L577.0 928.4 L578.0 928.4 L579.0 928.3 L580.0 928.3 L581.0 928.3 L582.0 928.3 L583.0 928.3 L584.0 928.3 L585.0 928.3 L586.0 928.3 L587.0 928.3 L588.0 928.3 L589.0 928.2 L590.0 928.2 L591.0 928.2 L592.0 928.2 L593.0 928.2 L594.0 928.2 L595.0 928.2 L596.0 928.2 L597.0 928.2 L598.0 928.2 L599.0 928.2 L600.0 928.1 L601.0 928.1 L602.0 928.1 L603.0 928.1 L604.0 928.1 L605.0 928.1 L606.0 928.1 L607.0 928.1 L608.0 928.1 L609.0 928.1 L610.0 928.1 L611.0 928.0 L612.0 928.0 L613.0 928.0 L614.0 928.0 L615.0 928.0 L616.0 928.0" fill="none" stroke="#c43a4a" stroke-width="2.0" stroke-linejoin="round" opacity="1.0" />
<path d="M400.0 930.0 L401.0 930.0 L402.0 930.0 L403.0 930.0 L404.0 930.0 L405.0 930.0 L406.0 929.9 L407.0 929.9 L408.0 929.9 L409.0 929.9 L410.0 929.9 L411.0 929.9 L412.0 929.9 L413.0 929.9 L414.0 929.9 L415.0 929.9 L416.0 929.9 L417.0 929.8 L418.0 929.8 L419.0 929.8 L420.0 929.8 L421.0 929.8 L422.0 929.8 L423.0 929.8 L424.0 929.8 L425.0 929.7 L426.0 929.7 L427.0 929.7 L428.0 929.7 L429.0 929.7 L430.0 929.6 L431.0 929.6 L432.0 929.6 L433.0 929.5 L434.0 929.5 L435.0 929.4 L436.0 929.3 L437.0 929.2 L438.0 929.1 L439.0 929.0 L440.0 928.8 L441.0 928.6 L442.0 928.4 L443.0 928.1 L444.0 927.7 L445.0 927.3 L446.0 926.8 L447.0 926.2 L448.0 925.5 L449.0 924.7 L450.0 923.8 L451.0 922.7 L452.0 921.5 L453.0 920.0 L454.0 918.4 L455.0 916.5 L456.0 914.5 L457.0 912.1 L458.0 909.5 L459.0 906.6 L460.0 903.4 L461.0 899.8 L462.0 896.0 L463.0 891.8 L464.0 887.3 L465.0 882.4 L466.0 877.2 L467.0 871.7 L468.0 865.9 L469.0 859.9 L470.0 853.6 L471.0 847.1 L472.0 840.4 L473.0 833.6 L474.0 826.8 L475.0 820.0 L476.0 813.2 L477.0 806.6 L478.0 800.1 L479.0 793.9 L480.0 788.1 L481.0 782.7 L482.0 777.7 L483.0 773.2 L484.0 769.4 L485.0 766.1 L486.0 763.6 L487.0 761.7 L488.0 760.6 L489.0 760.2 L490.0 760.6 L491.0 761.9 L492.0 764.0 L493.0 766.9 L494.0 770.6 L495.0 774.9 L496.0 780.0 L497.0 785.6 L498.0 791.6 L499.0 798.1 L500.0 805.0 L501.0 812.0 L502.0 819.2 L503.0 826.5 L504.0 833.8 L505.0 841.1 L506.0 848.2 L507.0 855.1 L508.0 861.7 L509.0 868.1 L510.0 874.1 L511.0 879.8 L512.0 885.1 L513.0 890.1 L514.0 894.6 L515.0 898.8 L516.0 902.6 L517.0 906.0 L518.0 909.1 L519.0 911.9 L520.0 914.3 L521.0 916.5 L522.0 918.4 L523.0 920.0 L524.0 921.4 L525.0 922.6 L526.0 923.7 L527.0 924.6 L528.0 925.3 L529.0 926.0 L530.0 926.5 L531.0 926.9 L532.0 927.3 L533.0 927.6 L534.0 927.8 L535.0 928.0 L536.0 928.1 L537.0 928.3 L538.0 928.4 L539.0 928.4 L540.0 928.5 L541.0 928.5 L542.0 928.6 L543.0 928.6 L544.0 928.6 L545.0 928.6 L546.0 928.6 L547.0 928.6 L548.0 928.6 L549.0 928.6 L550.0 928.6 L551.0 928.6 L552.0 928.6 L553.0 928.6 L554.0 928.6 L555.0 928.6 L556.0 928.6 L557.0 928.5 L558.0 928.5 L559.0 928.5 L560.0 928.5 L561.0 928.5 L562.0 928.5 L563.0 928.5 L564.0 928.5 L565.0 928.5 L566.0 928.5 L567.0 928.5 L568.0 928.4 L569.0 928.4 L570.0 928.4 L571.0 928.4 L572.0 928.4 L573.0 928.4 L574.0 928.4 L575.0 928.4 L576.0 928.4 L577.0 928.4 L578.0 928.4 L579.0 928.3 L580.0 928.3 L581.0 928.3 L582.0 928.3 L583.0 928.3 L584.0 928.3 L585.0 928.3 L586.0 928.3 L587.0 928.3 L588.0 928.3 L589.0 928.2 L590.0 928.2 L591.0 928.2 L592.0 928.2 L593.0 928.2 L594.0 928.2 L595.0 928.2 L596.0 928.2 L597.0 928.2 L598.0 928.2 L599.0 928.2 L600.0 928.1 L601.0 928.1 L602.0 928.1 L603.0 928.1 L604.0 928.1 L605.0 928.1 L606.0 928.1 L607.0 928.1 L608.0 928.1 L609.0 928.1 L610.0 928.1 L611.0 928.0 L612.0 928.0 L613.0 928.0 L614.0 928.0 L615.0 928.0 L616.0 928.0" fill="none" stroke="#403480" stroke-width="2.2" stroke-linejoin="round" opacity="1.0" />
<path d="M400.0 930.0 L401.0 930.0 L402.0 930.0 L403.0 930.0 L404.0 930.0 L405.0 930.0 L406.0 929.9 L407.0 929.9 L408.0 929.9 L409.0 929.9 L410.0 929.9 L411.0 929.9 L412.0 929.9 L413.0 929.9 L414.0 929.9 L415.0 929.9 L416.0 929.9 L417.0 929.8 L418.0 929.8 L419.0 929.8 L420.0 929.8 L421.0 929.8 L422.0 929.8 L423.0 929.8 L424.0 929.8 L425.0 929.8 L426.0 929.8 L427.0 929.8 L428.0 929.7 L429.0 929.7 L430.0 929.7 L431.0 929.7 L432.0 929.7 L433.0 929.7 L434.0 929.7 L435.0 929.7 L436.0 929.7 L437.0 929.7 L438.0 929.6 L439.0 929.6 L440.0 929.6 L441.0 929.6 L442.0 929.6 L443.0 929.6 L444.0 929.6 L445.0 929.6 L446.0 929.6 L447.0 929.6 L448.0 929.6 L449.0 929.5 L450.0 929.5 L451.0 929.5 L452.0 929.5 L453.0 929.5 L454.0 929.5 L455.0 929.5 L456.0 929.5 L457.0 929.5 L458.0 929.5 L459.0 929.5 L460.0 929.4 L461.0 929.4 L462.0 929.4 L463.0 929.4 L464.0 929.4 L465.0 929.4 L466.0 929.4 L467.0 929.4 L468.0 929.4 L469.0 929.4 L470.0 929.4 L471.0 929.3 L472.0 929.3 L473.0 929.3 L474.0 929.3 L475.0 929.3 L476.0 929.3 L477.0 929.3 L478.0 929.3 L479.0 929.3 L480.0 929.3 L481.0 929.2 L482.0 929.2 L483.0 929.2 L484.0 929.2 L485.0 929.2 L486.0 929.2 L487.0 929.2 L488.0 929.2 L489.0 929.2 L490.0 929.2 L491.0 929.2 L492.0 929.1 L493.0 929.1 L494.0 929.1 L495.0 929.1 L496.0 929.1 L497.0 929.0 L498.0 929.0 L499.0 928.9 L500.0 928.8 L501.0 928.6 L502.0 928.5 L503.0 928.2 L504.0 927.9 L505.0 927.4 L506.0 926.9 L507.0 926.1 L508.0 925.2 L509.0 924.1 L510.0 922.6 L511.0 920.9 L512.0 918.8 L513.0 916.4 L514.0 913.5 L515.0 910.2 L516.0 906.6 L517.0 902.5 L518.0 898.1 L519.0 893.4 L520.0 888.4 L521.0 883.4 L522.0 878.3 L523.0 873.4 L524.0 868.8 L525.0 864.6 L526.0 860.9 L527.0 857.9 L528.0 855.6 L529.0 854.3 L530.0 853.8 L531.0 854.2 L532.0 855.6 L533.0 857.8 L534.0 860.8 L535.0 864.5 L536.0 868.7 L537.0 873.3 L538.0 878.2 L539.0 883.2 L540.0 888.2 L541.0 893.2 L542.0 897.9 L543.0 902.3 L544.0 906.3 L545.0 910.0 L546.0 913.2 L547.0 916.0 L548.0 918.5 L549.0 920.5 L550.0 922.3 L551.0 923.7 L552.0 924.8 L553.0 925.7 L554.0 926.4 L555.0 927.0 L556.0 927.4 L557.0 927.7 L558.0 927.9 L559.0 928.1 L560.0 928.2 L561.0 928.3 L562.0 928.4 L563.0 928.4 L564.0 928.4 L565.0 928.4 L566.0 928.4 L567.0 928.4 L568.0 928.4 L569.0 928.4 L570.0 928.4 L571.0 928.4 L572.0 928.4 L573.0 928.4 L574.0 928.4 L575.0 928.4 L576.0 928.4 L577.0 928.4 L578.0 928.4 L579.0 928.3 L580.0 928.3 L581.0 928.3 L582.0 928.3 L583.0 928.3 L584.0 928.3 L585.0 928.3 L586.0 928.3 L587.0 928.3 L588.0 928.3 L589.0 928.2 L590.0 928.2 L591.0 928.2 L592.0 928.2 L593.0 928.2 L594.0 928.2 L595.0 928.2 L596.0 928.2 L597.0 928.2 L598.0 928.2 L599.0 928.2 L600.0 928.1 L601.0 928.1 L602.0 928.1 L603.0 928.1 L604.0 928.1 L605.0 928.1 L606.0 928.1 L607.0 928.1 L608.0 928.1 L609.0 928.1 L610.0 928.1 L611.0 928.0 L612.0 928.0 L613.0 928.0 L614.0 928.0 L615.0 928.0 L616.0 928.0" fill="none" stroke="#62c8de" stroke-width="2.2" stroke-linejoin="round" opacity="1.0" />
<path d="M393.0 1141.0 L410.0 1140.3" fill="none" stroke="#62c8de" stroke-width="1.6" stroke-linejoin="round" opacity="1.0" />
<path d="M393.0 1141.0 L631.0 1131.0" fill="none" stroke="#6cc46c" stroke-width="1.6" stroke-linejoin="round" opacity="1.0" />
<path d="M560.0 1134.0 L631.0 1131.0" fill="none" stroke="#62c8de" stroke-width="1.6" stroke-linejoin="round" opacity="1.0" />
<path d="M393.0 1133.7 L394.5 1143.7 L396.0 1136.5 L397.5 1136.8 L399.0 1140.7 L400.5 1133.8 L402.0 1143.3 L403.5 1136.2 L405.0 1138.0 L406.5 1139.5 L408.0 1133.5 L409.5 1140.5 L411.0 1138.8 L412.5 1139.3 L414.0 1137.8 L415.5 1134.1 L417.0 1139.2 L418.5 1132.5 L420.0 1139.4 L421.5 1134.3 L423.0 1135.9 L424.5 1139.3 L426.0 1141.1 L427.5 1139.0 L429.0 1134.7 L430.5 1136.2 L432.0 1134.0 L433.5 1135.7 L435.0 1136.7 L436.5 1136.9 L438.0 1134.2 L439.5 1136.1 L441.0 1132.0 L442.5 1135.1 L444.0 1138.5 L445.5 1136.7 L447.0 1134.4 L448.5 1133.2 L450.0 1132.6 L451.5 1128.6 L453.0 1126.5 L454.5 1128.9 L456.0 1119.8 L457.5 1122.6 L459.0 1111.6 L460.5 1112.2 L462.0 1108.9 L463.5 1098.8 L465.0 1091.3 L466.5 1084.6 L468.0 1070.8 L469.5 1070.4 L471.0 1052.7 L472.5 1045.9 L474.0 1034.7 L475.5 1027.0 L477.0 1014.1 L478.5 1005.9 L480.0 999.4 L481.5 989.8 L483.0 986.4 L484.5 978.3 L486.0 976.3 L487.5 966.8 L489.0 971.9 L490.5 971.4 L492.0 975.3 L493.5 975.5 L495.0 984.9 L496.5 991.3 L498.0 993.9 L499.5 1004.9 L501.0 1013.5 L502.5 1026.4 L504.0 1031.6 L505.5 1046.5 L507.0 1053.2 L508.5 1062.5 L510.0 1069.5 L511.5 1087.5 L513.0 1089.8 L514.5 1099.2 L516.0 1097.6 L517.5 1112.7 L519.0 1110.5 L520.5 1115.0 L522.0 1120.2 L523.5 1122.7 L525.0 1130.8 L526.5 1126.6 L528.0 1130.1 L529.5 1132.0 L531.0 1132.2 L532.5 1127.6 L534.0 1135.3 L535.5 1129.2 L537.0 1132.9 L538.5 1132.3 L540.0 1126.2 L541.5 1134.7 L543.0 1126.0 L544.5 1130.9 L546.0 1125.0 L547.5 1137.0 L549.0 1129.2 L550.5 1132.8 L552.0 1132.9 L553.5 1137.2 L555.0 1138.3 L556.5 1137.8 L558.0 1136.2 L559.5 1136.5 L561.0 1134.0 L562.5 1139.0 L564.0 1140.6 L565.5 1138.5 L567.0 1146.2 L568.5 1141.3 L570.0 1140.7 L571.5 1143.3 L573.0 1141.6 L574.5 1139.8 L576.0 1141.7 L577.5 1137.9 L579.0 1142.6 L580.5 1144.3 L582.0 1139.7 L583.5 1147.3 L585.0 1139.3 L586.5 1145.0 L588.0 1142.1 L589.5 1140.4 L591.0 1139.9 L592.5 1144.2 L594.0 1143.5 L595.5 1141.7 L597.0 1142.1 L598.5 1136.5 L600.0 1143.6 L601.5 1143.7 L603.0 1143.3 L604.5 1140.9 L606.0 1138.1 L607.5 1142.8 L609.0 1137.1 L610.5 1141.4 L612.0 1140.6 L613.5 1134.0 L615.0 1137.6 L616.5 1136.8 L618.0 1136.7 L619.5 1135.3 L621.0 1137.0 L622.5 1135.7 L624.0 1131.6 L625.5 1133.7 L627.0 1135.0 L628.5 1128.2 L630.0 1131.5" fill="none" stroke="#303030" stroke-width="1.6" stroke-linejoin="round" opacity="1.0" />
<path d="M393.0 1141.0 L394.0 1141.0 L395.0 1140.9 L396.0 1140.9 L397.0 1140.8 L398.0 1140.8 L399.0 1140.7 L400.0 1140.7 L401.0 1140.7 L402.0 1140.6 L403.0 1140.6 L404.0 1140.5 L405.0 1140.5 L406.0 1140.5 L407.0 1140.4 L408.0 1140.4 L409.0 1140.3 L410.0 1140.3 L411.0 1140.2 L412.0 1140.2 L413.0 1140.2 L414.0 1140.1 L415.0 1140.1 L416.0 1140.0 L417.0 1140.0 L418.0 1139.9 L419.0 1139.9 L420.0 1139.9 L421.0 1139.8 L422.0 1139.8 L423.0 1139.7 L424.0 1139.7 L425.0 1139.6 L426.0 1139.6 L427.0 1139.5 L428.0 1139.5 L429.0 1139.4 L430.0 1139.4 L431.0 1139.3 L432.0 1139.2 L433.0 1139.2 L434.0 1139.1 L435.0 1139.0 L436.0 1138.9 L437.0 1138.7 L438.0 1138.6 L439.0 1138.4 L440.0 1138.2 L441.0 1138.0 L442.0 1137.7 L443.0 1137.4 L444.0 1137.0 L445.0 1136.6 L446.0 1136.0 L447.0 1135.4 L448.0 1134.7 L449.0 1133.9 L450.0 1132.9 L451.0 1131.8 L452.0 1130.6 L453.0 1129.1 L454.0 1127.5 L455.0 1125.6 L456.0 1123.5 L457.0 1121.2 L458.0 1118.5 L459.0 1115.6 L460.0 1112.4 L461.0 1108.9 L462.0 1105.1 L463.0 1100.9 L464.0 1096.4 L465.0 1091.5 L466.0 1086.4 L467.0 1080.9 L468.0 1075.2 L469.0 1069.2 L470.0 1062.9 L471.0 1056.4 L472.0 1049.8 L473.0 1043.1 L474.0 1036.3 L475.0 1029.5 L476.0 1022.8 L477.0 1016.2 L478.0 1009.8 L479.0 1003.7 L480.0 997.9 L481.0 992.4 L482.0 987.5 L483.0 983.1 L484.0 979.2 L485.0 976.0 L486.0 973.4 L487.0 971.5 L488.0 970.4 L489.0 970.0 L490.0 970.3 L491.0 971.4 L492.0 973.1 L493.0 975.6 L494.0 978.8 L495.0 982.6 L496.0 986.9 L497.0 991.8 L498.0 997.1 L499.0 1002.8 L500.0 1008.9 L501.0 1015.2 L502.0 1021.7 L503.0 1028.3 L504.0 1035.0 L505.0 1041.7 L506.0 1048.4 L507.0 1054.9 L508.0 1061.3 L509.0 1067.5 L510.0 1073.4 L511.0 1079.1 L512.0 1084.5 L513.0 1089.5 L514.0 1094.3 L515.0 1098.7 L516.0 1102.8 L517.0 1106.5 L518.0 1110.0 L519.0 1113.1 L520.0 1115.9 L521.0 1118.5 L522.0 1120.7 L523.0 1122.7 L524.0 1124.5 L525.0 1126.1 L526.0 1127.4 L527.0 1128.6 L528.0 1129.6 L529.0 1130.5 L530.0 1131.3 L531.0 1131.9 L532.0 1132.4 L533.0 1132.9 L534.0 1133.2 L535.0 1133.5 L536.0 1133.8 L537.0 1134.0 L538.0 1134.1 L539.0 1134.2 L540.0 1134.3 L541.0 1134.4 L542.0 1134.4 L543.0 1134.4 L544.0 1134.5 L545.0 1134.5 L546.0 1134.4 L547.0 1134.4 L548.0 1134.4 L549.0 1134.4 L550.0 1134.4 L551.0 1134.3 L552.0 1134.3 L553.0 1134.3 L554.0 1134.2 L555.0 1134.2 L556.0 1134.1 L557.0 1134.1 L558.0 1134.1 L559.0 1134.0 L560.0 1134.0 L561.0 1133.9 L562.0 1133.9 L563.0 1133.9 L564.0 1133.8 L565.0 1133.8 L566.0 1133.7 L567.0 1133.7 L568.0 1133.6 L569.0 1133.6 L570.0 1133.6 L571.0 1133.5 L572.0 1133.5 L573.0 1133.4 L574.0 1133.4 L575.0 1133.4 L576.0 1133.3 L577.0 1133.3 L578.0 1133.2 L579.0 1133.2 L580.0 1133.1 L581.0 1133.1 L582.0 1133.1 L583.0 1133.0 L584.0 1133.0 L585.0 1132.9 L586.0 1132.9 L587.0 1132.8 L588.0 1132.8 L589.0 1132.8 L590.0 1132.7 L591.0 1132.7 L592.0 1132.6 L593.0 1132.6 L594.0 1132.6 L595.0 1132.5 L596.0 1132.5 L597.0 1132.4 L598.0 1132.4 L599.0 1132.3 L600.0 1132.3 L601.0 1132.3 L602.0 1132.2 L603.0 1132.2 L604.0 1132.1 L605.0 1132.1 L606.0 1132.1 L607.0 1132.0 L608.0 1132.0 L609.0 1131.9 L610.0 1131.9 L611.0 1131.8 L612.0 1131.8 L613.0 1131.8 L614.0 1131.7 L615.0 1131.7 L616.0 1131.6 L617.0 1131.6 L618.0 1131.5 L619.0 1131.5 L620.0 1131.5 L621.0 1131.4 L622.0 1131.4 L623.0 1131.3 L624.0 1131.3 L625.0 1131.3 L626.0 1131.2 L627.0 1131.2 L628.0 1131.1 L629.0 1131.1 L630.0 1131.0 L631.0 1131.0" fill="none" stroke="#c43a4a" stroke-width="2.0" stroke-linejoin="round" opacity="1.0" />
<path d="M393.0 1141.0 L394.0 1141.0 L395.0 1140.9 L396.0 1140.9 L397.0 1140.8 L398.0 1140.8 L399.0 1140.7 L400.0 1140.7 L401.0 1140.7 L402.0 1140.6 L403.0 1140.6 L404.0 1140.5 L405.0 1140.5 L406.0 1140.5 L407.0 1140.4 L408.0 1140.4 L409.0 1140.3 L410.0 1140.3 L411.0 1140.2 L412.0 1140.2 L413.0 1140.2 L414.0 1140.1 L415.0 1140.1 L416.0 1140.0 L417.0 1140.0 L418.0 1139.9 L419.0 1139.9 L420.0 1139.9 L421.0 1139.8 L422.0 1139.8 L423.0 1139.7 L424.0 1139.7 L425.0 1139.6 L426.0 1139.6 L427.0 1139.5 L428.0 1139.5 L429.0 1139.4 L430.0 1139.4 L431.0 1139.3 L432.0 1139.2 L433.0 1139.2 L434.0 1139.1 L435.0 1139.0 L436.0 1138.9 L437.0 1138.7 L438.0 1138.6 L439.0 1138.4 L440.0 1138.2 L441.0 1138.0 L442.0 1137.7 L443.0 1137.4 L444.0 1137.0 L445.0 1136.6 L446.0 1136.0 L447.0 1135.4 L448.0 1134.7 L449.0 1133.9 L450.0 1132.9 L451.0 1131.8 L452.0 1130.6 L453.0 1129.1 L454.0 1127.5 L455.0 1125.6 L456.0 1123.5 L457.0 1121.2 L458.0 1118.5 L459.0 1115.6 L460.0 1112.4 L461.0 1108.9 L462.0 1105.1 L463.0 1100.9 L464.0 1096.4 L465.0 1091.5 L466.0 1086.4 L467.0 1080.9 L468.0 1075.2 L469.0 1069.2 L470.0 1062.9 L471.0 1056.4 L472.0 1049.8 L473.0 1043.1 L474.0 1036.3 L475.0 1029.5 L476.0 1022.8 L477.0 1016.2 L478.0 1009.8 L479.0 1003.7 L480.0 997.9 L481.0 992.4 L482.0 987.5 L483.0 983.1 L484.0 979.2 L485.0 976.0 L486.0 973.4 L487.0 971.5 L488.0 970.4 L489.0 970.0 L490.0 970.3 L491.0 971.4 L492.0 973.1 L493.0 975.6 L494.0 978.8 L495.0 982.6 L496.0 986.9 L497.0 991.8 L498.0 997.1 L499.0 1002.8 L500.0 1008.9 L501.0 1015.2 L502.0 1021.7 L503.0 1028.3 L504.0 1035.0 L505.0 1041.7 L506.0 1048.4 L507.0 1054.9 L508.0 1061.3 L509.0 1067.5 L510.0 1073.4 L511.0 1079.1 L512.0 1084.5 L513.0 1089.5 L514.0 1094.3 L515.0 1098.7 L516.0 1102.8 L517.0 1106.5 L518.0 1110.0 L519.0 1113.1 L520.0 1115.9 L521.0 1118.5 L522.0 1120.7 L523.0 1122.7 L524.0 1124.5 L525.0 1126.1 L526.0 1127.4 L527.0 1128.6 L528.0 1129.6 L529.0 1130.5 L530.0 1131.3 L531.0 1131.9 L532.0 1132.4 L533.0 1132.9 L534.0 1133.2 L535.0 1133.5 L536.0 1133.8 L537.0 1134.0 L538.0 1134.1 L539.0 1134.2 L540.0 1134.3 L541.0 1134.4 L542.0 1134.4 L543.0 1134.4 L544.0 1134.5 L545.0 1134.5 L546.0 1134.4 L547.0 1134.4 L548.0 1134.4 L549.0 1134.4 L550.0 1134.4 L551.0 1134.3 L552.0 1134.3 L553.0 1134.3 L554.0 1134.2 L555.0 1134.2 L556.0 1134.1 L557.0 1134.1 L558.0 1134.1 L559.0 1134.0 L560.0 1134.0 L561.0 1133.9 L562.0 1133.9 L563.0 1133.9 L564.0 1133.8 L565.0 1133.8 L566.0 1133.7 L567.0 1133.7 L568.0 1133.6 L569.0 1133.6 L570.0 1133.6 L571.0 1133.5 L572.0 1133.5 L573.0 1133.4 L574.0 1133.4 L575.0 1133.4 L576.0 1133.3 L577.0 1133.3 L578.0 1133.2 L579.0 1133.2 L580.0 1133.1 L581.0 1133.1 L582.0 1133.1 L583.0 1133.0 L584.0 1133.0 L585.0 1132.9 L586.0 1132.9 L587.0 1132.8 L588.0 1132.8 L589.0 1132.8 L590.0 1132.7 L591.0 1132.7 L592.0 1132.6 L593.0 1132.6 L594.0 1132.6 L595.0 1132.5 L596.0 1132.5 L597.0 1132.4 L598.0 1132.4 L599.0 1132.3 L600.0 1132.3 L601.0 1132.3 L602.0 1132.2 L603.0 1132.2 L604.0 1132.1 L605.0 1132.1 L606.0 1132.1 L607.0 1132.0 L608.0 1132.0 L609.0 1131.9 L610.0 1131.9 L611.0 1131.8 L612.0 1131.8 L613.0 1131.8 L614.0 1131.7 L615.0 1131.7 L616.0 1131.6 L617.0 1131.6 L618.0 1131.5 L619.0 1131.5 L620.0 1131.5 L621.0 1131.4 L622.0 1131.4 L623.0 1131.3 L624.0 1131.3 L625.0 1131.3 L626.0 1131.2 L627.0 1131.2 L628.0 1131.1 L629.0 1131.1 L630.0 1131.0 L631.0 1131.0" fill="none" stroke="#403480" stroke-width="2.2" stroke-linejoin="round" opacity="1.0" />
<path d="M691.0 193.0 L944.0 193.0" fill="none" stroke="#6cc46c" stroke-width="1.6" stroke-linejoin="round" opacity="1.0" />
<path d="M691.0 193.0 L944.0 193.0" fill="none" stroke="#62c8de" stroke-width="1.6" stroke-linejoin="round" opacity="1.0" />
<path d="M691.0 199.2 L692.5 197.5 L694.0 195.1 L695.5 201.3 L697.0 197.1 L698.5 198.9 L700.0 197.6 L701.5 201.7 L703.0 198.3 L704.5 200.4 L706.0 195.5 L707.5 196.9 L709.0 194.8 L710.5 197.6 L712.0 191.6 L713.5 202.6 L715.0 194.5 L716.5 198.2 L718.0 198.7 L719.5 195.2 L721.0 198.2 L722.5 198.3 L724.0 191.9 L725.5 202.1 L727.0 194.3 L728.5 199.0 L730.0 192.7 L731.5 196.2 L733.0 200.9 L734.5 193.0 L736.0 196.3 L737.5 197.2 L739.0 199.2 L740.5 190.1 L742.0 200.7 L743.5 192.6 L745.0 197.4 L746.5 189.5 L748.0 195.2 L749.5 195.2 L751.0 189.3 L752.5 188.5 L754.0 187.2 L755.5 185.1 L757.0 185.0 L758.5 180.9 L760.0 177.6 L761.5 174.9 L763.0 168.5 L764.5 163.8 L766.0 160.1 L767.5 150.4 L769.0 145.9 L770.5 135.3 L772.0 127.5 L773.5 118.4 L775.0 107.6 L776.5 98.4 L778.0 89.0 L779.5 79.3 L781.0 71.4 L782.5 63.8 L784.0 53.9 L785.5 49.2 L787.0 45.3 L788.5 41.4 L790.0 40.1 L791.5 37.9 L793.0 40.7 L794.5 41.8 L796.0 44.4 L797.5 50.6 L799.0 50.7 L800.5 55.1 L802.0 54.8 L803.5 57.7 L805.0 62.4 L806.5 64.0 L808.0 65.6 L809.5 67.5 L811.0 69.6 L812.5 75.6 L814.0 78.5 L815.5 82.2 L817.0 86.1 L818.5 92.7 L820.0 97.6 L821.5 105.1 L823.0 109.2 L824.5 116.2 L826.0 123.4 L827.5 129.6 L829.0 137.3 L830.5 143.7 L832.0 148.6 L833.5 154.1 L835.0 161.8 L836.5 165.2 L838.0 171.0 L839.5 172.5 L841.0 178.6 L842.5 180.7 L844.0 183.4 L845.5 186.7 L847.0 187.7 L848.5 190.2 L850.0 194.0 L851.5 194.3 L853.0 195.4 L854.5 194.1 L856.0 195.2 L857.5 196.9 L859.0 196.7 L860.5 195.3 L862.0 200.2 L863.5 200.9 L865.0 198.3 L866.5 198.8 L868.0 204.3 L869.5 199.8 L871.0 200.5 L872.5 204.2 L874.0 200.0 L875.5 207.0 L877.0 202.5 L878.5 206.5 L880.0 208.3 L881.5 208.1 L883.0 205.5 L884.5 201.4 L886.0 208.3 L887.5 204.2 L889.0 211.9 L890.5 211.2 L892.0 209.7 L893.5 210.7 L895.0 210.6 L896.5 211.6 L898.0 208.9 L899.5 213.9 L901.0 208.8 L902.5 208.3 L904.0 211.3 L905.5 213.8 L907.0 207.6 L908.5 205.4 L910.0 213.9 L911.5 207.4 L913.0 210.4 L914.5 206.1 L916.0 210.0 L917.5 211.0 L919.0 204.1 L920.5 210.1 L922.0 206.5 L923.5 204.4 L925.0 207.7 L926.5 207.2 L928.0 203.3 L929.5 210.0 L931.0 200.9 L932.5 210.3 L934.0 204.9 L935.5 205.2 L937.0 200.0 L938.5 199.3 L940.0 192.9 L941.5 198.5 L943.0 193.2" fill="none" stroke="#303030" stroke-width="1.6" stroke-linejoin="round" opacity="1.0" />
<path d="M691.0 193.0 L692.0 193.0 L693.0 193.0 L694.0 193.0 L695.0 193.0 L696.0 193.0 L697.0 193.0 L698.0 193.0 L699.0 193.0 L700.0 193.0 L701.0 193.0 L702.0 193.0 L703.0 193.0 L704.0 193.0 L705.0 193.0 L706.0 193.0 L707.0 193.0 L708.0 193.0 L709.0 193.0 L710.0 193.0 L711.0 193.0 L712.0 193.0 L713.0 193.0 L714.0 193.0 L715.0 193.0 L716.0 193.0 L717.0 193.0 L718.0 193.0 L719.0 193.0 L720.0 193.0 L721.0 193.0 L722.0 193.0 L723.0 193.0 L724.0 193.0 L725.0 193.0 L726.0 193.0 L727.0 193.0 L728.0 193.0 L729.0 193.0 L730.0 193.0 L731.0 193.0 L732.0 193.0 L733.0 193.0 L734.0 192.9 L735.0 192.9 L736.0 192.9 L737.0 192.9 L738.0 192.8 L739.0 192.8 L740.0 192.7 L741.0 192.7 L742.0 192.6 L743.0 192.5 L744.0 192.3 L745.0 192.1 L746.0 191.9 L747.0 191.7 L748.0 191.3 L749.0 190.9 L750.0 190.5 L751.0 189.9 L752.0 189.2 L753.0 188.4 L754.0 187.5 L755.0 186.4 L756.0 185.1 L757.0 183.7 L758.0 182.0 L759.0 180.1 L760.0 177.9 L761.0 175.4 L762.0 172.7 L763.0 169.6 L764.0 166.3 L765.0 162.5 L766.0 158.5 L767.0 154.1 L768.0 149.4 L769.0 144.3 L770.0 138.9 L771.0 133.3 L772.0 127.3 L773.0 121.2 L774.0 114.9 L775.0 108.5 L776.0 102.0 L777.0 95.4 L778.0 89.0 L779.0 82.7 L780.0 76.5 L781.0 70.7 L782.0 65.1 L783.0 60.0 L784.0 55.3 L785.0 51.2 L786.0 47.6 L787.0 44.6 L788.0 42.2 L789.0 40.4 L790.0 39.3 L791.0 38.8 L792.0 39.0 L793.0 39.8 L794.0 41.3 L795.0 43.2 L796.0 45.6 L797.0 48.3 L798.0 51.2 L799.0 54.3 L800.0 57.4 L801.0 60.5 L802.0 63.5 L803.0 66.4 L804.0 69.0 L805.0 71.3 L806.0 73.5 L807.0 75.3 L808.0 76.9 L809.0 78.4 L810.0 79.7 L811.0 80.9 L812.0 82.2 L813.0 83.5 L814.0 84.9 L815.0 86.6 L816.0 88.5 L817.0 90.7 L818.0 93.3 L819.0 96.2 L820.0 99.4 L821.0 102.8 L822.0 106.5 L823.0 110.5 L824.0 114.7 L825.0 119.1 L826.0 123.6 L827.0 128.3 L828.0 132.9 L829.0 137.6 L830.0 142.3 L831.0 146.8 L832.0 151.2 L833.0 155.5 L834.0 159.5 L835.0 163.3 L836.0 166.8 L837.0 170.1 L838.0 173.1 L839.0 175.8 L840.0 178.3 L841.0 180.4 L842.0 182.4 L843.0 184.1 L844.0 185.6 L845.0 186.8 L846.0 187.9 L847.0 188.8 L848.0 189.6 L849.0 190.3 L850.0 190.8 L851.0 191.3 L852.0 191.6 L853.0 191.9 L854.0 192.2 L855.0 192.4 L856.0 192.5 L857.0 192.6 L858.0 192.7 L859.0 192.8 L860.0 192.8 L861.0 192.9 L862.0 192.9 L863.0 192.9 L864.0 193.0 L865.0 193.0 L866.0 193.0 L867.0 193.0 L868.0 193.0 L869.0 193.0 L870.0 193.0 L871.0 193.0 L872.0 193.0 L873.0 193.0 L874.0 193.0 L875.0 193.0 L876.0 193.0 L877.0 193.0 L878.0 193.0 L879.0 193.0 L880.0 193.0 L881.0 193.0 L882.0 193.0 L883.0 193.0 L884.0 193.0 L885.0 193.0 L886.0 193.0 L887.0 193.0 L888.0 193.0 L889.0 193.0 L890.0 193.0 L891.0 193.0 L892.0 193.0 L893.0 193.0 L894.0 193.0 L895.0 193.0 L896.0 193.0 L897.0 193.0 L898.0 193.0 L899.0 193.0 L900.0 193.0 L901.0 193.0 L902.0 193.0 L903.0 193.0 L904.0 193.0 L905.0 193.0 L906.0 193.0 L907.0 193.0 L908.0 193.0 L909.0 193.0 L910.0 193.0 L911.0 193.0 L912.0 193.0 L913.0 193.0 L914.0 193.0 L915.0 193.0 L916.0 193.0 L917.0 193.0 L918.0 193.0 L919.0 193.0 L920.0 193.0 L921.0 193.0 L922.0 193.0 L923.0 193.0 L924.0 193.0 L925.0 193.0 L926.0 193.0 L927.0 193.0 L928.0 193.0 L929.0 193.0 L930.0 193.0 L931.0 193.0 L932.0 193.0 L933.0 193.0 L934.0 193.0 L935.0 193.0 L936.0 193.0 L937.0 193.0 L938.0 193.0 L939.0 193.0 L940.0 193.0 L941.0 193.0 L942.0 193.0 L943.0 193.0 L944.0 193.0" fill="none" stroke="#c43a4a" stroke-width="2.0" stroke-linejoin="round" opacity="1.0" />
<path d="M691.0 193.0 L692.0 193.0 L693.0 193.0 L694.0 193.0 L695.0 193.0 L696.0 193.0 L697.0 193.0 L698.0 193.0 L699.0 193.0 L700.0 193.0 L701.0 193.0 L702.0 193.0 L703.0 193.0 L704.0 193.0 L705.0 193.0 L706.0 193.0 L707.0 193.0 L708.0 193.0 L709.0 193.0 L710.0 193.0 L711.0 193.0 L712.0 193.0 L713.0 193.0 L714.0 193.0 L715.0 193.0 L716.0 193.0 L717.0 193.0 L718.0 193.0 L719.0 193.0 L720.0 193.0 L721.0 193.0 L722.0 193.0 L723.0 193.0 L724.0 193.0 L725.0 193.0 L726.0 193.0 L727.0 193.0 L728.0 193.0 L729.0 193.0 L730.0 193.0 L731.0 193.0 L732.0 193.0 L733.0 193.0 L734.0 192.9 L735.0 192.9 L736.0 192.9 L737.0 192.9 L738.0 192.8 L739.0 192.8 L740.0 192.7 L741.0 192.7 L742.0 192.6 L743.0 192.5 L744.0 192.3 L745.0 192.1 L746.0 191.9 L747.0 191.7 L748.0 191.3 L749.0 190.9 L750.0 190.5 L751.0 189.9 L752.0 189.2 L753.0 188.4 L754.0 187.5 L755.0 186.4 L756.0 185.1 L757.0 183.7 L758.0 182.0 L759.0 180.1 L760.0 177.9 L761.0 175.4 L762.0 172.7 L763.0 169.6 L764.0 166.3 L765.0 162.5 L766.0 158.5 L767.0 154.1 L768.0 149.4 L769.0 144.3 L770.0 138.9 L771.0 133.3 L772.0 127.4 L773.0 121.2 L774.0 114.9 L775.0 108.5 L776.0 102.0 L777.0 95.5 L778.0 89.1 L779.0 82.8 L780.0 76.8 L781.0 71.0 L782.0 65.6 L783.0 60.6 L784.0 56.2 L785.0 52.3 L786.0 49.0 L787.0 46.4 L788.0 44.5 L789.0 43.4 L790.0 43.0 L791.0 43.4 L792.0 44.8 L793.0 46.9 L794.0 49.9 L795.0 53.7 L796.0 58.2 L797.0 63.2 L798.0 68.9 L799.0 75.0 L800.0 81.4 L801.0 88.1 L802.0 95.0 L803.0 102.0 L804.0 109.0 L805.0 115.9 L806.0 122.7 L807.0 129.2 L808.0 135.5 L809.0 141.4 L810.0 147.1 L811.0 152.3 L812.0 157.2 L813.0 161.6 L814.0 165.7 L815.0 169.4 L816.0 172.7 L817.0 175.6 L818.0 178.3 L819.0 180.5 L820.0 182.5 L821.0 184.3 L822.0 185.7 L823.0 187.0 L824.0 188.1 L825.0 189.0 L826.0 189.8 L827.0 190.4 L828.0 190.9 L829.0 191.3 L830.0 191.7 L831.0 192.0 L832.0 192.2 L833.0 192.4 L834.0 192.5 L835.0 192.6 L836.0 192.7 L837.0 192.8 L838.0 192.8 L839.0 192.9 L840.0 192.9 L841.0 192.9 L842.0 192.9 L843.0 193.0 L844.0 193.0 L845.0 193.0 L846.0 193.0 L847.0 193.0 L848.0 193.0 L849.0 193.0 L850.0 193.0 L851.0 193.0 L852.0 193.0 L853.0 193.0 L854.0 193.0 L855.0 193.0 L856.0 193.0 L857.0 193.0 L858.0 193.0 L859.0 193.0 L860.0 193.0 L861.0 193.0 L862.0 193.0 L863.0 193.0 L864.0 193.0 L865.0 193.0 L866.0 193.0 L867.0 193.0 L868.0 193.0 L869.0 193.0 L870.0 193.0 L871.0 193.0 L872.0 193.0 L873.0 193.0 L874.0 193.0 L875.0 193.0 L876.0 193.0 L877.0 193.0 L878.0 193.0 L879.0 193.0 L880.0 193.0 L881.0 193.0 L882.0 193.0 L883.0 193.0 L884.0 193.0 L885.0 193.0 L886.0 193.0 L887.0 193.0 L888.0 193.0 L889.0 193.0 L890.0 193.0 L891.0 193.0 L892.0 193.0 L893.0 193.0 L894.0 193.0 L895.0 193.0 L896.0 193.0 L897.0 193.0 L898.0 193.0 L899.0 193.0 L900.0 193.0 L901.0 193.0 L902.0 193.0 L903.0 193.0 L904.0 193.0 L905.0 193.0 L906.0 193.0 L907.0 193.0 L908.0 193.0 L909.0 193.0 L910.0 193.0 L911.0 193.0 L912.0 193.0 L913.0 193.0 L914.0 193.0 L915.0 193.0 L916.0 193.0 L917.0 193.0 L918.0 193.0 L919.0 193.0 L920.0 193.0 L921.0 193.0 L922.0 193.0 L923.0 193.0 L924.0 193.0 L925.0 193.0 L926.0 193.0 L927.0 193.0 L928.0 193.0 L929.0 193.0 L930.0 193.0 L931.0 193.0 L932.0 193.0 L933.0 193.0 L934.0 193.0 L935.0 193.0 L936.0 193.0 L937.0 193.0 L938.0 193.0 L939.0 193.0 L940.0 193.0 L941.0 193.0 L942.0 193.0 L943.0 193.0 L944.0 193.0" fill="none" stroke="#403480" stroke-width="2.2" stroke-linejoin="round" opacity="1.0" />
<path d="M691.0 193.0 L692.0 193.0 L693.0 193.0 L694.0 193.0 L695.0 193.0 L696.0 193.0 L697.0 193.0 L698.0 193.0 L699.0 193.0 L700.0 193.0 L701.0 193.0 L702.0 193.0 L703.0 193.0 L704.0 193.0 L705.0 193.0 L706.0 193.0 L707.0 193.0 L708.0 193.0 L709.0 193.0 L710.0 193.0 L711.0 193.0 L712.0 193.0 L713.0 193.0 L714.0 193.0 L715.0 193.0 L716.0 193.0 L717.0 193.0 L718.0 193.0 L719.0 193.0 L720.0 193.0 L721.0 193.0 L722.0 193.0 L723.0 193.0 L724.0 193.0 L725.0 193.0 L726.0 193.0 L727.0 193.0 L728.0 193.0 L729.0 193.0 L730.0 193.0 L731.0 193.0 L732.0 193.0 L733.0 193.0 L734.0 193.0 L735.0 193.0 L736.0 193.0 L737.0 193.0 L738.0 193.0 L739.0 193.0 L740.0 193.0 L741.0 193.0 L742.0 193.0 L743.0 193.0 L744.0 193.0 L745.0 193.0 L746.0 193.0 L747.0 193.0 L748.0 193.0 L749.0 193.0 L750.0 193.0 L751.0 193.0 L752.0 193.0 L753.0 193.0 L754.0 193.0 L755.0 193.0 L756.0 193.0 L757.0 193.0 L758.0 193.0 L759.0 193.0 L760.0 193.0 L761.0 193.0 L762.0 193.0 L763.0 193.0 L764.0 193.0 L765.0 193.0 L766.0 193.0 L767.0 193.0 L768.0 193.0 L769.0 193.0 L770.0 193.0 L771.0 193.0 L772.0 193.0 L773.0 193.0 L774.0 193.0 L775.0 193.0 L776.0 192.9 L777.0 192.9 L778.0 192.9 L779.0 192.8 L780.0 192.7 L781.0 192.7 L782.0 192.5 L783.0 192.4 L784.0 192.2 L785.0 191.9 L786.0 191.6 L787.0 191.2 L788.0 190.7 L789.0 190.0 L790.0 189.3 L791.0 188.3 L792.0 187.2 L793.0 185.9 L794.0 184.3 L795.0 182.5 L796.0 180.4 L797.0 178.0 L798.0 175.3 L799.0 172.3 L800.0 169.0 L801.0 165.4 L802.0 161.5 L803.0 157.3 L804.0 153.0 L805.0 148.4 L806.0 143.8 L807.0 139.1 L808.0 134.5 L809.0 129.9 L810.0 125.6 L811.0 121.6 L812.0 118.0 L813.0 114.8 L814.0 112.2 L815.0 110.2 L816.0 108.8 L817.0 108.1 L818.0 108.1 L819.0 108.7 L820.0 109.8 L821.0 111.5 L822.0 113.8 L823.0 116.5 L824.0 119.6 L825.0 123.1 L826.0 126.9 L827.0 130.9 L828.0 135.0 L829.0 139.3 L830.0 143.6 L831.0 147.9 L832.0 152.0 L833.0 156.1 L834.0 160.0 L835.0 163.7 L836.0 167.1 L837.0 170.3 L838.0 173.2 L839.0 175.9 L840.0 178.3 L841.0 180.5 L842.0 182.4 L843.0 184.1 L844.0 185.6 L845.0 186.8 L846.0 187.9 L847.0 188.9 L848.0 189.6 L849.0 190.3 L850.0 190.8 L851.0 191.3 L852.0 191.6 L853.0 191.9 L854.0 192.2 L855.0 192.4 L856.0 192.5 L857.0 192.6 L858.0 192.7 L859.0 192.8 L860.0 192.8 L861.0 192.9 L862.0 192.9 L863.0 192.9 L864.0 193.0 L865.0 193.0 L866.0 193.0 L867.0 193.0 L868.0 193.0 L869.0 193.0 L870.0 193.0 L871.0 193.0 L872.0 193.0 L873.0 193.0 L874.0 193.0 L875.0 193.0 L876.0 193.0 L877.0 193.0 L878.0 193.0 L879.0 193.0 L880.0 193.0 L881.0 193.0 L882.0 193.0 L883.0 193.0 L884.0 193.0 L885.0 193.0 L886.0 193.0 L887.0 193.0 L888.0 193.0 L889.0 193.0 L890.0 193.0 L891.0 193.0 L892.0 193.0 L893.0 193.0 L894.0 193.0 L895.0 193.0 L896.0 193.0 L897.0 193.0 L898.0 193.0 L899.0 193.0 L900.0 193.0 L901.0 193.0 L902.0 193.0 L903.0 193.0 L904.0 193.0 L905.0 193.0 L906.0 193.0 L907.0 193.0 L908.0 193.0 L909.0 193.0 L910.0 193.0 L911.0 193.0 L912.0 193.0 L913.0 193.0 L914.0 193.0 L915.0 193.0 L916.0 193.0 L917.0 193.0 L918.0 193.0 L919.0 193.0 L920.0 193.0 L921.0 193.0 L922.0 193.0 L923.0 193.0 L924.0 193.0 L925.0 193.0 L926.0 193.0 L927.0 193.0 L928.0 193.0 L929.0 193.0 L930.0 193.0 L931.0 193.0 L932.0 193.0 L933.0 193.0 L934.0 193.0 L935.0 193.0 L936.0 193.0 L937.0 193.0 L938.0 193.0 L939.0 193.0 L940.0 193.0 L941.0 193.0 L942.0 193.0 L943.0 193.0 L944.0 193.0" fill="none" stroke="#62c8de" stroke-width="2.2" stroke-linejoin="round" opacity="1.0" />
<path d="M707.0 461.0 L922.0 457.0" fill="none" stroke="#6cc46c" stroke-width="1.6" stroke-linejoin="round" opacity="1.0" />
<path d="M840.0 458.5 L922.0 457.0" fill="none" stroke="#4a4cb0" stroke-width="1.6" stroke-linejoin="round" opacity="1.0" />
<path d="M707.0 459.8 L708.5 457.3 L710.0 453.6 L711.5 466.8 L713.0 447.0 L714.5 461.6 L716.0 459.3 L717.5 459.0 L719.0 458.9 L720.5 451.3 L722.0 466.6 L723.5 449.2 L725.0 459.6 L726.5 455.6 L728.0 457.1 L729.5 454.0 L731.0 464.8 L732.5 453.6 L734.0 462.3 L735.5 446.9 L737.0 463.0 L738.5 452.7 L740.0 459.6 L741.5 455.8 L743.0 458.2 L744.5 454.5 L746.0 456.4 L747.5 455.5 L749.0 455.8 L750.5 454.4 L752.0 452.8 L753.5 457.0 L755.0 448.9 L756.5 463.0 L758.0 451.7 L759.5 458.4 L761.0 445.8 L762.5 442.5 L764.0 439.4 L765.5 438.6 L767.0 434.1 L768.5 430.2 L770.0 424.7 L771.5 420.6 L773.0 408.6 L774.5 409.3 L776.0 394.9 L777.5 390.6 L779.0 376.8 L780.5 373.0 L782.0 356.5 L783.5 351.1 L785.0 337.5 L786.5 328.7 L788.0 320.4 L789.5 314.0 L791.0 308.1 L792.5 306.0 L794.0 300.7 L795.5 300.5 L797.0 303.6 L798.5 297.9 L800.0 299.0 L801.5 298.1 L803.0 301.4 L804.5 309.3 L806.0 313.1 L807.5 314.7 L809.0 321.4 L810.5 328.9 L812.0 335.6 L813.5 344.0 L815.0 348.7 L816.5 356.1 L818.0 366.0 L819.5 369.4 L821.0 377.4 L822.5 384.8 L824.0 393.0 L825.5 398.8 L827.0 406.1 L828.5 411.6 L830.0 421.0 L831.5 421.1 L833.0 423.1 L834.5 429.7 L836.0 435.4 L837.5 436.2 L839.0 445.0 L840.5 440.9 L842.0 446.3 L843.5 448.0 L845.0 449.2 L846.5 452.6 L848.0 451.0 L849.5 455.0 L851.0 451.8 L852.5 447.7 L854.0 463.1 L855.5 463.5 L857.0 452.9 L858.5 460.3 L860.0 464.8 L861.5 458.1 L863.0 464.7 L864.5 461.5 L866.0 467.6 L867.5 462.7 L869.0 475.3 L870.5 462.2 L872.0 466.9 L873.5 460.4 L875.0 471.0 L876.5 462.8 L878.0 474.2 L879.5 470.1 L881.0 479.7 L882.5 461.5 L884.0 474.1 L885.5 473.5 L887.0 460.4 L888.5 477.7 L890.0 476.2 L891.5 468.8 L893.0 471.5 L894.5 476.4 L896.0 470.2 L897.5 472.9 L899.0 474.6 L900.5 466.3 L902.0 480.2 L903.5 463.6 L905.0 471.0 L906.5 465.1 L908.0 457.1 L909.5 463.0 L911.0 464.9 L912.5 464.6 L914.0 469.0 L915.5 472.6 L917.0 460.7 L918.5 459.9 L920.0 455.9 L921.5 465.1" fill="none" stroke="#303030" stroke-width="1.6" stroke-linejoin="round" opacity="1.0" />
<path d="M707.0 461.0 L708.0 461.0 L709.0 461.0 L710.0 460.9 L711.0 460.9 L712.0 460.9 L713.0 460.9 L714.0 460.9 L715.0 460.9 L716.0 460.8 L717.0 460.8 L718.0 460.8 L719.0 460.8 L720.0 460.8 L721.0 460.7 L722.0 460.7 L723.0 460.7 L724.0 460.7 L725.0 460.7 L726.0 460.6 L727.0 460.6 L728.0 460.6 L729.0 460.6 L730.0 460.6 L731.0 460.5 L732.0 460.5 L733.0 460.5 L734.0 460.4 L735.0 460.4 L736.0 460.4 L737.0 460.3 L738.0 460.3 L739.0 460.2 L740.0 460.2 L741.0 460.1 L742.0 460.0 L743.0 459.9 L744.0 459.8 L745.0 459.6 L746.0 459.5 L747.0 459.3 L748.0 459.0 L749.0 458.7 L750.0 458.4 L751.0 458.0 L752.0 457.6 L753.0 457.1 L754.0 456.5 L755.0 455.8 L756.0 455.0 L757.0 454.1 L758.0 453.0 L759.0 451.8 L760.0 450.5 L761.0 449.0 L762.0 447.2 L763.0 445.3 L764.0 443.2 L765.0 440.8 L766.0 438.2 L767.0 435.4 L768.0 432.3 L769.0 428.9 L770.0 425.2 L771.0 421.3 L772.0 417.1 L773.0 412.6 L774.0 407.8 L775.0 402.8 L776.0 397.5 L777.0 392.1 L778.0 386.4 L779.0 380.6 L780.0 374.7 L781.0 368.6 L782.0 362.6 L783.0 356.5 L784.0 350.5 L785.0 344.5 L786.0 338.8 L787.0 333.2 L788.0 327.9 L789.0 322.9 L790.0 318.3 L791.0 314.0 L792.0 310.3 L793.0 307.0 L794.0 304.3 L795.0 302.2 L796.0 300.6 L797.0 299.6 L798.0 299.3 L799.0 299.5 L800.0 300.1 L801.0 301.1 L802.0 302.6 L803.0 304.4 L804.0 306.6 L805.0 309.2 L806.0 312.1 L807.0 315.3 L808.0 318.8 L809.0 322.6 L810.0 326.7 L811.0 330.9 L812.0 335.4 L813.0 340.0 L814.0 344.7 L815.0 349.6 L816.0 354.5 L817.0 359.4 L818.0 364.4 L819.0 369.3 L820.0 374.2 L821.0 379.1 L822.0 383.8 L823.0 388.5 L824.0 393.0 L825.0 397.5 L826.0 401.7 L827.0 405.8 L828.0 409.8 L829.0 413.5 L830.0 417.1 L831.0 420.5 L832.0 423.7 L833.0 426.7 L834.0 429.5 L835.0 432.2 L836.0 434.6 L837.0 436.9 L838.0 439.0 L839.0 441.0 L840.0 442.8 L841.0 444.4 L842.0 445.9 L843.0 447.3 L844.0 448.5 L845.0 449.7 L846.0 450.7 L847.0 451.6 L848.0 452.4 L849.0 453.1 L850.0 453.8 L851.0 454.3 L852.0 454.8 L853.0 455.3 L854.0 455.7 L855.0 456.0 L856.0 456.3 L857.0 456.6 L858.0 456.8 L859.0 457.0 L860.0 457.1 L861.0 457.3 L862.0 457.4 L863.0 457.5 L864.0 457.6 L865.0 457.6 L866.0 457.7 L867.0 457.7 L868.0 457.8 L869.0 457.8 L870.0 457.8 L871.0 457.8 L872.0 457.8 L873.0 457.8 L874.0 457.8 L875.0 457.8 L876.0 457.8 L877.0 457.8 L878.0 457.8 L879.0 457.8 L880.0 457.8 L881.0 457.7 L882.0 457.7 L883.0 457.7 L884.0 457.7 L885.0 457.7 L886.0 457.7 L887.0 457.6 L888.0 457.6 L889.0 457.6 L890.0 457.6 L891.0 457.6 L892.0 457.6 L893.0 457.5 L894.0 457.5 L895.0 457.5 L896.0 457.5 L897.0 457.5 L898.0 457.4 L899.0 457.4 L900.0 457.4 L901.0 457.4 L902.0 457.4 L903.0 457.4 L904.0 457.3 L905.0 457.3 L906.0 457.3 L907.0 457.3 L908.0 457.3 L909.0 457.2 L910.0 457.2 L911.0 457.2 L912.0 457.2 L913.0 457.2 L914.0 457.1 L915.0 457.1 L916.0 457.1 L917.0 457.1 L918.0 457.1 L919.0 457.1 L920.0 457.0 L921.0 457.0 L922.0 457.0" fill="none" stroke="#c43a4a" stroke-width="2.0" stroke-linejoin="round" opacity="1.0" />
<path d="M707.0 461.0 L708.0 461.0 L709.0 461.0 L710.0 460.9 L711.0 460.9 L712.0 460.9 L713.0 460.9 L714.0 460.9 L715.0 460.9 L716.0 460.8 L717.0 460.8 L718.0 460.8 L719.0 460.8 L720.0 460.8 L721.0 460.7 L722.0 460.7 L723.0 460.7 L724.0 460.7 L725.0 460.7 L726.0 460.6 L727.0 460.6 L728.0 460.6 L729.0 460.6 L730.0 460.6 L731.0 460.5 L732.0 460.5 L733.0 460.5 L734.0 460.4 L735.0 460.4 L736.0 460.4 L737.0 460.3 L738.0 460.3 L739.0 460.2 L740.0 460.2 L741.0 460.1 L742.0 460.0 L743.0 459.9 L744.0 459.8 L745.0 459.6 L746.0 459.5 L747.0 459.3 L748.0 459.0 L749.0 458.7 L750.0 458.4 L751.0 458.0 L752.0 457.6 L753.0 457.1 L754.0 456.5 L755.0 455.8 L756.0 455.0 L757.0 454.1 L758.0 453.0 L759.0 451.8 L760.0 450.5 L761.0 449.0 L762.0 447.2 L763.0 445.3 L764.0 443.2 L765.0 440.8 L766.0 438.2 L767.0 435.4 L768.0 432.3 L769.0 428.9 L770.0 425.2 L771.0 421.3 L772.0 417.1 L773.0 412.6 L774.0 407.8 L775.0 402.8 L776.0 397.5 L777.0 392.1 L778.0 386.4 L779.0 380.6 L780.0 374.7 L781.0 368.6 L782.0 362.6 L783.0 356.5 L784.0 350.5 L785.0 344.5 L786.0 338.8 L787.0 333.2 L788.0 327.9 L789.0 322.9 L790.0 318.3 L791.0 314.0 L792.0 310.3 L793.0 307.0 L794.0 304.3 L795.0 302.2 L796.0 300.6 L797.0 299.6 L798.0 299.3 L799.0 299.5 L800.0 300.1 L801.0 301.1 L802.0 302.6 L803.0 304.4 L804.0 306.6 L805.0 309.2 L806.0 312.1 L807.0 315.3 L808.0 318.8 L809.0 322.6 L810.0 326.7 L811.0 330.9 L812.0 335.4 L813.0 340.0 L814.0 344.7 L815.0 349.6 L816.0 354.5 L817.0 359.4 L818.0 364.4 L819.0 369.3 L820.0 374.2 L821.0 379.1 L822.0 383.8 L823.0 388.5 L824.0 393.0 L825.0 397.5 L826.0 401.7 L827.0 405.8 L828.0 409.8 L829.0 413.5 L830.0 417.1 L831.0 420.5 L832.0 423.7 L833.0 426.7 L834.0 429.5 L835.0 432.2 L836.0 434.6 L837.0 436.9 L838.0 439.0 L839.0 441.0 L840.0 442.8 L841.0 444.4 L842.0 445.9 L843.0 447.3 L844.0 448.5 L845.0 449.7 L846.0 450.7 L847.0 451.6 L848.0 452.4 L849.0 453.1 L850.0 453.8 L851.0 454.3 L852.0 454.8 L853.0 455.3 L854.0 455.7 L855.0 456.0 L856.0 456.3 L857.0 456.6 L858.0 456.8 L859.0 457.0 L860.0 457.1 L861.0 457.3 L862.0 457.4 L863.0 457.5 L864.0 457.6 L865.0 457.6 L866.0 457.7 L867.0 457.7 L868.0 457.8 L869.0 457.8 L870.0 457.8 L871.0 457.8 L872.0 457.8 L873.0 457.8 L874.0 457.8 L875.0 457.8 L876.0 457.8 L877.0 457.8 L878.0 457.8 L879.0 457.8 L880.0 457.8 L881.0 457.7 L882.0 457.7 L883.0 457.7 L884.0 457.7 L885.0 457.7 L886.0 457.7 L887.0 457.6 L888.0 457.6 L889.0 457.6 L890.0 457.6 L891.0 457.6 L892.0 457.6 L893.0 457.5 L894.0 457.5 L895.0 457.5 L896.0 457.5 L897.0 457.5 L898.0 457.4 L899.0 457.4 L900.0 457.4 L901.0 457.4 L902.0 457.4 L903.0 457.4 L904.0 457.3 L905.0 457.3 L906.0 457.3 L907.0 457.3 L908.0 457.3 L909.0 457.2 L910.0 457.2 L911.0 457.2 L912.0 457.2 L913.0 457.2 L914.0 457.1 L915.0 457.1 L916.0 457.1 L917.0 457.1 L918.0 457.1 L919.0 457.1 L920.0 457.0 L921.0 457.0 L922.0 457.0" fill="none" stroke="#403480" stroke-width="2.2" stroke-linejoin="round" opacity="1.0" />
<path d="M672.0 700.0 L888.0 710.0" fill="none" stroke="#6cc46c" stroke-width="1.6" stroke-linejoin="round" opacity="1.0" />
<path d="M672.0 699.5 L673.5 703.7 L675.0 705.4 L676.5 701.1 L678.0 701.3 L679.5 699.5 L681.0 708.2 L682.5 701.7 L684.0 702.8 L685.5 701.4 L687.0 697.0 L688.5 707.7 L690.0 699.9 L691.5 706.2 L693.0 709.1 L694.5 701.6 L696.0 705.5 L697.5 707.8 L699.0 703.0 L700.5 706.2 L702.0 700.5 L703.5 703.7 L705.0 700.0 L706.5 710.7 L708.0 707.4 L709.5 702.8 L711.0 705.9 L712.5 703.8 L714.0 713.3 L715.5 705.0 L717.0 705.2 L718.5 707.9 L720.0 709.0 L721.5 700.3 L723.0 709.3 L724.5 705.4 L726.0 704.6 L727.5 707.2 L729.0 707.2 L730.5 702.4 L732.0 701.9 L733.5 705.3 L735.0 699.9 L736.5 701.4 L738.0 704.4 L739.5 695.8 L741.0 695.6 L742.5 689.6 L744.0 694.4 L745.5 689.9 L747.0 689.0 L748.5 685.9 L750.0 683.7 L751.5 679.9 L753.0 677.2 L754.5 674.6 L756.0 668.7 L757.5 665.4 L759.0 661.3 L760.5 659.0 L762.0 650.4 L763.5 649.5 L765.0 643.4 L766.5 639.5 L768.0 631.3 L769.5 628.8 L771.0 622.9 L772.5 618.0 L774.0 614.8 L775.5 609.4 L777.0 603.7 L778.5 601.2 L780.0 595.2 L781.5 597.1 L783.0 588.2 L784.5 586.8 L786.0 582.0 L787.5 582.9 L789.0 579.8 L790.5 577.2 L792.0 573.0 L793.5 573.1 L795.0 571.5 L796.5 573.0 L798.0 568.7 L799.5 570.2 L801.0 572.0 L802.5 565.3 L804.0 571.1 L805.5 570.3 L807.0 569.8 L808.5 576.6 L810.0 574.4 L811.5 579.7 L813.0 581.8 L814.5 586.7 L816.0 586.6 L817.5 593.0 L819.0 596.2 L820.5 602.0 L822.0 612.2 L823.5 611.6 L825.0 617.1 L826.5 626.6 L828.0 632.1 L829.5 632.5 L831.0 641.2 L832.5 642.4 L834.0 647.7 L835.5 655.3 L837.0 656.9 L838.5 662.3 L840.0 668.0 L841.5 671.9 L843.0 674.6 L844.5 681.0 L846.0 679.7 L847.5 685.1 L849.0 689.0 L850.5 693.7 L852.0 695.2 L853.5 695.7 L855.0 696.6 L856.5 694.6 L858.0 706.4 L859.5 698.5 L861.0 710.5 L862.5 700.5 L864.0 699.7 L865.5 712.1 L867.0 705.1 L868.5 706.5 L870.0 709.4 L871.5 708.7 L873.0 710.9 L874.5 703.6 L876.0 713.6 L877.5 711.7 L879.0 707.2 L880.5 718.4 L882.0 709.4 L883.5 706.9 L885.0 720.8 L886.5 709.0 L888.0 715.8" fill="none" stroke="#303030" stroke-width="1.6" stroke-linejoin="round" opacity="1.0" />
<path d="M672.0 700.0 L673.0 700.0 L674.0 700.1 L675.0 700.1 L676.0 700.2 L677.0 700.2 L678.0 700.3 L679.0 700.3 L680.0 700.4 L681.0 700.4 L682.0 700.5 L683.0 700.5 L684.0 700.6 L685.0 700.6 L686.0 700.6 L687.0 700.7 L688.0 700.7 L689.0 700.8 L690.0 700.8 L691.0 700.9 L692.0 700.9 L693.0 701.0 L694.0 701.0 L695.0 701.0 L696.0 701.1 L697.0 701.1 L698.0 701.2 L699.0 701.2 L700.0 701.2 L701.0 701.3 L702.0 701.3 L703.0 701.4 L704.0 701.4 L705.0 701.4 L706.0 701.5 L707.0 701.5 L708.0 701.5 L709.0 701.5 L710.0 701.5 L711.0 701.5 L712.0 701.6 L713.0 701.6 L714.0 701.6 L715.0 701.5 L716.0 701.5 L717.0 701.5 L718.0 701.5 L719.0 701.4 L720.0 701.4 L721.0 701.3 L722.0 701.2 L723.0 701.1 L724.0 701.0 L725.0 700.8 L726.0 700.7 L727.0 700.5 L728.0 700.3 L729.0 700.1 L730.0 699.8 L731.0 699.5 L732.0 699.2 L733.0 698.8 L734.0 698.4 L735.0 698.0 L736.0 697.5 L737.0 697.0 L738.0 696.4 L739.0 695.7 L740.0 695.0 L741.0 694.2 L742.0 693.4 L743.0 692.5 L744.0 691.5 L745.0 690.5 L746.0 689.4 L747.0 688.1 L748.0 686.8 L749.0 685.5 L750.0 684.0 L751.0 682.4 L752.0 680.7 L753.0 679.0 L754.0 677.1 L755.0 675.1 L756.0 673.1 L757.0 670.9 L758.0 668.6 L759.0 666.2 L760.0 663.8 L761.0 661.2 L762.0 658.5 L763.0 655.7 L764.0 652.8 L765.0 649.9 L766.0 646.8 L767.0 643.7 L768.0 640.5 L769.0 637.3 L770.0 634.0 L771.0 630.6 L772.0 627.2 L773.0 623.8 L774.0 620.3 L775.0 616.8 L776.0 613.4 L777.0 609.9 L778.0 606.5 L779.0 603.1 L780.0 599.7 L781.0 596.4 L782.0 593.2 L783.0 590.1 L784.0 587.0 L785.0 584.1 L786.0 581.3 L787.0 578.7 L788.0 576.1 L789.0 573.8 L790.0 571.6 L791.0 569.6 L792.0 567.8 L793.0 566.2 L794.0 564.8 L795.0 563.6 L796.0 562.6 L797.0 561.8 L798.0 561.3 L799.0 561.0 L800.0 560.9 L801.0 561.1 L802.0 561.5 L803.0 562.1 L804.0 563.0 L805.0 564.0 L806.0 565.3 L807.0 566.8 L808.0 568.5 L809.0 570.4 L810.0 572.5 L811.0 574.8 L812.0 577.3 L813.0 579.9 L814.0 582.6 L815.0 585.5 L816.0 588.5 L817.0 591.6 L818.0 594.9 L819.0 598.2 L820.0 601.6 L821.0 605.0 L822.0 608.5 L823.0 612.0 L824.0 615.6 L825.0 619.1 L826.0 622.7 L827.0 626.3 L828.0 629.8 L829.0 633.3 L830.0 636.7 L831.0 640.1 L832.0 643.5 L833.0 646.8 L834.0 650.0 L835.0 653.1 L836.0 656.2 L837.0 659.1 L838.0 662.0 L839.0 664.8 L840.0 667.5 L841.0 670.0 L842.0 672.5 L843.0 674.9 L844.0 677.2 L845.0 679.3 L846.0 681.4 L847.0 683.3 L848.0 685.2 L849.0 687.0 L850.0 688.6 L851.0 690.2 L852.0 691.7 L853.0 693.1 L854.0 694.4 L855.0 695.6 L856.0 696.7 L857.0 697.8 L858.0 698.8 L859.0 699.7 L860.0 700.6 L861.0 701.4 L862.0 702.1 L863.0 702.8 L864.0 703.4 L865.0 704.0 L866.0 704.5 L867.0 705.0 L868.0 705.5 L869.0 705.9 L870.0 706.3 L871.0 706.6 L872.0 707.0 L873.0 707.3 L874.0 707.5 L875.0 707.8 L876.0 708.0 L877.0 708.2 L878.0 708.4 L879.0 708.6 L880.0 708.8 L881.0 708.9 L882.0 709.1 L883.0 709.2 L884.0 709.3 L885.0 709.4 L886.0 709.5 L887.0 709.6 L888.0 709.7" fill="none" stroke="#c43a4a" stroke-width="2.0" stroke-linejoin="round" opacity="1.0" />
<path d="M672.0 700.0 L673.0 700.0 L674.0 700.1 L675.0 700.1 L676.0 700.2 L677.0 700.2 L678.0 700.3 L679.0 700.3 L680.0 700.4 L681.0 700.4 L682.0 700.5 L683.0 700.5 L684.0 700.6 L685.0 700.6 L686.0 700.6 L687.0 700.7 L688.0 700.7 L689.0 700.8 L690.0 700.8 L691.0 700.9 L692.0 700.9 L693.0 701.0 L694.0 701.0 L695.0 701.0 L696.0 701.1 L697.0 701.1 L698.0 701.2 L699.0 701.2 L700.0 701.2 L701.0 701.3 L702.0 701.3 L703.0 701.4 L704.0 701.4 L705.0 701.4 L706.0 701.5 L707.0 701.5 L708.0 701.5 L709.0 701.5 L710.0 701.5 L711.0 701.5 L712.0 701.6 L713.0 701.6 L714.0 701.6 L715.0 701.5 L716.0 701.5 L717.0 701.5 L718.0 701.5 L719.0 701.4 L720.0 701.4 L721.0 701.3 L722.0 701.2 L723.0 701.1 L724.0 701.0 L725.0 700.8 L726.0 700.7 L727.0 700.5 L728.0 700.3 L729.0 700.1 L730.0 699.8 L731.0 699.5 L732.0 699.2 L733.0 698.8 L734.0 698.4 L735.0 698.0 L736.0 697.5 L737.0 697.0 L738.0 696.4 L739.0 695.7 L740.0 695.0 L741.0 694.2 L742.0 693.4 L743.0 692.5 L744.0 691.5 L745.0 690.5 L746.0 689.4 L747.0 688.1 L748.0 686.8 L749.0 685.5 L750.0 684.0 L751.0 682.4 L752.0 680.7 L753.0 679.0 L754.0 677.1 L755.0 675.1 L756.0 673.1 L757.0 670.9 L758.0 668.6 L759.0 666.2 L760.0 663.8 L761.0 661.2 L762.0 658.5 L763.0 655.7 L764.0 652.8 L765.0 649.9 L766.0 646.8 L767.0 643.7 L768.0 640.5 L769.0 637.3 L770.0 634.0 L771.0 630.6 L772.0 627.2 L773.0 623.8 L774.0 620.3 L775.0 616.8 L776.0 613.4 L777.0 609.9 L778.0 606.5 L779.0 603.1 L780.0 599.7 L781.0 596.4 L782.0 593.2 L783.0 590.1 L784.0 587.0 L785.0 584.1 L786.0 581.3 L787.0 578.7 L788.0 576.1 L789.0 573.8 L790.0 571.6 L791.0 569.6 L792.0 567.8 L793.0 566.2 L794.0 564.8 L795.0 563.6 L796.0 562.6 L797.0 561.8 L798.0 561.3 L799.0 561.0 L800.0 560.9 L801.0 561.1 L802.0 561.5 L803.0 562.1 L804.0 563.0 L805.0 564.0 L806.0 565.3 L807.0 566.8 L808.0 568.5 L809.0 570.4 L810.0 572.5 L811.0 574.8 L812.0 577.3 L813.0 579.9 L814.0 582.6 L815.0 585.5 L816.0 588.5 L817.0 591.6 L818.0 594.9 L819.0 598.2 L820.0 601.6 L821.0 605.0 L822.0 608.5 L823.0 612.0 L824.0 615.6 L825.0 619.1 L826.0 622.7 L827.0 626.3 L828.0 629.8 L829.0 633.3 L830.0 636.7 L831.0 640.1 L832.0 643.5 L833.0 646.8 L834.0 650.0 L835.0 653.1 L836.0 656.2 L837.0 659.1 L838.0 662.0 L839.0 664.8 L840.0 667.5 L841.0 670.0 L842.0 672.5 L843.0 674.9 L844.0 677.2 L845.0 679.3 L846.0 681.4 L847.0 683.3 L848.0 685.2 L849.0 687.0 L850.0 688.6 L851.0 690.2 L852.0 691.7 L853.0 693.1 L854.0 694.4 L855.0 695.6 L856.0 696.7 L857.0 697.8 L858.0 698.8 L859.0 699.7 L860.0 700.6 L861.0 701.4 L862.0 702.1 L863.0 702.8 L864.0 703.4 L865.0 704.0 L866.0 704.5 L867.0 705.0 L868.0 705.5 L869.0 705.9 L870.0 706.3 L871.0 706.6 L872.0 707.0 L873.0 707.3 L874.0 707.5 L875.0 707.8 L876.0 708.0 L877.0 708.2 L878.0 708.4 L879.0 708.6 L880.0 708.8 L881.0 708.9 L882.0 709.1 L883.0 709.2 L884.0 709.3 L885.0 709.4 L886.0 709.5 L887.0 709.6 L888.0 709.7" fill="none" stroke="#403480" stroke-width="2.2" stroke-linejoin="round" opacity="1.0" />
<path d="M702.0 934.0 L915.0 916.0" fill="none" stroke="#6cc46c" stroke-width="1.6" stroke-linejoin="round" opacity="1.0" />
<path d="M702.0 919.5 L703.5 927.3 L705.0 931.2 L706.5 914.8 L708.0 933.7 L709.5 919.3 L711.0 933.2 L712.5 920.9 L714.0 926.6 L715.5 927.1 L717.0 921.8 L718.5 926.4 L720.0 923.6 L721.5 932.4 L723.0 923.3 L724.5 917.1 L726.0 929.1 L727.5 923.4 L729.0 924.3 L730.5 930.1 L732.0 925.8 L733.5 914.7 L735.0 932.2 L736.5 915.8 L738.0 921.6 L739.5 918.0 L741.0 920.8 L742.5 924.0 L744.0 912.8 L745.5 922.1 L747.0 915.4 L748.5 919.3 L750.0 916.3 L751.5 919.0 L753.0 915.7 L754.5 909.2 L756.0 911.4 L757.5 902.4 L759.0 906.3 L760.5 901.8 L762.0 896.5 L763.5 899.5 L765.0 888.3 L766.5 884.0 L768.0 882.3 L769.5 873.7 L771.0 873.1 L772.5 864.5 L774.0 860.8 L775.5 849.5 L777.0 849.6 L778.5 844.5 L780.0 838.2 L781.5 832.4 L783.0 825.1 L784.5 821.6 L786.0 814.6 L787.5 808.4 L789.0 804.8 L790.5 798.3 L792.0 790.7 L793.5 789.8 L795.0 785.3 L796.5 780.5 L798.0 775.1 L799.5 778.8 L801.0 776.3 L802.5 769.3 L804.0 772.2 L805.5 769.5 L807.0 775.8 L808.5 770.1 L810.0 769.4 L811.5 773.9 L813.0 773.3 L814.5 773.0 L816.0 781.3 L817.5 787.8 L819.0 789.8 L820.5 803.4 L822.0 800.7 L823.5 812.4 L825.0 818.6 L826.5 827.4 L828.0 834.4 L829.5 845.6 L831.0 853.6 L832.5 854.9 L834.0 861.0 L835.5 871.2 L837.0 878.7 L838.5 889.5 L840.0 891.6 L841.5 897.0 L843.0 907.1 L844.5 900.0 L846.0 907.8 L847.5 915.1 L849.0 913.4 L850.5 915.0 L852.0 912.3 L853.5 919.8 L855.0 917.4 L856.5 916.0 L858.0 921.3 L859.5 912.7 L861.0 930.2 L862.5 912.8 L864.0 931.5 L865.5 915.3 L867.0 922.5 L868.5 924.3 L870.0 921.2 L871.5 930.8 L873.0 919.4 L874.5 929.7 L876.0 928.9 L877.5 930.6 L879.0 930.4 L880.5 925.5 L882.0 938.8 L883.5 923.5 L885.0 927.7 L886.5 930.9 L888.0 938.1 L889.5 919.0 L891.0 931.9 L892.5 935.6 L894.0 926.9 L895.5 922.7 L897.0 933.5 L898.5 928.5 L900.0 926.2 L901.5 920.9 L903.0 927.6 L904.5 922.7 L906.0 934.0 L907.5 916.8 L909.0 919.3 L910.5 928.5 L912.0 921.4 L913.5 931.5 L915.0 913.0" fill="none" stroke="#303030" stroke-width="1.6" stroke-linejoin="round" opacity="1.0" />
<path d="M702.0 934.0 L703.0 933.9 L704.0 933.8 L705.0 933.7 L706.0 933.6 L707.0 933.5 L708.0 933.4 L709.0 933.4 L710.0 933.3 L711.0 933.2 L712.0 933.1 L713.0 933.0 L714.0 932.9 L715.0 932.8 L716.0 932.7 L717.0 932.5 L718.0 932.4 L719.0 932.3 L720.0 932.2 L721.0 932.1 L722.0 931.9 L723.0 931.8 L724.0 931.6 L725.0 931.5 L726.0 931.3 L727.0 931.1 L728.0 930.9 L729.0 930.7 L730.0 930.5 L731.0 930.2 L732.0 929.9 L733.0 929.7 L734.0 929.3 L735.0 929.0 L736.0 928.6 L737.0 928.2 L738.0 927.8 L739.0 927.3 L740.0 926.8 L741.0 926.3 L742.0 925.7 L743.0 925.0 L744.0 924.3 L745.0 923.6 L746.0 922.7 L747.0 921.8 L748.0 920.9 L749.0 919.8 L750.0 918.7 L751.0 917.5 L752.0 916.2 L753.0 914.9 L754.0 913.4 L755.0 911.8 L756.0 910.2 L757.0 908.4 L758.0 906.5 L759.0 904.5 L760.0 902.4 L761.0 900.1 L762.0 897.8 L763.0 895.3 L764.0 892.7 L765.0 890.0 L766.0 887.2 L767.0 884.3 L768.0 881.2 L769.0 878.0 L770.0 874.7 L771.0 871.3 L772.0 867.9 L773.0 864.3 L774.0 860.6 L775.0 856.9 L776.0 853.1 L777.0 849.2 L778.0 845.3 L779.0 841.3 L780.0 837.3 L781.0 833.3 L782.0 829.3 L783.0 825.3 L784.0 821.4 L785.0 817.5 L786.0 813.6 L787.0 809.8 L788.0 806.1 L789.0 802.5 L790.0 799.1 L791.0 795.7 L792.0 792.5 L793.0 789.5 L794.0 786.7 L795.0 784.0 L796.0 781.6 L797.0 779.3 L798.0 777.3 L799.0 775.6 L800.0 774.0 L801.0 772.8 L802.0 771.8 L803.0 771.0 L804.0 770.5 L805.0 770.3 L806.0 770.5 L807.0 771.1 L808.0 772.2 L809.0 773.7 L810.0 775.7 L811.0 778.2 L812.0 781.0 L813.0 784.2 L814.0 787.7 L815.0 791.6 L816.0 795.8 L817.0 800.2 L818.0 804.8 L819.0 809.6 L820.0 814.5 L821.0 819.5 L822.0 824.6 L823.0 829.8 L824.0 834.9 L825.0 840.0 L826.0 845.0 L827.0 850.0 L828.0 854.8 L829.0 859.5 L830.0 864.1 L831.0 868.5 L832.0 872.7 L833.0 876.7 L834.0 880.5 L835.0 884.1 L836.0 887.5 L837.0 890.7 L838.0 893.6 L839.0 896.4 L840.0 898.9 L841.0 901.3 L842.0 903.4 L843.0 905.4 L844.0 907.2 L845.0 908.8 L846.0 910.3 L847.0 911.6 L848.0 912.7 L849.0 913.8 L850.0 914.7 L851.0 915.5 L852.0 916.2 L853.0 916.8 L854.0 917.3 L855.0 917.8 L856.0 918.2 L857.0 918.5 L858.0 918.8 L859.0 919.0 L860.0 919.2 L861.0 919.3 L862.0 919.4 L863.0 919.5 L864.0 919.6 L865.0 919.6 L866.0 919.6 L867.0 919.6 L868.0 919.6 L869.0 919.6 L870.0 919.6 L871.0 919.5 L872.0 919.5 L873.0 919.4 L874.0 919.4 L875.0 919.3 L876.0 919.2 L877.0 919.2 L878.0 919.1 L879.0 919.0 L880.0 918.9 L881.0 918.9 L882.0 918.8 L883.0 918.7 L884.0 918.6 L885.0 918.5 L886.0 918.4 L887.0 918.4 L888.0 918.3 L889.0 918.2 L890.0 918.1 L891.0 918.0 L892.0 917.9 L893.0 917.9 L894.0 917.8 L895.0 917.7 L896.0 917.6 L897.0 917.5 L898.0 917.4 L899.0 917.4 L900.0 917.3 L901.0 917.2 L902.0 917.1 L903.0 917.0 L904.0 916.9 L905.0 916.8 L906.0 916.8 L907.0 916.7 L908.0 916.6 L909.0 916.5 L910.0 916.4 L911.0 916.3 L912.0 916.3 L913.0 916.2 L914.0 916.1 L915.0 916.0" fill="none" stroke="#c43a4a" stroke-width="2.0" stroke-linejoin="round" opacity="1.0" />
<path d="M702.0 934.0 L703.0 933.9 L704.0 933.8 L705.0 933.7 L706.0 933.6 L707.0 933.5 L708.0 933.4 L709.0 933.4 L710.0 933.3 L711.0 933.2 L712.0 933.1 L713.0 933.0 L714.0 932.9 L715.0 932.8 L716.0 932.7 L717.0 932.5 L718.0 932.4 L719.0 932.3 L720.0 932.2 L721.0 932.1 L722.0 931.9 L723.0 931.8 L724.0 931.6 L725.0 931.5 L726.0 931.3 L727.0 931.1 L728.0 930.9 L729.0 930.7 L730.0 930.5 L731.0 930.2 L732.0 929.9 L733.0 929.7 L734.0 929.3 L735.0 929.0 L736.0 928.6 L737.0 928.2 L738.0 927.8 L739.0 927.3 L740.0 926.8 L741.0 926.3 L742.0 925.7 L743.0 925.0 L744.0 924.3 L745.0 923.6 L746.0 922.7 L747.0 921.8 L748.0 920.9 L749.0 919.8 L750.0 918.7 L751.0 917.5 L752.0 916.2 L753.0 914.9 L754.0 913.4 L755.0 911.8 L756.0 910.2 L757.0 908.4 L758.0 906.5 L759.0 904.5 L760.0 902.4 L761.0 900.1 L762.0 897.8 L763.0 895.3 L764.0 892.7 L765.0 890.0 L766.0 887.2 L767.0 884.3 L768.0 881.2 L769.0 878.0 L770.0 874.7 L771.0 871.3 L772.0 867.9 L773.0 864.3 L774.0 860.6 L775.0 856.9 L776.0 853.1 L777.0 849.2 L778.0 845.3 L779.0 841.3 L780.0 837.3 L781.0 833.3 L782.0 829.3 L783.0 825.3 L784.0 821.4 L785.0 817.5 L786.0 813.6 L787.0 809.8 L788.0 806.1 L789.0 802.5 L790.0 799.1 L791.0 795.7 L792.0 792.5 L793.0 789.5 L794.0 786.7 L795.0 784.0 L796.0 781.6 L797.0 779.3 L798.0 777.3 L799.0 775.6 L800.0 774.0 L801.0 772.8 L802.0 771.8 L803.0 771.0 L804.0 770.5 L805.0 770.3 L806.0 770.5 L807.0 771.1 L808.0 772.2 L809.0 773.7 L810.0 775.7 L811.0 778.2 L812.0 781.0 L813.0 784.2 L814.0 787.7 L815.0 791.6 L816.0 795.8 L817.0 800.2 L818.0 804.8 L819.0 809.6 L820.0 814.5 L821.0 819.5 L822.0 824.6 L823.0 829.8 L824.0 834.9 L825.0 840.0 L826.0 845.0 L827.0 850.0 L828.0 854.8 L829.0 859.5 L830.0 864.1 L831.0 868.5 L832.0 872.7 L833.0 876.7 L834.0 880.5 L835.0 884.1 L836.0 887.5 L837.0 890.7 L838.0 893.6 L839.0 896.4 L840.0 898.9 L841.0 901.3 L842.0 903.4 L843.0 905.4 L844.0 907.2 L845.0 908.8 L846.0 910.3 L847.0 911.6 L848.0 912.7 L849.0 913.8 L850.0 914.7 L851.0 915.5 L852.0 916.2 L853.0 916.8 L854.0 917.3 L855.0 917.8 L856.0 918.2 L857.0 918.5 L858.0 918.8 L859.0 919.0 L860.0 919.2 L861.0 919.3 L862.0 919.4 L863.0 919.5 L864.0 919.6 L865.0 919.6 L866.0 919.6 L867.0 919.6 L868.0 919.6 L869.0 919.6 L870.0 919.6 L871.0 919.5 L872.0 919.5 L873.0 919.4 L874.0 919.4 L875.0 919.3 L876.0 919.2 L877.0 919.2 L878.0 919.1 L879.0 919.0 L880.0 918.9 L881.0 918.9 L882.0 918.8 L883.0 918.7 L884.0 918.6 L885.0 918.5 L886.0 918.4 L887.0 918.4 L888.0 918.3 L889.0 918.2 L890.0 918.1 L891.0 918.0 L892.0 917.9 L893.0 917.9 L894.0 917.8 L895.0 917.7 L896.0 917.6 L897.0 917.5 L898.0 917.4 L899.0 917.4 L900.0 917.3 L901.0 917.2 L902.0 917.1 L903.0 917.0 L904.0 916.9 L905.0 916.8 L906.0 916.8 L907.0 916.7 L908.0 916.6 L909.0 916.5 L910.0 916.4 L911.0 916.3 L912.0 916.3 L913.0 916.2 L914.0 916.1 L915.0 916.0" fill="none" stroke="#403480" stroke-width="2.2" stroke-linejoin="round" opacity="1.0" />
<path d="M701.0 1110.0 L915.0 1117.0" fill="none" stroke="#6cc46c" stroke-width="1.6" stroke-linejoin="round" opacity="1.0" />
<path d="M860.0 1115.2 L915.0 1117.0" fill="none" stroke="#4a4cb0" stroke-width="1.6" stroke-linejoin="round" opacity="1.0" />
<path d="M701.0 1112.8 L702.5 1120.5 L704.0 1119.5 L705.5 1111.0 L707.0 1120.7 L708.5 1129.6 L710.0 1109.8 L711.5 1121.1 L713.0 1119.3 L714.5 1109.6 L716.0 1122.9 L717.5 1122.3 L719.0 1117.0 L720.5 1114.4 L722.0 1121.2 L723.5 1114.1 L725.0 1121.8 L726.5 1117.8 L728.0 1118.8 L729.5 1114.8 L731.0 1127.1 L732.5 1116.1 L734.0 1122.0 L735.5 1117.1 L737.0 1116.3 L738.5 1119.7 L740.0 1116.4 L741.5 1117.8 L743.0 1116.3 L744.5 1113.8 L746.0 1116.8 L747.5 1115.7 L749.0 1118.9 L750.5 1109.3 L752.0 1121.0 L753.5 1103.5 L755.0 1114.0 L756.5 1112.4 L758.0 1109.7 L759.5 1115.2 L761.0 1101.7 L762.5 1109.1 L764.0 1104.3 L765.5 1113.1 L767.0 1115.6 L768.5 1101.9 L770.0 1109.2 L771.5 1102.9 L773.0 1112.6 L774.5 1105.9 L776.0 1106.8 L777.5 1097.0 L779.0 1100.1 L780.5 1093.4 L782.0 1092.4 L783.5 1089.2 L785.0 1088.1 L786.5 1072.0 L788.0 1085.2 L789.5 1065.6 L791.0 1071.8 L792.5 1056.2 L794.0 1046.4 L795.5 1039.6 L797.0 1033.0 L798.5 1014.8 L800.0 1019.1 L801.5 999.9 L803.0 996.0 L804.5 982.6 L806.0 980.5 L807.5 969.4 L809.0 967.2 L810.5 970.7 L812.0 972.8 L813.5 972.9 L815.0 971.0 L816.5 984.9 L818.0 987.1 L819.5 999.4 L821.0 1003.1 L822.5 1012.8 L824.0 1023.7 L825.5 1027.7 L827.0 1038.8 L828.5 1043.0 L830.0 1049.7 L831.5 1058.9 L833.0 1059.0 L834.5 1075.3 L836.0 1073.6 L837.5 1078.7 L839.0 1085.8 L840.5 1076.7 L842.0 1092.4 L843.5 1086.1 L845.0 1086.7 L846.5 1084.5 L848.0 1095.9 L849.5 1091.8 L851.0 1095.9 L852.5 1101.9 L854.0 1103.6 L855.5 1101.0 L857.0 1108.9 L858.5 1119.6 L860.0 1102.1 L861.5 1121.2 L863.0 1113.3 L864.5 1118.4 L866.0 1125.4 L867.5 1117.4 L869.0 1122.7 L870.5 1132.2 L872.0 1131.3 L873.5 1130.1 L875.0 1138.6 L876.5 1129.9 L878.0 1137.4 L879.5 1127.8 L881.0 1145.5 L882.5 1129.3 L884.0 1137.5 L885.5 1136.2 L887.0 1130.9 L888.5 1137.4 L890.0 1133.0 L891.5 1139.2 L893.0 1126.2 L894.5 1135.4 L896.0 1131.5 L897.5 1129.9 L899.0 1128.1 L900.5 1134.6 L902.0 1122.7 L903.5 1127.9 L905.0 1130.8 L906.5 1129.1 L908.0 1125.8 L909.5 1127.6 L911.0 1123.5 L912.5 1132.5 L914.0 1126.9" fill="none" stroke="#303030" stroke-width="1.6" stroke-linejoin="round" opacity="1.0" />
<path d="M701.0 1110.0 L702.0 1110.0 L703.0 1110.1 L704.0 1110.1 L705.0 1110.1 L706.0 1110.2 L707.0 1110.2 L708.0 1110.2 L709.0 1110.3 L710.0 1110.3 L711.0 1110.3 L712.0 1110.4 L713.0 1110.4 L714.0 1110.4 L715.0 1110.5 L716.0 1110.5 L717.0 1110.5 L718.0 1110.6 L719.0 1110.6 L720.0 1110.6 L721.0 1110.7 L722.0 1110.7 L723.0 1110.7 L724.0 1110.8 L725.0 1110.8 L726.0 1110.8 L727.0 1110.9 L728.0 1110.9 L729.0 1110.9 L730.0 1110.9 L731.0 1111.0 L732.0 1111.0 L733.0 1111.0 L734.0 1111.1 L735.0 1111.1 L736.0 1111.1 L737.0 1111.2 L738.0 1111.2 L739.0 1111.2 L740.0 1111.3 L741.0 1111.3 L742.0 1111.3 L743.0 1111.4 L744.0 1111.4 L745.0 1111.4 L746.0 1111.5 L747.0 1111.5 L748.0 1111.5 L749.0 1111.6 L750.0 1111.6 L751.0 1111.6 L752.0 1111.6 L753.0 1111.7 L754.0 1111.7 L755.0 1111.7 L756.0 1111.7 L757.0 1111.8 L758.0 1111.8 L759.0 1111.8 L760.0 1111.7 L761.0 1111.7 L762.0 1111.7 L763.0 1111.6 L764.0 1111.6 L765.0 1111.5 L766.0 1111.3 L767.0 1111.2 L768.0 1111.0 L769.0 1110.7 L770.0 1110.4 L771.0 1110.0 L772.0 1109.5 L773.0 1108.9 L774.0 1108.2 L775.0 1107.4 L776.0 1106.4 L777.0 1105.3 L778.0 1103.9 L779.0 1102.4 L780.0 1100.7 L781.0 1098.7 L782.0 1096.5 L783.0 1094.0 L784.0 1091.2 L785.0 1088.1 L786.0 1084.8 L787.0 1081.1 L788.0 1077.1 L789.0 1072.7 L790.0 1068.1 L791.0 1063.2 L792.0 1058.0 L793.0 1052.6 L794.0 1047.0 L795.0 1041.3 L796.0 1035.4 L797.0 1029.4 L798.0 1023.5 L799.0 1017.6 L800.0 1011.9 L801.0 1006.3 L802.0 1001.1 L803.0 996.1 L804.0 991.6 L805.0 987.5 L806.0 984.0 L807.0 981.0 L808.0 978.6 L809.0 976.9 L810.0 975.9 L811.0 975.6 L812.0 976.0 L813.0 977.1 L814.0 978.8 L815.0 981.2 L816.0 984.3 L817.0 987.9 L818.0 992.0 L819.0 996.6 L820.0 1001.7 L821.0 1007.0 L822.0 1012.6 L823.0 1018.4 L824.0 1024.4 L825.0 1030.4 L826.0 1036.4 L827.0 1042.3 L828.0 1048.1 L829.0 1053.8 L830.0 1059.3 L831.0 1064.5 L832.0 1069.5 L833.0 1074.2 L834.0 1078.6 L835.0 1082.6 L836.0 1086.4 L837.0 1089.8 L838.0 1093.0 L839.0 1095.8 L840.0 1098.4 L841.0 1100.7 L842.0 1102.7 L843.0 1104.5 L844.0 1106.1 L845.0 1107.5 L846.0 1108.7 L847.0 1109.7 L848.0 1110.6 L849.0 1111.4 L850.0 1112.0 L851.0 1112.6 L852.0 1113.0 L853.0 1113.4 L854.0 1113.8 L855.0 1114.0 L856.0 1114.3 L857.0 1114.5 L858.0 1114.6 L859.0 1114.8 L860.0 1114.9 L861.0 1115.0 L862.0 1115.1 L863.0 1115.2 L864.0 1115.2 L865.0 1115.3 L866.0 1115.3 L867.0 1115.4 L868.0 1115.4 L869.0 1115.5 L870.0 1115.5 L871.0 1115.5 L872.0 1115.6 L873.0 1115.6 L874.0 1115.7 L875.0 1115.7 L876.0 1115.7 L877.0 1115.8 L878.0 1115.8 L879.0 1115.8 L880.0 1115.9 L881.0 1115.9 L882.0 1115.9 L883.0 1116.0 L884.0 1116.0 L885.0 1116.0 L886.0 1116.1 L887.0 1116.1 L888.0 1116.1 L889.0 1116.1 L890.0 1116.2 L891.0 1116.2 L892.0 1116.2 L893.0 1116.3 L894.0 1116.3 L895.0 1116.3 L896.0 1116.4 L897.0 1116.4 L898.0 1116.4 L899.0 1116.5 L900.0 1116.5 L901.0 1116.5 L902.0 1116.6 L903.0 1116.6 L904.0 1116.6 L905.0 1116.7 L906.0 1116.7 L907.0 1116.7 L908.0 1116.8 L909.0 1116.8 L910.0 1116.8 L911.0 1116.9 L912.0 1116.9 L913.0 1116.9 L914.0 1117.0 L915.0 1117.0" fill="none" stroke="#c43a4a" stroke-width="2.0" stroke-linejoin="round" opacity="1.0" />
<path d="M701.0 1110.0 L702.0 1110.0 L703.0 1110.1 L704.0 1110.1 L705.0 1110.1 L706.0 1110.2 L707.0 1110.2 L708.0 1110.2 L709.0 1110.3 L710.0 1110.3 L711.0 1110.3 L712.0 1110.4 L713.0 1110.4 L714.0 1110.4 L715.0 1110.5 L716.0 1110.5 L717.0 1110.5 L718.0 1110.6 L719.0 1110.6 L720.0 1110.6 L721.0 1110.7 L722.0 1110.7 L723.0 1110.7 L724.0 1110.8 L725.0 1110.8 L726.0 1110.8 L727.0 1110.9 L728.0 1110.9 L729.0 1110.9 L730.0 1110.9 L731.0 1111.0 L732.0 1111.0 L733.0 1111.0 L734.0 1111.1 L735.0 1111.1 L736.0 1111.1 L737.0 1111.2 L738.0 1111.2 L739.0 1111.2 L740.0 1111.3 L741.0 1111.3 L742.0 1111.3 L743.0 1111.4 L744.0 1111.4 L745.0 1111.4 L746.0 1111.5 L747.0 1111.5 L748.0 1111.5 L749.0 1111.6 L750.0 1111.6 L751.0 1111.6 L752.0 1111.6 L753.0 1111.7 L754.0 1111.7 L755.0 1111.7 L756.0 1111.7 L757.0 1111.8 L758.0 1111.8 L759.0 1111.8 L760.0 1111.7 L761.0 1111.7 L762.0 1111.7 L763.0 1111.6 L764.0 1111.6 L765.0 1111.5 L766.0 1111.3 L767.0 1111.2 L768.0 1111.0 L769.0 1110.7 L770.0 1110.4 L771.0 1110.0 L772.0 1109.5 L773.0 1108.9 L774.0 1108.2 L775.0 1107.4 L776.0 1106.4 L777.0 1105.3 L778.0 1103.9 L779.0 1102.4 L780.0 1100.7 L781.0 1098.7 L782.0 1096.5 L783.0 1094.0 L784.0 1091.2 L785.0 1088.1 L786.0 1084.8 L787.0 1081.1 L788.0 1077.1 L789.0 1072.7 L790.0 1068.1 L791.0 1063.2 L792.0 1058.0 L793.0 1052.6 L794.0 1047.0 L795.0 1041.3 L796.0 1035.4 L797.0 1029.4 L798.0 1023.5 L799.0 1017.6 L800.0 1011.9 L801.0 1006.3 L802.0 1001.1 L803.0 996.1 L804.0 991.6 L805.0 987.5 L806.0 984.0 L807.0 981.0 L808.0 978.6 L809.0 976.9 L810.0 975.9 L811.0 975.6 L812.0 976.0 L813.0 977.1 L814.0 978.8 L815.0 981.2 L816.0 984.3 L817.0 987.9 L818.0 992.0 L819.0 996.6 L820.0 1001.7 L821.0 1007.0 L822.0 1012.6 L823.0 1018.4 L824.0 1024.4 L825.0 1030.4 L826.0 1036.4 L827.0 1042.3 L828.0 1048.1 L829.0 1053.8 L830.0 1059.3 L831.0 1064.5 L832.0 1069.5 L833.0 1074.2 L834.0 1078.6 L835.0 1082.6 L836.0 1086.4 L837.0 1089.8 L838.0 1093.0 L839.0 1095.8 L840.0 1098.4 L841.0 1100.7 L842.0 1102.7 L843.0 1104.5 L844.0 1106.1 L845.0 1107.5 L846.0 1108.7 L847.0 1109.7 L848.0 1110.6 L849.0 1111.4 L850.0 1112.0 L851.0 1112.6 L852.0 1113.0 L853.0 1113.4 L854.0 1113.8 L855.0 1114.0 L856.0 1114.3 L857.0 1114.5 L858.0 1114.6 L859.0 1114.8 L860.0 1114.9 L861.0 1115.0 L862.0 1115.1 L863.0 1115.2 L864.0 1115.2 L865.0 1115.3 L866.0 1115.3 L867.0 1115.4 L868.0 1115.4 L869.0 1115.5 L870.0 1115.5 L871.0 1115.5 L872.0 1115.6 L873.0 1115.6 L874.0 1115.7 L875.0 1115.7 L876.0 1115.7 L877.0 1115.8 L878.0 1115.8 L879.0 1115.8 L880.0 1115.9 L881.0 1115.9 L882.0 1115.9 L883.0 1116.0 L884.0 1116.0 L885.0 1116.0 L886.0 1116.1 L887.0 1116.1 L888.0 1116.1 L889.0 1116.1 L890.0 1116.2 L891.0 1116.2 L892.0 1116.2 L893.0 1116.3 L894.0 1116.3 L895.0 1116.3 L896.0 1116.4 L897.0 1116.4 L898.0 1116.4 L899.0 1116.5 L900.0 1116.5 L901.0 1116.5 L902.0 1116.6 L903.0 1116.6 L904.0 1116.6 L905.0 1116.7 L906.0 1116.7 L907.0 1116.7 L908.0 1116.8 L909.0 1116.8 L910.0 1116.8 L911.0 1116.9 L912.0 1116.9 L913.0 1116.9 L914.0 1117.0 L915.0 1117.0" fill="none" stroke="#403480" stroke-width="2.2" stroke-linejoin="round" opacity="1.0" />
<path d="M998.0 159.0 L1198.0 183.0" fill="none" stroke="#6cc46c" stroke-width="1.6" stroke-linejoin="round" opacity="1.0" />
<path d="M998.0 159.0 L1070.0 167.6" fill="none" stroke="#403480" stroke-width="1.6" stroke-linejoin="round" opacity="1.0" />
<path d="M1140.0 176.0 L1198.0 183.0" fill="none" stroke="#403480" stroke-width="1.6" stroke-linejoin="round" opacity="1.0" />
<path d="M998.0 148.6 L999.8 163.8 L1001.6 165.6 L1003.4 174.9 L1005.2 132.5 L1007.0 157.5 L1008.8 145.4 L1010.6 158.0 L1012.4 155.4 L1014.2 143.1 L1016.0 167.5 L1017.8 137.4 L1019.6 174.1 L1021.4 142.1 L1023.2 170.1 L1025.0 161.1 L1026.8 158.3 L1028.6 153.9 L1030.4 153.8 L1032.2 149.9 L1034.0 185.3 L1035.8 159.7 L1037.6 186.3 L1039.4 157.5 L1041.2 169.0 L1043.0 153.3 L1044.8 164.2 L1046.6 143.9 L1048.4 184.3 L1050.2 168.6 L1052.0 181.6 L1053.8 176.5 L1055.6 147.8 L1057.4 141.2 L1059.2 185.2 L1061.0 161.5 L1062.8 155.8 L1064.6 159.1 L1066.4 179.5 L1068.2 183.7 L1070.0 164.6 L1071.8 157.3 L1073.6 178.2 L1075.4 171.3 L1077.2 142.5 L1079.0 175.0 L1080.8 135.7 L1082.6 158.1 L1084.4 147.7 L1086.2 137.6 L1088.0 111.7 L1089.8 134.0 L1091.6 89.4 L1093.4 119.8 L1095.2 64.8 L1097.0 87.0 L1098.8 62.2 L1100.6 56.2 L1102.4 58.9 L1104.2 49.5 L1106.0 67.1 L1107.8 40.0 L1109.6 59.7 L1111.4 27.6 L1113.2 75.5 L1115.0 63.9 L1116.8 87.2 L1118.6 92.4 L1120.4 76.1 L1122.2 92.6 L1124.0 108.1 L1125.8 118.1 L1127.6 153.2 L1129.4 115.1 L1131.2 162.6 L1133.0 162.2 L1134.8 155.2 L1136.6 148.1 L1138.4 162.8 L1140.2 178.9 L1142.0 178.1 L1143.8 169.5 L1145.6 181.2 L1147.4 191.4 L1149.2 166.5 L1151.0 204.0 L1152.8 153.9 L1154.6 205.0 L1156.4 152.6 L1158.2 205.8 L1160.0 168.0 L1161.8 165.4 L1163.6 188.0 L1165.4 184.8 L1167.2 187.0 L1169.0 180.7 L1170.8 180.0 L1172.6 179.1 L1174.4 185.0 L1176.2 197.4 L1178.0 183.4 L1179.8 192.3 L1181.6 182.8 L1183.4 202.5 L1185.2 207.8 L1187.0 203.8 L1188.8 162.3 L1190.6 183.8 L1192.4 173.4 L1194.2 186.8 L1196.0 211.4 L1197.8 172.4" fill="none" stroke="#303030" stroke-width="2.4" stroke-linejoin="round" opacity="1.0" />
<path d="M998.0 159.0 L999.0 159.1 L1000.0 159.2 L1001.0 159.4 L1002.0 159.5 L1003.0 159.6 L1004.0 159.7 L1005.0 159.8 L1006.0 160.0 L1007.0 160.1 L1008.0 160.2 L1009.0 160.3 L1010.0 160.4 L1011.0 160.6 L1012.0 160.7 L1013.0 160.8 L1014.0 160.9 L1015.0 161.0 L1016.0 161.2 L1017.0 161.3 L1018.0 161.4 L1019.0 161.5 L1020.0 161.6 L1021.0 161.8 L1022.0 161.9 L1023.0 162.0 L1024.0 162.1 L1025.0 162.2 L1026.0 162.4 L1027.0 162.5 L1028.0 162.6 L1029.0 162.7 L1030.0 162.8 L1031.0 163.0 L1032.0 163.1 L1033.0 163.2 L1034.0 163.3 L1035.0 163.4 L1036.0 163.6 L1037.0 163.7 L1038.0 163.8 L1039.0 163.9 L1040.0 164.0 L1041.0 164.2 L1042.0 164.3 L1043.0 164.4 L1044.0 164.5 L1045.0 164.6 L1046.0 164.8 L1047.0 164.9 L1048.0 165.0 L1049.0 165.1 L1050.0 165.2 L1051.0 165.4 L1052.0 165.5 L1053.0 165.6 L1054.0 165.7 L1055.0 165.8 L1056.0 165.9 L1057.0 166.0 L1058.0 166.1 L1059.0 166.2 L1060.0 166.3 L1061.0 166.4 L1062.0 166.4 L1063.0 166.5 L1064.0 166.5 L1065.0 166.5 L1066.0 166.5 L1067.0 166.4 L1068.0 166.3 L1069.0 166.1 L1070.0 165.8 L1071.0 165.5 L1072.0 165.1 L1073.0 164.6 L1074.0 163.9 L1075.0 163.1 L1076.0 162.1 L1077.0 161.0 L1078.0 159.6 L1079.0 158.0 L1080.0 156.2 L1081.0 154.0 L1082.0 151.6 L1083.0 148.9 L1084.0 145.9 L1085.0 142.5 L1086.0 138.7 L1087.0 134.7 L1088.0 130.3 L1089.0 125.6 L1090.0 120.6 L1091.0 115.3 L1092.0 109.8 L1093.0 104.1 L1094.0 98.3 L1095.0 92.4 L1096.0 86.5 L1097.0 80.7 L1098.0 75.0 L1099.0 69.6 L1100.0 64.5 L1101.0 59.8 L1102.0 55.5 L1103.0 51.8 L1104.0 48.7 L1105.0 46.2 L1106.0 44.5 L1107.0 43.5 L1108.0 43.2 L1109.0 43.7 L1110.0 45.0 L1111.0 46.9 L1112.0 49.6 L1113.0 53.0 L1114.0 57.0 L1115.0 61.4 L1116.0 66.4 L1117.0 71.8 L1118.0 77.4 L1119.0 83.3 L1120.0 89.4 L1121.0 95.5 L1122.0 101.6 L1123.0 107.7 L1124.0 113.6 L1125.0 119.4 L1126.0 124.9 L1127.0 130.1 L1128.0 135.1 L1129.0 139.7 L1130.0 144.0 L1131.0 148.0 L1132.0 151.6 L1133.0 154.9 L1134.0 157.9 L1135.0 160.5 L1136.0 162.9 L1137.0 165.0 L1138.0 166.8 L1139.0 168.4 L1140.0 169.8 L1141.0 171.0 L1142.0 172.1 L1143.0 173.0 L1144.0 173.7 L1145.0 174.4 L1146.0 175.0 L1147.0 175.4 L1148.0 175.9 L1149.0 176.2 L1150.0 176.5 L1151.0 176.8 L1152.0 177.1 L1153.0 177.3 L1154.0 177.5 L1155.0 177.7 L1156.0 177.8 L1157.0 178.0 L1158.0 178.1 L1159.0 178.3 L1160.0 178.4 L1161.0 178.5 L1162.0 178.7 L1163.0 178.8 L1164.0 178.9 L1165.0 179.0 L1166.0 179.2 L1167.0 179.3 L1168.0 179.4 L1169.0 179.5 L1170.0 179.6 L1171.0 179.8 L1172.0 179.9 L1173.0 180.0 L1174.0 180.1 L1175.0 180.2 L1176.0 180.4 L1177.0 180.5 L1178.0 180.6 L1179.0 180.7 L1180.0 180.8 L1181.0 181.0 L1182.0 181.1 L1183.0 181.2 L1184.0 181.3 L1185.0 181.4 L1186.0 181.6 L1187.0 181.7 L1188.0 181.8 L1189.0 181.9 L1190.0 182.0 L1191.0 182.2 L1192.0 182.3 L1193.0 182.4 L1194.0 182.5 L1195.0 182.6 L1196.0 182.8 L1197.0 182.9 L1198.0 183.0" fill="none" stroke="#403480" stroke-width="2.2" stroke-linejoin="round" opacity="1.0" />
<path d="M998.0 411.0 L1198.0 451.5" fill="none" stroke="#6cc46c" stroke-width="1.6" stroke-linejoin="round" opacity="1.0" />
<path d="M998.0 411.0 L1080.0 427.6" fill="none" stroke="#403480" stroke-width="1.6" stroke-linejoin="round" opacity="1.0" />
<path d="M1145.0 440.8 L1198.0 451.5" fill="none" stroke="#403480" stroke-width="1.6" stroke-linejoin="round" opacity="1.0" />
<path d="M998.0 414.8 L999.8 415.6 L1001.6 416.8 L1003.4 429.0 L1005.2 412.2 L1007.0 398.9 L1008.8 432.2 L1010.6 410.4 L1012.4 420.3 L1014.2 421.8 L1016.0 423.5 L1017.8 437.3 L1019.6 424.7 L1021.4 422.1 L1023.2 410.9 L1025.0 411.7 L1026.8 430.8 L1028.6 439.7 L1030.4 417.6 L1032.2 424.7 L1034.0 432.0 L1035.8 399.8 L1037.6 430.3 L1039.4 430.6 L1041.2 436.7 L1043.0 418.1 L1044.8 435.3 L1046.6 427.0 L1048.4 438.9 L1050.2 406.2 L1052.0 445.0 L1053.8 398.8 L1055.6 401.2 L1057.4 430.9 L1059.2 414.9 L1061.0 448.7 L1062.8 432.4 L1064.6 411.1 L1066.4 451.0 L1068.2 407.7 L1070.0 439.0 L1071.8 423.5 L1073.6 435.8 L1075.4 440.8 L1077.2 434.2 L1079.0 429.8 L1080.8 432.8 L1082.6 424.9 L1084.4 406.4 L1086.2 406.9 L1088.0 404.3 L1089.8 412.4 L1091.6 389.0 L1093.4 421.6 L1095.2 352.3 L1097.0 364.6 L1098.8 373.5 L1100.6 365.1 L1102.4 340.2 L1104.2 341.2 L1106.0 337.0 L1107.8 305.2 L1109.6 289.8 L1111.4 304.2 L1113.2 318.9 L1115.0 278.7 L1116.8 322.0 L1118.6 316.1 L1120.4 320.8 L1122.2 347.6 L1124.0 349.3 L1125.8 389.8 L1127.6 364.0 L1129.4 371.4 L1131.2 383.8 L1133.0 388.2 L1134.8 425.2 L1136.6 398.2 L1138.4 425.4 L1140.2 434.4 L1142.0 414.9 L1143.8 434.2 L1145.6 407.3 L1147.4 432.6 L1149.2 432.7 L1151.0 449.4 L1152.8 456.0 L1154.6 436.4 L1156.4 449.5 L1158.2 443.7 L1160.0 460.6 L1161.8 451.7 L1163.6 446.6 L1165.4 430.0 L1167.2 466.0 L1169.0 444.4 L1170.8 466.3 L1172.6 439.3 L1174.4 480.5 L1176.2 429.9 L1178.0 480.0 L1179.8 438.4 L1181.6 446.2 L1183.4 434.5 L1185.2 454.4 L1187.0 470.7 L1188.8 455.7 L1190.6 460.3 L1192.4 419.2 L1194.2 478.9 L1196.0 450.8 L1197.8 446.1" fill="none" stroke="#303030" stroke-width="2.4" stroke-linejoin="round" opacity="1.0" />
<path d="M998.0 411.0 L999.0 411.2 L1000.0 411.4 L1001.0 411.6 L1002.0 411.8 L1003.0 412.0 L1004.0 412.2 L1005.0 412.4 L1006.0 412.6 L1007.0 412.8 L1008.0 413.0 L1009.0 413.2 L1010.0 413.4 L1011.0 413.6 L1012.0 413.8 L1013.0 414.0 L1014.0 414.2 L1015.0 414.4 L1016.0 414.6 L1017.0 414.8 L1018.0 415.0 L1019.0 415.3 L1020.0 415.5 L1021.0 415.7 L1022.0 415.9 L1023.0 416.1 L1024.0 416.3 L1025.0 416.5 L1026.0 416.7 L1027.0 416.9 L1028.0 417.1 L1029.0 417.3 L1030.0 417.5 L1031.0 417.7 L1032.0 417.9 L1033.0 418.1 L1034.0 418.3 L1035.0 418.5 L1036.0 418.7 L1037.0 418.9 L1038.0 419.1 L1039.0 419.3 L1040.0 419.5 L1041.0 419.7 L1042.0 419.9 L1043.0 420.1 L1044.0 420.3 L1045.0 420.5 L1046.0 420.7 L1047.0 420.9 L1048.0 421.1 L1049.0 421.3 L1050.0 421.5 L1051.0 421.7 L1052.0 421.9 L1053.0 422.1 L1054.0 422.3 L1055.0 422.5 L1056.0 422.7 L1057.0 422.9 L1058.0 423.1 L1059.0 423.3 L1060.0 423.5 L1061.0 423.7 L1062.0 423.9 L1063.0 424.1 L1064.0 424.3 L1065.0 424.4 L1066.0 424.6 L1067.0 424.7 L1068.0 424.8 L1069.0 425.0 L1070.0 425.0 L1071.0 425.1 L1072.0 425.1 L1073.0 425.0 L1074.0 424.9 L1075.0 424.8 L1076.0 424.5 L1077.0 424.2 L1078.0 423.7 L1079.0 423.2 L1080.0 422.4 L1081.0 421.5 L1082.0 420.4 L1083.0 419.1 L1084.0 417.6 L1085.0 415.8 L1086.0 413.8 L1087.0 411.4 L1088.0 408.8 L1089.0 405.8 L1090.0 402.5 L1091.0 398.8 L1092.0 394.8 L1093.0 390.4 L1094.0 385.8 L1095.0 380.8 L1096.0 375.6 L1097.0 370.1 L1098.0 364.4 L1099.0 358.7 L1100.0 352.8 L1101.0 347.0 L1102.0 341.2 L1103.0 335.6 L1104.0 330.2 L1105.0 325.1 L1106.0 320.4 L1107.0 316.2 L1108.0 312.5 L1109.0 309.5 L1110.0 307.1 L1111.0 305.4 L1112.0 304.5 L1113.0 304.3 L1114.0 304.9 L1115.0 306.2 L1116.0 308.3 L1117.0 311.1 L1118.0 314.6 L1119.0 318.6 L1120.0 323.2 L1121.0 328.3 L1122.0 333.8 L1123.0 339.6 L1124.0 345.6 L1125.0 351.8 L1126.0 358.1 L1127.0 364.3 L1128.0 370.5 L1129.0 376.6 L1130.0 382.4 L1131.0 388.1 L1132.0 393.5 L1133.0 398.5 L1134.0 403.3 L1135.0 407.7 L1136.0 411.8 L1137.0 415.5 L1138.0 418.9 L1139.0 422.0 L1140.0 424.7 L1141.0 427.2 L1142.0 429.4 L1143.0 431.3 L1144.0 433.0 L1145.0 434.5 L1146.0 435.8 L1147.0 436.9 L1148.0 437.9 L1149.0 438.8 L1150.0 439.5 L1151.0 440.2 L1152.0 440.7 L1153.0 441.2 L1154.0 441.7 L1155.0 442.1 L1156.0 442.4 L1157.0 442.8 L1158.0 443.1 L1159.0 443.4 L1160.0 443.6 L1161.0 443.9 L1162.0 444.1 L1163.0 444.3 L1164.0 444.6 L1165.0 444.8 L1166.0 445.0 L1167.0 445.2 L1168.0 445.4 L1169.0 445.6 L1170.0 445.8 L1171.0 446.0 L1172.0 446.2 L1173.0 446.4 L1174.0 446.6 L1175.0 446.8 L1176.0 447.0 L1177.0 447.2 L1178.0 447.4 L1179.0 447.7 L1180.0 447.9 L1181.0 448.1 L1182.0 448.3 L1183.0 448.5 L1184.0 448.7 L1185.0 448.9 L1186.0 449.1 L1187.0 449.3 L1188.0 449.5 L1189.0 449.7 L1190.0 449.9 L1191.0 450.1 L1192.0 450.3 L1193.0 450.5 L1194.0 450.7 L1195.0 450.9 L1196.0 451.1 L1197.0 451.3 L1198.0 451.5" fill="none" stroke="#403480" stroke-width="2.2" stroke-linejoin="round" opacity="1.0" />
<path d="M1008.0 630.0 L1183.0 662.0" fill="none" stroke="#6cc46c" stroke-width="1.6" stroke-linejoin="round" opacity="1.0" />
<path d="M1008.0 630.0 L1095.0 645.9" fill="none" stroke="#403480" stroke-width="1.6" stroke-linejoin="round" opacity="1.0" />
<path d="M1135.0 653.2 L1183.0 662.0" fill="none" stroke="#403480" stroke-width="1.6" stroke-linejoin="round" opacity="1.0" />
<path d="M1008.0 673.5 L1010.2 644.5 L1012.4 662.1 L1014.6 658.8 L1016.8 631.5 L1019.0 630.7 L1021.2 639.0 L1023.4 661.2 L1025.6 665.0 L1027.8 648.3 L1030.0 630.2 L1032.2 685.0 L1034.4 615.4 L1036.6 661.1 L1038.8 640.8 L1041.0 663.4 L1043.2 669.3 L1045.4 623.5 L1047.6 662.4 L1049.8 658.2 L1052.0 635.2 L1054.2 663.2 L1056.4 657.3 L1058.6 634.4 L1060.8 644.6 L1063.0 662.4 L1065.2 652.9 L1067.4 664.9 L1069.6 694.5 L1071.8 660.8 L1074.0 667.2 L1076.2 645.5 L1078.4 682.6 L1080.6 638.1 L1082.8 691.9 L1085.0 658.7 L1087.2 612.3 L1089.4 639.1 L1091.6 641.5 L1093.8 634.5 L1096.0 619.3 L1098.2 620.7 L1100.4 645.6 L1102.6 604.0 L1104.8 590.9 L1107.0 602.6 L1109.2 603.3 L1111.4 599.8 L1113.6 560.6 L1115.8 560.7 L1118.0 548.3 L1120.2 560.1 L1122.4 581.5 L1124.6 598.5 L1126.8 608.1 L1129.0 596.7 L1131.2 637.6 L1133.4 634.4 L1135.6 643.5 L1137.8 608.8 L1140.0 669.2 L1142.2 646.4 L1144.4 689.0 L1146.6 649.5 L1148.8 682.1 L1151.0 668.8 L1153.2 692.4 L1155.4 675.1 L1157.6 687.2 L1159.8 690.8 L1162.0 680.8 L1164.2 682.4 L1166.4 664.6 L1168.6 678.4 L1170.8 708.5 L1173.0 660.8 L1175.2 688.6 L1177.4 668.1 L1179.6 673.2 L1181.8 638.4" fill="none" stroke="#303030" stroke-width="2.4" stroke-linejoin="round" opacity="1.0" />
<path d="M1008.0 630.0 L1009.0 630.2 L1010.0 630.4 L1011.0 630.5 L1012.0 630.7 L1013.0 630.9 L1014.0 631.1 L1015.0 631.3 L1016.0 631.5 L1017.0 631.6 L1018.0 631.8 L1019.0 632.0 L1020.0 632.2 L1021.0 632.4 L1022.0 632.6 L1023.0 632.7 L1024.0 632.9 L1025.0 633.1 L1026.0 633.3 L1027.0 633.5 L1028.0 633.7 L1029.0 633.8 L1030.0 634.0 L1031.0 634.2 L1032.0 634.4 L1033.0 634.6 L1034.0 634.8 L1035.0 634.9 L1036.0 635.1 L1037.0 635.3 L1038.0 635.5 L1039.0 635.7 L1040.0 635.9 L1041.0 636.0 L1042.0 636.2 L1043.0 636.4 L1044.0 636.6 L1045.0 636.8 L1046.0 636.9 L1047.0 637.1 L1048.0 637.3 L1049.0 637.5 L1050.0 637.7 L1051.0 637.9 L1052.0 638.0 L1053.0 638.2 L1054.0 638.4 L1055.0 638.6 L1056.0 638.8 L1057.0 639.0 L1058.0 639.1 L1059.0 639.3 L1060.0 639.5 L1061.0 639.7 L1062.0 639.9 L1063.0 640.1 L1064.0 640.2 L1065.0 640.4 L1066.0 640.6 L1067.0 640.8 L1068.0 641.0 L1069.0 641.2 L1070.0 641.3 L1071.0 641.5 L1072.0 641.7 L1073.0 641.9 L1074.0 642.1 L1075.0 642.2 L1076.0 642.4 L1077.0 642.6 L1078.0 642.8 L1079.0 642.9 L1080.0 643.1 L1081.0 643.3 L1082.0 643.4 L1083.0 643.5 L1084.0 643.6 L1085.0 643.7 L1086.0 643.7 L1087.0 643.7 L1088.0 643.6 L1089.0 643.5 L1090.0 643.2 L1091.0 642.9 L1092.0 642.3 L1093.0 641.6 L1094.0 640.7 L1095.0 639.6 L1096.0 638.2 L1097.0 636.5 L1098.0 634.4 L1099.0 632.0 L1100.0 629.2 L1101.0 626.0 L1102.0 622.4 L1103.0 618.5 L1104.0 614.2 L1105.0 609.5 L1106.0 604.6 L1107.0 599.5 L1108.0 594.3 L1109.0 589.1 L1110.0 584.0 L1111.0 579.2 L1112.0 574.7 L1113.0 570.7 L1114.0 567.2 L1115.0 564.5 L1116.0 562.5 L1117.0 561.4 L1118.0 561.1 L1119.0 561.8 L1120.0 563.4 L1121.0 566.0 L1122.0 569.4 L1123.0 573.5 L1124.0 578.3 L1125.0 583.6 L1126.0 589.1 L1127.0 594.9 L1128.0 600.8 L1129.0 606.6 L1130.0 612.2 L1131.0 617.6 L1132.0 622.6 L1133.0 627.3 L1134.0 631.5 L1135.0 635.3 L1136.0 638.6 L1137.0 641.5 L1138.0 644.1 L1139.0 646.2 L1140.0 648.0 L1141.0 649.6 L1142.0 650.8 L1143.0 651.9 L1144.0 652.8 L1145.0 653.5 L1146.0 654.1 L1147.0 654.6 L1148.0 655.0 L1149.0 655.3 L1150.0 655.7 L1151.0 655.9 L1152.0 656.2 L1153.0 656.4 L1154.0 656.6 L1155.0 656.8 L1156.0 657.0 L1157.0 657.2 L1158.0 657.4 L1159.0 657.6 L1160.0 657.8 L1161.0 658.0 L1162.0 658.2 L1163.0 658.3 L1164.0 658.5 L1165.0 658.7 L1166.0 658.9 L1167.0 659.1 L1168.0 659.3 L1169.0 659.4 L1170.0 659.6 L1171.0 659.8 L1172.0 660.0 L1173.0 660.2 L1174.0 660.4 L1175.0 660.5 L1176.0 660.7 L1177.0 660.9 L1178.0 661.1 L1179.0 661.3 L1180.0 661.5 L1181.0 661.6 L1182.0 661.8 L1183.0 662.0" fill="none" stroke="#403480" stroke-width="2.2" stroke-linejoin="round" opacity="1.0" />
<path d="M1005.0 870.6 L1203.0 907.0" fill="none" stroke="#6cc46c" stroke-width="1.6" stroke-linejoin="round" opacity="1.0" />
<path d="M1005.0 870.6 L1085.0 885.3" fill="none" stroke="#403480" stroke-width="1.6" stroke-linejoin="round" opacity="1.0" />
<path d="M1150.0 897.3 L1203.0 907.0" fill="none" stroke="#403480" stroke-width="1.6" stroke-linejoin="round" opacity="1.0" />
<path d="M1005.0 844.6 L1006.8 891.0 L1008.6 864.7 L1010.4 858.4 L1012.2 872.3 L1014.0 870.7 L1015.8 868.8 L1017.6 869.8 L1019.4 881.7 L1021.2 883.7 L1023.0 894.4 L1024.8 855.6 L1026.6 860.1 L1028.4 888.7 L1030.2 854.6 L1032.0 859.6 L1033.8 911.2 L1035.6 870.2 L1037.4 863.4 L1039.2 867.5 L1041.0 881.4 L1042.8 871.0 L1044.6 881.7 L1046.4 864.9 L1048.2 836.2 L1050.0 849.3 L1051.8 903.2 L1053.6 863.5 L1055.4 830.7 L1057.2 898.7 L1059.0 867.7 L1060.8 890.7 L1062.6 865.4 L1064.4 883.2 L1066.2 850.4 L1068.0 848.3 L1069.8 877.5 L1071.6 871.1 L1073.4 862.7 L1075.2 839.3 L1077.0 870.6 L1078.8 849.3 L1080.6 885.8 L1082.4 826.2 L1084.2 853.5 L1086.0 845.3 L1087.8 860.8 L1089.6 869.0 L1091.4 844.4 L1093.2 808.6 L1095.0 825.3 L1096.8 863.2 L1098.6 808.5 L1100.4 815.4 L1102.2 816.7 L1104.0 811.4 L1105.8 827.7 L1107.6 780.6 L1109.4 775.6 L1111.2 766.7 L1113.0 806.5 L1114.8 764.7 L1116.6 785.4 L1118.4 782.2 L1120.2 754.3 L1122.0 826.8 L1123.8 762.0 L1125.6 802.1 L1127.4 794.2 L1129.2 819.4 L1131.0 811.3 L1132.8 828.9 L1134.6 854.9 L1136.4 870.2 L1138.2 862.8 L1140.0 836.6 L1141.8 874.4 L1143.6 902.5 L1145.4 866.9 L1147.2 891.0 L1149.0 877.2 L1150.8 922.5 L1152.6 861.1 L1154.4 887.8 L1156.2 905.7 L1158.0 841.4 L1159.8 892.0 L1161.6 929.4 L1163.4 861.5 L1165.2 902.2 L1167.0 838.9 L1168.8 904.9 L1170.6 856.2 L1172.4 884.8 L1174.2 871.1 L1176.0 896.5 L1177.8 877.9 L1179.6 913.9 L1181.4 843.3 L1183.2 902.0 L1185.0 899.5 L1186.8 894.1 L1188.6 918.4 L1190.4 871.5 L1192.2 917.7 L1194.0 890.6 L1195.8 878.1 L1197.6 882.6 L1199.4 924.3 L1201.2 904.0 L1203.0 907.8" fill="none" stroke="#303030" stroke-width="2.4" stroke-linejoin="round" opacity="1.0" />
<path d="M1005.0 870.6 L1006.0 870.8 L1007.0 871.0 L1008.0 871.2 L1009.0 871.3 L1010.0 871.5 L1011.0 871.7 L1012.0 871.9 L1013.0 872.1 L1014.0 872.3 L1015.0 872.4 L1016.0 872.6 L1017.0 872.8 L1018.0 873.0 L1019.0 873.2 L1020.0 873.4 L1021.0 873.5 L1022.0 873.7 L1023.0 873.9 L1024.0 874.1 L1025.0 874.3 L1026.0 874.5 L1027.0 874.6 L1028.0 874.8 L1029.0 875.0 L1030.0 875.2 L1031.0 875.4 L1032.0 875.6 L1033.0 875.7 L1034.0 875.9 L1035.0 876.1 L1036.0 876.3 L1037.0 876.5 L1038.0 876.7 L1039.0 876.8 L1040.0 877.0 L1041.0 877.2 L1042.0 877.4 L1043.0 877.6 L1044.0 877.7 L1045.0 877.9 L1046.0 878.1 L1047.0 878.3 L1048.0 878.4 L1049.0 878.6 L1050.0 878.8 L1051.0 878.9 L1052.0 879.1 L1053.0 879.3 L1054.0 879.4 L1055.0 879.6 L1056.0 879.7 L1057.0 879.8 L1058.0 879.9 L1059.0 880.0 L1060.0 880.1 L1061.0 880.2 L1062.0 880.2 L1063.0 880.2 L1064.0 880.2 L1065.0 880.2 L1066.0 880.1 L1067.0 880.0 L1068.0 879.9 L1069.0 879.7 L1070.0 879.4 L1071.0 879.1 L1072.0 878.7 L1073.0 878.3 L1074.0 877.7 L1075.0 877.1 L1076.0 876.4 L1077.0 875.6 L1078.0 874.7 L1079.0 873.7 L1080.0 872.5 L1081.0 871.3 L1082.0 869.9 L1083.0 868.3 L1084.0 866.6 L1085.0 864.8 L1086.0 862.8 L1087.0 860.7 L1088.0 858.4 L1089.0 856.0 L1090.0 853.4 L1091.0 850.7 L1092.0 847.8 L1093.0 844.8 L1094.0 841.7 L1095.0 838.5 L1096.0 835.2 L1097.0 831.8 L1098.0 828.4 L1099.0 824.9 L1100.0 821.3 L1101.0 817.8 L1102.0 814.3 L1103.0 810.9 L1104.0 807.5 L1105.0 804.2 L1106.0 801.1 L1107.0 798.1 L1108.0 795.3 L1109.0 792.6 L1110.0 790.2 L1111.0 788.1 L1112.0 786.2 L1113.0 784.6 L1114.0 783.3 L1115.0 782.3 L1116.0 781.7 L1117.0 781.4 L1118.0 781.4 L1119.0 781.9 L1120.0 783.0 L1121.0 784.8 L1122.0 787.2 L1123.0 790.1 L1124.0 793.6 L1125.0 797.5 L1126.0 801.8 L1127.0 806.5 L1128.0 811.4 L1129.0 816.5 L1130.0 821.7 L1131.0 827.0 L1132.0 832.4 L1133.0 837.6 L1134.0 842.7 L1135.0 847.7 L1136.0 852.5 L1137.0 857.1 L1138.0 861.4 L1139.0 865.4 L1140.0 869.1 L1141.0 872.6 L1142.0 875.8 L1143.0 878.7 L1144.0 881.3 L1145.0 883.6 L1146.0 885.7 L1147.0 887.6 L1148.0 889.2 L1149.0 890.7 L1150.0 891.9 L1151.0 893.1 L1152.0 894.0 L1153.0 894.9 L1154.0 895.6 L1155.0 896.3 L1156.0 896.8 L1157.0 897.3 L1158.0 897.8 L1159.0 898.1 L1160.0 898.5 L1161.0 898.8 L1162.0 899.1 L1163.0 899.4 L1164.0 899.6 L1165.0 899.9 L1166.0 900.1 L1167.0 900.3 L1168.0 900.5 L1169.0 900.7 L1170.0 900.9 L1171.0 901.1 L1172.0 901.3 L1173.0 901.5 L1174.0 901.7 L1175.0 901.8 L1176.0 902.0 L1177.0 902.2 L1178.0 902.4 L1179.0 902.6 L1180.0 902.8 L1181.0 903.0 L1182.0 903.1 L1183.0 903.3 L1184.0 903.5 L1185.0 903.7 L1186.0 903.9 L1187.0 904.1 L1188.0 904.2 L1189.0 904.4 L1190.0 904.6 L1191.0 904.8 L1192.0 905.0 L1193.0 905.2 L1194.0 905.3 L1195.0 905.5 L1196.0 905.7 L1197.0 905.9 L1198.0 906.1 L1199.0 906.3 L1200.0 906.4 L1201.0 906.6 L1202.0 906.8 L1203.0 907.0" fill="none" stroke="#403480" stroke-width="2.2" stroke-linejoin="round" opacity="1.0" />
</g><g filter="url(#bt)">
<text x="30.5" y="43.5" font-size="19" font-weight="bold" fill="#2a2a2a" text-anchor="start" textLength="33.5" lengthAdjust="spacingAndGlyphs" >C1S</text>
<text x="359.0" y="43.5" font-size="19" font-weight="bold" fill="#2a2a2a" text-anchor="start" textLength="31.5" lengthAdjust="spacingAndGlyphs" >F1S</text>
<text x="681.0" y="43.5" font-size="19" font-weight="bold" fill="#2a2a2a" text-anchor="start" textLength="36.5" lengthAdjust="spacingAndGlyphs" >O1s</text>
<text x="1027.0" y="25.5" font-size="19" font-weight="bold" fill="#2a2a2a" text-anchor="start" textLength="34.0" lengthAdjust="spacingAndGlyphs" >P2p</text>
<text x="107.0" y="33.0" font-size="14.5" font-weight="normal" fill="#3a3a3a" text-anchor="start" textLength="22.5" lengthAdjust="spacingAndGlyphs" >C-H</text>
<text x="204.5" y="43.5" font-size="15" font-weight="normal" fill="#3a3a3a" text-anchor="start" textLength="24.5" lengthAdjust="spacingAndGlyphs" >C-C</text>
<text x="42.0" y="115.5" font-size="16" font-weight="normal" fill="#3a3a3a" text-anchor="start" textLength="23.5" lengthAdjust="spacingAndGlyphs" >C-F</text>
<text x="426.0" y="30.0" font-size="14" font-weight="normal" fill="#3a3a3a" text-anchor="start" textLength="38.0" lengthAdjust="spacingAndGlyphs" >PVDF</text>
<text x="561.0" y="50.0" font-size="15" font-weight="normal" fill="#3a3a3a" text-anchor="start" textLength="24.0" lengthAdjust="spacingAndGlyphs" >LiF</text>
<path d="M561.0 53.2 L562.5 54.8 L564.0 53.2 L565.5 54.8 L567.0 53.2 L568.5 54.8 L570.0 53.2 L571.5 54.8 L573.0 53.2 L574.5 54.8 L576.0 53.2 L577.5 54.8 L579.0 53.2 L580.5 54.8 L582.0 53.2 L583.5 54.8 L585.0 53.2 L586.5 54.8 L588.0 53.2 L589.5 54.8" fill="none" stroke="#e05050" stroke-width="0.9" stroke-linejoin="round" opacity="1.0" />
<text x="725.5" y="24" font-size="14" fill="#3a3a3a" textLength="52" lengthAdjust="spacingAndGlyphs">Li<tspan font-size="10" dy="1">2</tspan><tspan dy="-1">CO</tspan><tspan font-size="10" dy="1">3</tspan></text>
<text x="847.5" y="48.5" font-size="15" font-weight="normal" fill="#3a3a3a" text-anchor="start" textLength="56.0" lengthAdjust="spacingAndGlyphs" >LiMOx</text>
<path d="M847.5 50.7 L849.0 52.3 L850.5 50.7 L852.0 52.3 L853.5 50.7 L855.0 52.3 L856.5 50.7 L858.0 52.3 L859.5 50.7 L861.0 52.3 L862.5 50.7 L864.0 52.3 L865.5 50.7 L867.0 52.3 L868.5 50.7 L870.0 52.3 L871.5 50.7 L873.0 52.3 L874.5 50.7 L876.0 52.3 L877.5 50.7 L879.0 52.3 L880.5 50.7 L882.0 52.3 L883.5 50.7 L885.0 52.3 L886.5 50.7 L888.0 52.3 L889.5 50.7 L891.0 52.3 L892.5 50.7 L894.0 52.3 L895.5 50.7 L897.0 52.3 L898.5 50.7 L900.0 52.3 L901.5 50.7 L903.0 52.3" fill="none" stroke="#e05050" stroke-width="0.9" stroke-linejoin="round" opacity="1.0" />
<text x="6.0" y="162.5" font-size="17" font-weight="bold" fill="#333" text-anchor="start" textLength="10.0" lengthAdjust="spacingAndGlyphs" >e</text>
<path d="M6.0 165.2 L7.5 166.8 L9.0 165.2 L10.5 166.8 L12.0 165.2 L13.5 166.8 L15.0 165.2 L16.5 166.8 L18.0 165.2" fill="none" stroke="#7ab87a" stroke-width="1.1" stroke-linejoin="round" opacity="1.0" />
<text x="6.0" y="351.5" font-size="17" font-weight="bold" fill="#333" text-anchor="start" textLength="10.4" lengthAdjust="spacingAndGlyphs" >d</text>
<path d="M6.0 354.2 L7.5 355.8 L9.0 354.2 L10.5 355.8 L12.0 354.2 L13.5 355.8 L15.0 354.2 L16.5 355.8 L18.0 354.2" fill="none" stroke="#7ab87a" stroke-width="1.1" stroke-linejoin="round" opacity="1.0" />
<text x="6.0" y="576.0" font-size="17" font-weight="bold" fill="#333" text-anchor="start" textLength="10.0" lengthAdjust="spacingAndGlyphs" >c</text>
<path d="M6.0 578.7 L7.5 580.3 L9.0 578.7 L10.5 580.3 L12.0 578.7 L13.5 580.3 L15.0 578.7 L16.5 580.3 L18.0 578.7" fill="none" stroke="#7ab87a" stroke-width="1.1" stroke-linejoin="round" opacity="1.0" />
<text x="6.3" y="816.5" font-size="17" font-weight="bold" fill="#333" text-anchor="start" textLength="10.4" lengthAdjust="spacingAndGlyphs" >b</text>
<path d="M6.3 819.2 L7.8 820.8 L9.3 819.2 L10.8 820.8 L12.3 819.2 L13.8 820.8 L15.3 819.2 L16.8 820.8 L18.3 819.2" fill="none" stroke="#7ab87a" stroke-width="1.1" stroke-linejoin="round" opacity="1.0" />
<text x="10.0" y="1020.0" font-size="17" font-weight="bold" fill="#333" text-anchor="start" textLength="8.8" lengthAdjust="spacingAndGlyphs" >a</text>
<path d="M10.0 1022.7 L11.5 1024.3 L13.0 1022.7 L14.5 1024.3 L16.0 1022.7 L17.5 1024.3 L19.0 1022.7 L20.5 1024.3 L22.0 1022.7" fill="none" stroke="#7ab87a" stroke-width="1.1" stroke-linejoin="round" opacity="1.0" />
<text x="13.5" y="1179.5" font-size="13.5" font-weight="normal" fill="#3c3c3c" text-anchor="middle" textLength="23.0" lengthAdjust="spacingAndGlyphs" stroke="#3c3c3c" stroke-width="0.45">294</text>
<text x="49.4" y="1179.5" font-size="13.5" font-weight="normal" fill="#3c3c3c" text-anchor="middle" textLength="23.0" lengthAdjust="spacingAndGlyphs" stroke="#3c3c3c" stroke-width="0.45">292</text>
<text x="85.3" y="1179.5" font-size="13.5" font-weight="normal" fill="#3c3c3c" text-anchor="middle" textLength="23.0" lengthAdjust="spacingAndGlyphs" stroke="#3c3c3c" stroke-width="0.45">290</text>
<text x="121.2" y="1179.5" font-size="13.5" font-weight="normal" fill="#3c3c3c" text-anchor="middle" textLength="23.0" lengthAdjust="spacingAndGlyphs" stroke="#3c3c3c" stroke-width="0.45">288</text>
<text x="157.1" y="1179.5" font-size="13.5" font-weight="normal" fill="#3c3c3c" text-anchor="middle" textLength="23.0" lengthAdjust="spacingAndGlyphs" stroke="#3c3c3c" stroke-width="0.45">286</text>
<text x="193.0" y="1179.5" font-size="13.5" font-weight="normal" fill="#3c3c3c" text-anchor="middle" textLength="23.0" lengthAdjust="spacingAndGlyphs" stroke="#3c3c3c" stroke-width="0.45">284</text>
<text x="228.9" y="1179.5" font-size="13.5" font-weight="normal" fill="#3c3c3c" text-anchor="middle" textLength="23.0" lengthAdjust="spacingAndGlyphs" stroke="#3c3c3c" stroke-width="0.45">282</text>
<text x="264.8" y="1179.5" font-size="13.5" font-weight="normal" fill="#3c3c3c" text-anchor="middle" textLength="23.0" lengthAdjust="spacingAndGlyphs" stroke="#3c3c3c" stroke-width="0.45">280</text>
<text x="369.0" y="1179.5" font-size="13.5" font-weight="normal" fill="#3c3c3c" text-anchor="middle" textLength="25.0" lengthAdjust="spacingAndGlyphs" stroke="#3c3c3c" stroke-width="0.45">696</text>
<text x="397.5" y="1179.5" font-size="13.5" font-weight="normal" fill="#3c3c3c" text-anchor="middle" textLength="25.0" lengthAdjust="spacingAndGlyphs" stroke="#3c3c3c" stroke-width="0.45">694</text>
<text x="426.0" y="1179.5" font-size="13.5" font-weight="normal" fill="#3c3c3c" text-anchor="middle" textLength="25.0" lengthAdjust="spacingAndGlyphs" stroke="#3c3c3c" stroke-width="0.45">692</text>
<text x="454.5" y="1179.5" font-size="13.5" font-weight="normal" fill="#3c3c3c" text-anchor="middle" textLength="25.0" lengthAdjust="spacingAndGlyphs" stroke="#3c3c3c" stroke-width="0.45">690</text>
<text x="483.0" y="1179.5" font-size="13.5" font-weight="normal" fill="#3c3c3c" text-anchor="middle" textLength="25.0" lengthAdjust="spacingAndGlyphs" stroke="#3c3c3c" stroke-width="0.45">688</text>
<text x="511.5" y="1179.5" font-size="13.5" font-weight="normal" fill="#3c3c3c" text-anchor="middle" textLength="25.0" lengthAdjust="spacingAndGlyphs" stroke="#3c3c3c" stroke-width="0.45">686</text>
<text x="540.0" y="1179.5" font-size="13.5" font-weight="normal" fill="#3c3c3c" text-anchor="middle" textLength="25.0" lengthAdjust="spacingAndGlyphs" stroke="#3c3c3c" stroke-width="0.45">684</text>
<text x="568.5" y="1179.5" font-size="13.5" font-weight="normal" fill="#3c3c3c" text-anchor="middle" textLength="25.0" lengthAdjust="spacingAndGlyphs" stroke="#3c3c3c" stroke-width="0.45">682</text>
<text x="597.0" y="1179.5" font-size="13.5" font-weight="normal" fill="#3c3c3c" text-anchor="middle" textLength="25.0" lengthAdjust="spacingAndGlyphs" stroke="#3c3c3c" stroke-width="0.45">680</text>
<text x="625.5" y="1179.5" font-size="13.5" font-weight="normal" fill="#3c3c3c" text-anchor="middle" textLength="25.0" lengthAdjust="spacingAndGlyphs" stroke="#3c3c3c" stroke-width="0.45">678</text>
<text x="665.0" y="1180.5" font-size="13.5" font-weight="normal" fill="#3c3c3c" text-anchor="middle" textLength="25.0" lengthAdjust="spacingAndGlyphs" stroke="#3c3c3c" stroke-width="0.45">542</text>
<text x="692.1" y="1180.5" font-size="13.5" font-weight="normal" fill="#3c3c3c" text-anchor="middle" textLength="25.0" lengthAdjust="spacingAndGlyphs" stroke="#3c3c3c" stroke-width="0.45">540</text>
<text x="719.1" y="1180.5" font-size="13.5" font-weight="normal" fill="#3c3c3c" text-anchor="middle" textLength="25.0" lengthAdjust="spacingAndGlyphs" stroke="#3c3c3c" stroke-width="0.45">538</text>
<text x="746.2" y="1180.5" font-size="13.5" font-weight="normal" fill="#3c3c3c" text-anchor="middle" textLength="25.0" lengthAdjust="spacingAndGlyphs" stroke="#3c3c3c" stroke-width="0.45">536</text>
<text x="773.3" y="1180.5" font-size="13.5" font-weight="normal" fill="#3c3c3c" text-anchor="middle" textLength="25.0" lengthAdjust="spacingAndGlyphs" stroke="#3c3c3c" stroke-width="0.45">534</text>
<text x="800.4" y="1180.5" font-size="13.5" font-weight="normal" fill="#3c3c3c" text-anchor="middle" textLength="25.0" lengthAdjust="spacingAndGlyphs" stroke="#3c3c3c" stroke-width="0.45">532</text>
<text x="827.4" y="1180.5" font-size="13.5" font-weight="normal" fill="#3c3c3c" text-anchor="middle" textLength="25.0" lengthAdjust="spacingAndGlyphs" stroke="#3c3c3c" stroke-width="0.45">530</text>
<text x="854.5" y="1180.5" font-size="13.5" font-weight="normal" fill="#3c3c3c" text-anchor="middle" textLength="25.0" lengthAdjust="spacingAndGlyphs" stroke="#3c3c3c" stroke-width="0.45">528</text>
<text x="881.6" y="1180.5" font-size="13.5" font-weight="normal" fill="#3c3c3c" text-anchor="middle" textLength="25.0" lengthAdjust="spacingAndGlyphs" stroke="#3c3c3c" stroke-width="0.45">526</text>
<text x="908.6" y="1180.5" font-size="13.5" font-weight="normal" fill="#3c3c3c" text-anchor="middle" textLength="25.0" lengthAdjust="spacingAndGlyphs" stroke="#3c3c3c" stroke-width="0.45">524</text>
<text x="935.7" y="1180.5" font-size="13.5" font-weight="normal" fill="#3c3c3c" text-anchor="middle" textLength="25.0" lengthAdjust="spacingAndGlyphs" stroke="#3c3c3c" stroke-width="0.45">522</text>
<text x="1000.2" y="965.5" font-size="15" font-weight="normal" fill="#383838" text-anchor="start" textLength="3.8" lengthAdjust="spacingAndGlyphs" stroke="#383838" stroke-width="0.6">1</text>
<text x="1008.0" y="965.5" font-size="15" font-weight="normal" fill="#383838" text-anchor="start" textLength="7.0" lengthAdjust="spacingAndGlyphs" stroke="#383838" stroke-width="0.6">4</text>
<text x="1017.0" y="965.5" font-size="15" font-weight="normal" fill="#383838" text-anchor="start" textLength="14.0" lengthAdjust="spacingAndGlyphs" stroke="#383838" stroke-width="0.6">21</text>
<text x="1034.0" y="965.5" font-size="15" font-weight="normal" fill="#383838" text-anchor="start" textLength="7.0" lengthAdjust="spacingAndGlyphs" stroke="#383838" stroke-width="0.6">4</text>
<text x="1045.5" y="965.5" font-size="15" font-weight="normal" fill="#383838" text-anchor="start" textLength="12.5" lengthAdjust="spacingAndGlyphs" stroke="#383838" stroke-width="0.6">01</text>
<text x="1062.5" y="965.5" font-size="15" font-weight="normal" fill="#383838" text-anchor="start" textLength="23.5" lengthAdjust="spacingAndGlyphs" stroke="#383838" stroke-width="0.6">381</text>
<text x="1089.7" y="965.5" font-size="15" font-weight="normal" fill="#383838" text-anchor="start" textLength="22.3" lengthAdjust="spacingAndGlyphs" stroke="#383838" stroke-width="0.6">361</text>
<text x="1117.0" y="965.5" font-size="15" font-weight="normal" fill="#383838" text-anchor="start" textLength="21.0" lengthAdjust="spacingAndGlyphs" stroke="#383838" stroke-width="0.6">341</text>
<text x="1143.0" y="965.5" font-size="15" font-weight="normal" fill="#383838" text-anchor="start" textLength="22.6" lengthAdjust="spacingAndGlyphs" stroke="#383838" stroke-width="0.6">321</text>
<text x="1170.0" y="965.5" font-size="15" font-weight="normal" fill="#383838" text-anchor="start" textLength="23.0" lengthAdjust="spacingAndGlyphs" stroke="#383838" stroke-width="0.6">301</text>
<text x="1197.0" y="965.5" font-size="15" font-weight="normal" fill="#383838" text-anchor="start" textLength="22.0" lengthAdjust="spacingAndGlyphs" stroke="#383838" stroke-width="0.6">281</text>
<text x="1223.0" y="965.5" font-size="15" font-weight="normal" fill="#383838" text-anchor="start" textLength="23.0" lengthAdjust="spacingAndGlyphs" stroke="#383838" stroke-width="0.6">261</text>
<text x="1250.5" y="965.5" font-size="15" font-weight="normal" fill="#383838" text-anchor="start" textLength="15.9" lengthAdjust="spacingAndGlyphs" stroke="#383838" stroke-width="0.6">24</text>
<text x="48.0" y="1210.5" font-size="18" font-weight="bold" fill="#2c2c2c" text-anchor="start" textLength="180.5" lengthAdjust="spacingAndGlyphs" >Binding Energy (eV)</text>
<path d="M192.5 1213.7 L194.0 1215.3 L195.5 1213.7 L197.0 1215.3 L198.5 1213.7 L200.0 1215.3 L201.5 1213.7 L203.0 1215.3 L204.5 1213.7 L206.0 1215.3 L207.5 1213.7 L209.0 1215.3 L210.5 1213.7 L212.0 1215.3 L213.5 1213.7 L215.0 1215.3 L216.5 1213.7 L218.0 1215.3 L219.5 1213.7 L221.0 1215.3 L222.5 1213.7" fill="none" stroke="#e05050" stroke-width="0.9" stroke-linejoin="round" opacity="1.0" />
<text x="410.0" y="1211.0" font-size="18" font-weight="bold" fill="#2c2c2c" text-anchor="start" textLength="180.0" lengthAdjust="spacingAndGlyphs" >Binding Energy (eV)</text>
<path d="M554.0 1214.2 L555.5 1215.8 L557.0 1214.2 L558.5 1215.8 L560.0 1214.2 L561.5 1215.8 L563.0 1214.2 L564.5 1215.8 L566.0 1214.2 L567.5 1215.8 L569.0 1214.2 L570.5 1215.8 L572.0 1214.2 L573.5 1215.8 L575.0 1214.2 L576.5 1215.8 L578.0 1214.2 L579.5 1215.8 L581.0 1214.2 L582.5 1215.8 L584.0 1214.2" fill="none" stroke="#e05050" stroke-width="0.9" stroke-linejoin="round" opacity="1.0" />
<text x="712.0" y="1212.5" font-size="18" font-weight="bold" fill="#2c2c2c" text-anchor="start" textLength="179.0" lengthAdjust="spacingAndGlyphs" >Binding Energy (eV)</text>
<path d="M855.0 1215.7 L856.5 1217.3 L858.0 1215.7 L859.5 1217.3 L861.0 1215.7 L862.5 1217.3 L864.0 1215.7 L865.5 1217.3 L867.0 1215.7 L868.5 1217.3 L870.0 1215.7 L871.5 1217.3 L873.0 1215.7 L874.5 1217.3 L876.0 1215.7 L877.5 1217.3 L879.0 1215.7 L880.5 1217.3 L882.0 1215.7 L883.5 1217.3 L885.0 1215.7" fill="none" stroke="#e05050" stroke-width="0.9" stroke-linejoin="round" opacity="1.0" />
<text x="1040.5" y="998.5" font-size="18" font-weight="bold" fill="#2c2c2c" text-anchor="start" textLength="179.5" lengthAdjust="spacingAndGlyphs" >Binding Energy (eV)</text>
<path d="M1184.0 1001.7 L1185.5 1003.3 L1187.0 1001.7 L1188.5 1003.3 L1190.0 1001.7 L1191.5 1003.3 L1193.0 1001.7 L1194.5 1003.3 L1196.0 1001.7 L1197.5 1003.3 L1199.0 1001.7 L1200.5 1003.3 L1202.0 1001.7 L1203.5 1003.3 L1205.0 1001.7 L1206.5 1003.3 L1208.0 1001.7 L1209.5 1003.3 L1211.0 1001.7 L1212.5 1003.3 L1214.0 1001.7" fill="none" stroke="#e05050" stroke-width="0.9" stroke-linejoin="round" opacity="1.0" />
</g></svg>
</body></html>
